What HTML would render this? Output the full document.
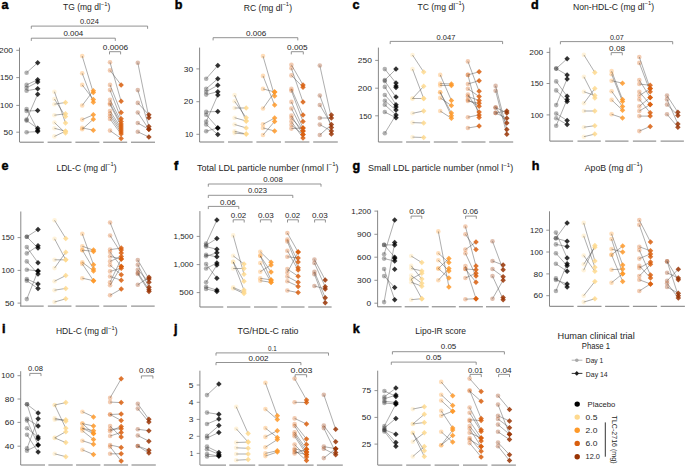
<!DOCTYPE html>
<html><head><meta charset="utf-8"><style>
html,body{margin:0;padding:0;background:#fff;width:685px;height:466px;overflow:hidden}
svg{display:block;font-family:"Liberation Sans", sans-serif}
</style></head><body>
<svg width="685" height="466" viewBox="0 0 685 466">
<rect width="685" height="466" fill="#fff"/>
<text x="1.5" y="9" font-size="12.6" font-weight="bold" fill="#000" stroke="#000" stroke-width="0.45">a</text>
<text x="86.65" y="10.3" font-size="8.6" text-anchor="middle" fill="#1e1e1e" textLength="47.3" lengthAdjust="spacingAndGlyphs">TG (mg dl<tspan font-size="5.85" dy="-4.5">−1</tspan><tspan dy="4.5">)</tspan></text>
<line x1="19.5" y1="47.6" x2="19.5" y2="142.2" stroke="#7a7a7a" stroke-width="0.9"/>
<line x1="16.3" y1="50.3" x2="19.5" y2="50.3" stroke="#7a7a7a" stroke-width="0.8"/>
<text x="13" y="53.07" font-size="7.8" text-anchor="end" fill="#1e1e1e" textLength="14.05" lengthAdjust="spacingAndGlyphs">200</text>
<line x1="16.3" y1="77.6" x2="19.5" y2="77.6" stroke="#7a7a7a" stroke-width="0.8"/>
<text x="13" y="80.37" font-size="7.8" text-anchor="end" fill="#1e1e1e" textLength="12.91" lengthAdjust="spacingAndGlyphs">150</text>
<line x1="16.3" y1="105.4" x2="19.5" y2="105.4" stroke="#7a7a7a" stroke-width="0.8"/>
<text x="13" y="108.17" font-size="7.8" text-anchor="end" fill="#1e1e1e" textLength="12.91" lengthAdjust="spacingAndGlyphs">100</text>
<line x1="16.3" y1="132.2" x2="19.5" y2="132.2" stroke="#7a7a7a" stroke-width="0.8"/>
<text x="13" y="134.97" font-size="7.8" text-anchor="end" fill="#1e1e1e" textLength="9.37" lengthAdjust="spacingAndGlyphs">50</text>
<line x1="19.8" y1="142.2" x2="43.8" y2="142.2" stroke="#7a7a7a" stroke-width="1"/>
<line x1="47.6" y1="142.2" x2="71.6" y2="142.2" stroke="#7a7a7a" stroke-width="1"/>
<line x1="75.4" y1="142.2" x2="99.4" y2="142.2" stroke="#7a7a7a" stroke-width="1"/>
<line x1="103.2" y1="142.2" x2="127.2" y2="142.2" stroke="#7a7a7a" stroke-width="1"/>
<line x1="131" y1="142.2" x2="155" y2="142.2" stroke="#7a7a7a" stroke-width="1"/>
<circle cx="26.6" cy="72.7" r="2.3" fill="#000000" fill-opacity="0.3"/>
<circle cx="26.6" cy="84.9" r="2.3" fill="#000000" fill-opacity="0.3"/>
<circle cx="26.6" cy="87.8" r="2.3" fill="#000000" fill-opacity="0.3"/>
<circle cx="26.6" cy="90.7" r="2.3" fill="#000000" fill-opacity="0.3"/>
<circle cx="26.6" cy="109" r="2.3" fill="#000000" fill-opacity="0.3"/>
<circle cx="26.6" cy="111" r="2.3" fill="#000000" fill-opacity="0.3"/>
<circle cx="26.6" cy="119.6" r="2.3" fill="#000000" fill-opacity="0.3"/>
<circle cx="26.6" cy="120.6" r="2.3" fill="#000000" fill-opacity="0.3"/>
<circle cx="26.6" cy="132.2" r="2.3" fill="#000000" fill-opacity="0.3"/>
<line x1="26.6" y1="72.7" x2="37.7" y2="62.7" stroke="#4a4a4a" stroke-width="0.45"/>
<line x1="26.6" y1="84.9" x2="37.7" y2="79.7" stroke="#4a4a4a" stroke-width="0.45"/>
<line x1="26.6" y1="87.8" x2="37.7" y2="82" stroke="#4a4a4a" stroke-width="0.45"/>
<line x1="26.6" y1="90.7" x2="37.7" y2="88.8" stroke="#4a4a4a" stroke-width="0.45"/>
<line x1="26.6" y1="109" x2="37.7" y2="130.2" stroke="#4a4a4a" stroke-width="0.45"/>
<line x1="26.6" y1="111" x2="37.7" y2="110.6" stroke="#4a4a4a" stroke-width="0.45"/>
<line x1="26.6" y1="119.6" x2="37.7" y2="94.2" stroke="#4a4a4a" stroke-width="0.45"/>
<line x1="26.6" y1="120.6" x2="37.7" y2="128.3" stroke="#4a4a4a" stroke-width="0.45"/>
<line x1="26.6" y1="132.2" x2="37.7" y2="131.6" stroke="#4a4a4a" stroke-width="0.45"/>
<path d="M37.7 59.95L40.45 62.7L37.7 65.45L34.95 62.7Z" fill="#000000" fill-opacity="0.8"/>
<path d="M37.7 76.95L40.45 79.7L37.7 82.45L34.95 79.7Z" fill="#000000" fill-opacity="0.8"/>
<path d="M37.7 79.25L40.45 82L37.7 84.75L34.95 82Z" fill="#000000" fill-opacity="0.8"/>
<path d="M37.7 86.05L40.45 88.8L37.7 91.55L34.95 88.8Z" fill="#000000" fill-opacity="0.8"/>
<path d="M37.7 127.45L40.45 130.2L37.7 132.95L34.95 130.2Z" fill="#000000" fill-opacity="0.8"/>
<path d="M37.7 107.85L40.45 110.6L37.7 113.35L34.95 110.6Z" fill="#000000" fill-opacity="0.8"/>
<path d="M37.7 91.45L40.45 94.2L37.7 96.95L34.95 94.2Z" fill="#000000" fill-opacity="0.8"/>
<path d="M37.7 125.55L40.45 128.3L37.7 131.05L34.95 128.3Z" fill="#000000" fill-opacity="0.8"/>
<path d="M37.7 128.85L40.45 131.6L37.7 134.35L34.95 131.6Z" fill="#000000" fill-opacity="0.8"/>
<circle cx="54.4" cy="91.7" r="2.3" fill="#fed98e" fill-opacity="0.32"/>
<circle cx="54.4" cy="99" r="2.3" fill="#fed98e" fill-opacity="0.32"/>
<circle cx="54.4" cy="104.2" r="2.3" fill="#fed98e" fill-opacity="0.32"/>
<circle cx="54.4" cy="115.2" r="2.3" fill="#fed98e" fill-opacity="0.32"/>
<circle cx="54.4" cy="122.5" r="2.3" fill="#fed98e" fill-opacity="0.32"/>
<circle cx="54.4" cy="128.3" r="2.3" fill="#fed98e" fill-opacity="0.32"/>
<circle cx="54.4" cy="136.4" r="2.3" fill="#fed98e" fill-opacity="0.32"/>
<line x1="54.4" y1="91.7" x2="65.5" y2="122.9" stroke="#4a4a4a" stroke-width="0.45"/>
<line x1="54.4" y1="99" x2="65.5" y2="116.4" stroke="#4a4a4a" stroke-width="0.45"/>
<line x1="54.4" y1="104.2" x2="65.5" y2="102.5" stroke="#4a4a4a" stroke-width="0.45"/>
<line x1="54.4" y1="115.2" x2="65.5" y2="113.8" stroke="#4a4a4a" stroke-width="0.45"/>
<line x1="54.4" y1="122.5" x2="65.5" y2="133.1" stroke="#4a4a4a" stroke-width="0.45"/>
<line x1="54.4" y1="128.3" x2="65.5" y2="131.2" stroke="#4a4a4a" stroke-width="0.45"/>
<line x1="54.4" y1="136.4" x2="65.5" y2="131.2" stroke="#4a4a4a" stroke-width="0.45"/>
<path d="M65.5 120.15L68.25 122.9L65.5 125.65L62.75 122.9Z" fill="#fed98e" fill-opacity="0.85"/>
<path d="M65.5 113.65L68.25 116.4L65.5 119.15L62.75 116.4Z" fill="#fed98e" fill-opacity="0.85"/>
<path d="M65.5 99.75L68.25 102.5L65.5 105.25L62.75 102.5Z" fill="#fed98e" fill-opacity="0.85"/>
<path d="M65.5 111.05L68.25 113.8L65.5 116.55L62.75 113.8Z" fill="#fed98e" fill-opacity="0.85"/>
<path d="M65.5 130.35L68.25 133.1L65.5 135.85L62.75 133.1Z" fill="#fed98e" fill-opacity="0.85"/>
<path d="M65.5 128.45L68.25 131.2L65.5 133.95L62.75 131.2Z" fill="#fed98e" fill-opacity="0.85"/>
<path d="M65.5 128.45L68.25 131.2L65.5 133.95L62.75 131.2Z" fill="#fed98e" fill-opacity="0.85"/>
<circle cx="82.2" cy="56" r="2.3" fill="#fe9929" fill-opacity="0.32"/>
<circle cx="82.2" cy="73.3" r="2.3" fill="#fe9929" fill-opacity="0.32"/>
<circle cx="82.2" cy="84.9" r="2.3" fill="#fe9929" fill-opacity="0.32"/>
<circle cx="82.2" cy="105.5" r="2.3" fill="#fe9929" fill-opacity="0.32"/>
<circle cx="82.2" cy="119.6" r="2.3" fill="#fe9929" fill-opacity="0.32"/>
<circle cx="82.2" cy="127.9" r="2.3" fill="#fe9929" fill-opacity="0.32"/>
<circle cx="82.2" cy="129.3" r="2.3" fill="#fe9929" fill-opacity="0.32"/>
<line x1="82.2" y1="56" x2="93.3" y2="92.6" stroke="#4a4a4a" stroke-width="0.45"/>
<line x1="82.2" y1="73.3" x2="93.3" y2="102.3" stroke="#4a4a4a" stroke-width="0.45"/>
<line x1="82.2" y1="84.9" x2="93.3" y2="99.4" stroke="#4a4a4a" stroke-width="0.45"/>
<line x1="82.2" y1="105.5" x2="93.3" y2="90.7" stroke="#4a4a4a" stroke-width="0.45"/>
<line x1="82.2" y1="119.6" x2="93.3" y2="114.8" stroke="#4a4a4a" stroke-width="0.45"/>
<line x1="82.2" y1="127.9" x2="93.3" y2="130.2" stroke="#4a4a4a" stroke-width="0.45"/>
<line x1="82.2" y1="129.3" x2="93.3" y2="119.2" stroke="#4a4a4a" stroke-width="0.45"/>
<path d="M93.3 89.85L96.05 92.6L93.3 95.35L90.55 92.6Z" fill="#fe9929" fill-opacity="0.85"/>
<path d="M93.3 99.55L96.05 102.3L93.3 105.05L90.55 102.3Z" fill="#fe9929" fill-opacity="0.85"/>
<path d="M93.3 96.65L96.05 99.4L93.3 102.15L90.55 99.4Z" fill="#fe9929" fill-opacity="0.85"/>
<path d="M93.3 87.95L96.05 90.7L93.3 93.45L90.55 90.7Z" fill="#fe9929" fill-opacity="0.85"/>
<path d="M93.3 112.05L96.05 114.8L93.3 117.55L90.55 114.8Z" fill="#fe9929" fill-opacity="0.85"/>
<path d="M93.3 127.45L96.05 130.2L93.3 132.95L90.55 130.2Z" fill="#fe9929" fill-opacity="0.85"/>
<path d="M93.3 116.45L96.05 119.2L93.3 121.95L90.55 119.2Z" fill="#fe9929" fill-opacity="0.85"/>
<circle cx="110" cy="62.3" r="2.3" fill="#d95f0e" fill-opacity="0.32"/>
<circle cx="110" cy="70.4" r="2.3" fill="#d95f0e" fill-opacity="0.32"/>
<circle cx="110" cy="84.9" r="2.3" fill="#d95f0e" fill-opacity="0.32"/>
<circle cx="110" cy="90.1" r="2.3" fill="#d95f0e" fill-opacity="0.32"/>
<circle cx="110" cy="99.8" r="2.3" fill="#d95f0e" fill-opacity="0.32"/>
<circle cx="110" cy="103.2" r="2.3" fill="#d95f0e" fill-opacity="0.32"/>
<circle cx="110" cy="104.5" r="2.3" fill="#d95f0e" fill-opacity="0.32"/>
<circle cx="110" cy="111" r="2.3" fill="#d95f0e" fill-opacity="0.32"/>
<circle cx="110" cy="113.8" r="2.3" fill="#d95f0e" fill-opacity="0.32"/>
<circle cx="110" cy="116.3" r="2.3" fill="#d95f0e" fill-opacity="0.32"/>
<circle cx="110" cy="119" r="2.3" fill="#d95f0e" fill-opacity="0.32"/>
<circle cx="110" cy="130.6" r="2.3" fill="#d95f0e" fill-opacity="0.32"/>
<line x1="110" y1="62.3" x2="121.1" y2="101.3" stroke="#4a4a4a" stroke-width="0.45"/>
<line x1="110" y1="70.4" x2="121.1" y2="84.9" stroke="#4a4a4a" stroke-width="0.45"/>
<line x1="110" y1="84.9" x2="121.1" y2="112.5" stroke="#4a4a4a" stroke-width="0.45"/>
<line x1="110" y1="90.1" x2="121.1" y2="118.7" stroke="#4a4a4a" stroke-width="0.45"/>
<line x1="110" y1="99.8" x2="121.1" y2="121.5" stroke="#4a4a4a" stroke-width="0.45"/>
<line x1="110" y1="103.2" x2="121.1" y2="124" stroke="#4a4a4a" stroke-width="0.45"/>
<line x1="110" y1="104.5" x2="121.1" y2="126" stroke="#4a4a4a" stroke-width="0.45"/>
<line x1="110" y1="111" x2="121.1" y2="128" stroke="#4a4a4a" stroke-width="0.45"/>
<line x1="110" y1="113.8" x2="121.1" y2="130" stroke="#4a4a4a" stroke-width="0.45"/>
<line x1="110" y1="116.3" x2="121.1" y2="132" stroke="#4a4a4a" stroke-width="0.45"/>
<line x1="110" y1="119" x2="121.1" y2="134.1" stroke="#4a4a4a" stroke-width="0.45"/>
<line x1="110" y1="130.6" x2="121.1" y2="138.4" stroke="#4a4a4a" stroke-width="0.45"/>
<path d="M121.1 98.55L123.85 101.3L121.1 104.05L118.35 101.3Z" fill="#d95f0e" fill-opacity="0.85"/>
<path d="M121.1 82.15L123.85 84.9L121.1 87.65L118.35 84.9Z" fill="#d95f0e" fill-opacity="0.85"/>
<path d="M121.1 109.75L123.85 112.5L121.1 115.25L118.35 112.5Z" fill="#d95f0e" fill-opacity="0.85"/>
<path d="M121.1 115.95L123.85 118.7L121.1 121.45L118.35 118.7Z" fill="#d95f0e" fill-opacity="0.85"/>
<path d="M121.1 118.75L123.85 121.5L121.1 124.25L118.35 121.5Z" fill="#d95f0e" fill-opacity="0.85"/>
<path d="M121.1 121.25L123.85 124L121.1 126.75L118.35 124Z" fill="#d95f0e" fill-opacity="0.85"/>
<path d="M121.1 123.25L123.85 126L121.1 128.75L118.35 126Z" fill="#d95f0e" fill-opacity="0.85"/>
<path d="M121.1 125.25L123.85 128L121.1 130.75L118.35 128Z" fill="#d95f0e" fill-opacity="0.85"/>
<path d="M121.1 127.25L123.85 130L121.1 132.75L118.35 130Z" fill="#d95f0e" fill-opacity="0.85"/>
<path d="M121.1 129.25L123.85 132L121.1 134.75L118.35 132Z" fill="#d95f0e" fill-opacity="0.85"/>
<path d="M121.1 131.35L123.85 134.1L121.1 136.85L118.35 134.1Z" fill="#d95f0e" fill-opacity="0.85"/>
<path d="M121.1 135.65L123.85 138.4L121.1 141.15L118.35 138.4Z" fill="#d95f0e" fill-opacity="0.85"/>
<circle cx="137.8" cy="62.7" r="2.3" fill="#993404" fill-opacity="0.32"/>
<circle cx="137.8" cy="90.1" r="2.3" fill="#993404" fill-opacity="0.32"/>
<circle cx="137.8" cy="102.9" r="2.3" fill="#993404" fill-opacity="0.32"/>
<circle cx="137.8" cy="112.5" r="2.3" fill="#993404" fill-opacity="0.32"/>
<circle cx="137.8" cy="123" r="2.3" fill="#993404" fill-opacity="0.32"/>
<circle cx="137.8" cy="131.8" r="2.3" fill="#993404" fill-opacity="0.32"/>
<line x1="137.8" y1="62.7" x2="148.9" y2="117.7" stroke="#4a4a4a" stroke-width="0.45"/>
<line x1="137.8" y1="90.1" x2="148.9" y2="126.4" stroke="#4a4a4a" stroke-width="0.45"/>
<line x1="137.8" y1="102.9" x2="148.9" y2="114.8" stroke="#4a4a4a" stroke-width="0.45"/>
<line x1="137.8" y1="112.5" x2="148.9" y2="129.3" stroke="#4a4a4a" stroke-width="0.45"/>
<line x1="137.8" y1="123" x2="148.9" y2="129.3" stroke="#4a4a4a" stroke-width="0.45"/>
<line x1="137.8" y1="131.8" x2="148.9" y2="137" stroke="#4a4a4a" stroke-width="0.45"/>
<path d="M148.9 114.95L151.65 117.7L148.9 120.45L146.15 117.7Z" fill="#993404" fill-opacity="0.85"/>
<path d="M148.9 123.65L151.65 126.4L148.9 129.15L146.15 126.4Z" fill="#993404" fill-opacity="0.85"/>
<path d="M148.9 112.05L151.65 114.8L148.9 117.55L146.15 114.8Z" fill="#993404" fill-opacity="0.85"/>
<path d="M148.9 126.55L151.65 129.3L148.9 132.05L146.15 129.3Z" fill="#993404" fill-opacity="0.85"/>
<path d="M148.9 126.55L151.65 129.3L148.9 132.05L146.15 129.3Z" fill="#993404" fill-opacity="0.85"/>
<path d="M148.9 134.25L151.65 137L148.9 139.75L146.15 137Z" fill="#993404" fill-opacity="0.85"/>
<path d="M31.3 28.8V26.1H147.6V28.8" fill="none" stroke="#808080" stroke-width="0.85"/>
<text x="89.45" y="24.2" font-size="7.7" text-anchor="middle" fill="#1e1e1e" textLength="18.7" lengthAdjust="spacingAndGlyphs">0.024</text>
<path d="M31.3 40.9V38.2H115.3V40.9" fill="none" stroke="#808080" stroke-width="0.85"/>
<text x="73.35" y="36.3" font-size="7.7" text-anchor="middle" fill="#1e1e1e" textLength="19.9" lengthAdjust="spacingAndGlyphs">0.004</text>
<path d="M109.5 54.4V51.7H120.6V54.4" fill="none" stroke="#808080" stroke-width="0.85"/>
<text x="115.45" y="49.8" font-size="7.7" text-anchor="middle" fill="#1e1e1e" textLength="25.3" lengthAdjust="spacingAndGlyphs">0.0006</text>
<text x="174.7" y="9" font-size="12.6" font-weight="bold" fill="#000" stroke="#000" stroke-width="0.45">b</text>
<text x="267.9" y="10.5" font-size="8.6" text-anchor="middle" fill="#1e1e1e" textLength="48.2" lengthAdjust="spacingAndGlyphs">RC (mg dl<tspan font-size="5.85" dy="-4.5">−1</tspan><tspan dy="4.5">)</tspan></text>
<line x1="199.6" y1="47.6" x2="199.6" y2="142" stroke="#7a7a7a" stroke-width="0.9"/>
<line x1="196.4" y1="68.9" x2="199.6" y2="68.9" stroke="#7a7a7a" stroke-width="0.8"/>
<text x="193.1" y="71.67" font-size="7.8" text-anchor="end" fill="#1e1e1e" textLength="9.37" lengthAdjust="spacingAndGlyphs">30</text>
<line x1="196.4" y1="101.7" x2="199.6" y2="101.7" stroke="#7a7a7a" stroke-width="0.8"/>
<text x="193.1" y="104.47" font-size="7.8" text-anchor="end" fill="#1e1e1e" textLength="9.37" lengthAdjust="spacingAndGlyphs">20</text>
<line x1="196.4" y1="134.3" x2="199.6" y2="134.3" stroke="#7a7a7a" stroke-width="0.8"/>
<text x="193.1" y="137.07" font-size="7.8" text-anchor="end" fill="#1e1e1e" textLength="8.22" lengthAdjust="spacingAndGlyphs">10</text>
<line x1="199.6" y1="142" x2="224.2" y2="142" stroke="#7a7a7a" stroke-width="1"/>
<line x1="228" y1="142" x2="252.6" y2="142" stroke="#7a7a7a" stroke-width="1"/>
<line x1="256.4" y1="142" x2="281" y2="142" stroke="#7a7a7a" stroke-width="1"/>
<line x1="284.8" y1="142" x2="309.4" y2="142" stroke="#7a7a7a" stroke-width="1"/>
<line x1="313.2" y1="142" x2="337.8" y2="142" stroke="#7a7a7a" stroke-width="1"/>
<circle cx="206.2" cy="78.7" r="2.3" fill="#000000" fill-opacity="0.3"/>
<circle cx="206.2" cy="88.8" r="2.3" fill="#000000" fill-opacity="0.3"/>
<circle cx="206.2" cy="91.7" r="2.3" fill="#000000" fill-opacity="0.3"/>
<circle cx="206.2" cy="94.6" r="2.3" fill="#000000" fill-opacity="0.3"/>
<circle cx="206.2" cy="111.9" r="2.3" fill="#000000" fill-opacity="0.3"/>
<circle cx="206.2" cy="114.8" r="2.3" fill="#000000" fill-opacity="0.3"/>
<circle cx="206.2" cy="121.6" r="2.3" fill="#000000" fill-opacity="0.3"/>
<circle cx="206.2" cy="124.5" r="2.3" fill="#000000" fill-opacity="0.3"/>
<circle cx="206.2" cy="131.2" r="2.3" fill="#000000" fill-opacity="0.3"/>
<line x1="206.2" y1="78.7" x2="217.8" y2="65.6" stroke="#4a4a4a" stroke-width="0.45"/>
<line x1="206.2" y1="88.8" x2="217.8" y2="78.7" stroke="#4a4a4a" stroke-width="0.45"/>
<line x1="206.2" y1="91.7" x2="217.8" y2="85.3" stroke="#4a4a4a" stroke-width="0.45"/>
<line x1="206.2" y1="94.6" x2="217.8" y2="91.7" stroke="#4a4a4a" stroke-width="0.45"/>
<line x1="206.2" y1="111.9" x2="217.8" y2="111.5" stroke="#4a4a4a" stroke-width="0.45"/>
<line x1="206.2" y1="114.8" x2="217.8" y2="127.9" stroke="#4a4a4a" stroke-width="0.45"/>
<line x1="206.2" y1="121.6" x2="217.8" y2="95.1" stroke="#4a4a4a" stroke-width="0.45"/>
<line x1="206.2" y1="124.5" x2="217.8" y2="134.5" stroke="#4a4a4a" stroke-width="0.45"/>
<line x1="206.2" y1="131.2" x2="217.8" y2="127.9" stroke="#4a4a4a" stroke-width="0.45"/>
<path d="M217.8 62.85L220.55 65.6L217.8 68.35L215.05 65.6Z" fill="#000000" fill-opacity="0.8"/>
<path d="M217.8 75.95L220.55 78.7L217.8 81.45L215.05 78.7Z" fill="#000000" fill-opacity="0.8"/>
<path d="M217.8 82.55L220.55 85.3L217.8 88.05L215.05 85.3Z" fill="#000000" fill-opacity="0.8"/>
<path d="M217.8 88.95L220.55 91.7L217.8 94.45L215.05 91.7Z" fill="#000000" fill-opacity="0.8"/>
<path d="M217.8 108.75L220.55 111.5L217.8 114.25L215.05 111.5Z" fill="#000000" fill-opacity="0.8"/>
<path d="M217.8 125.15L220.55 127.9L217.8 130.65L215.05 127.9Z" fill="#000000" fill-opacity="0.8"/>
<path d="M217.8 92.35L220.55 95.1L217.8 97.85L215.05 95.1Z" fill="#000000" fill-opacity="0.8"/>
<path d="M217.8 131.75L220.55 134.5L217.8 137.25L215.05 134.5Z" fill="#000000" fill-opacity="0.8"/>
<path d="M217.8 125.15L220.55 127.9L217.8 130.65L215.05 127.9Z" fill="#000000" fill-opacity="0.8"/>
<circle cx="234.6" cy="95.1" r="2.3" fill="#fed98e" fill-opacity="0.32"/>
<circle cx="234.6" cy="101.3" r="2.3" fill="#fed98e" fill-opacity="0.32"/>
<circle cx="234.6" cy="108" r="2.3" fill="#fed98e" fill-opacity="0.32"/>
<circle cx="234.6" cy="117.7" r="2.3" fill="#fed98e" fill-opacity="0.32"/>
<circle cx="234.6" cy="124.5" r="2.3" fill="#fed98e" fill-opacity="0.32"/>
<circle cx="234.6" cy="131.2" r="2.3" fill="#fed98e" fill-opacity="0.32"/>
<circle cx="234.6" cy="133.1" r="2.3" fill="#fed98e" fill-opacity="0.32"/>
<line x1="234.6" y1="95.1" x2="246.2" y2="121" stroke="#4a4a4a" stroke-width="0.45"/>
<line x1="234.6" y1="101.3" x2="246.2" y2="117.7" stroke="#4a4a4a" stroke-width="0.45"/>
<line x1="234.6" y1="108" x2="246.2" y2="108" stroke="#4a4a4a" stroke-width="0.45"/>
<line x1="234.6" y1="117.7" x2="246.2" y2="121" stroke="#4a4a4a" stroke-width="0.45"/>
<line x1="234.6" y1="124.5" x2="246.2" y2="127.9" stroke="#4a4a4a" stroke-width="0.45"/>
<line x1="234.6" y1="131.2" x2="246.2" y2="134.1" stroke="#4a4a4a" stroke-width="0.45"/>
<line x1="234.6" y1="133.1" x2="246.2" y2="134.1" stroke="#4a4a4a" stroke-width="0.45"/>
<path d="M246.2 118.25L248.95 121L246.2 123.75L243.45 121Z" fill="#fed98e" fill-opacity="0.85"/>
<path d="M246.2 114.95L248.95 117.7L246.2 120.45L243.45 117.7Z" fill="#fed98e" fill-opacity="0.85"/>
<path d="M246.2 105.25L248.95 108L246.2 110.75L243.45 108Z" fill="#fed98e" fill-opacity="0.85"/>
<path d="M246.2 118.25L248.95 121L246.2 123.75L243.45 121Z" fill="#fed98e" fill-opacity="0.85"/>
<path d="M246.2 125.15L248.95 127.9L246.2 130.65L243.45 127.9Z" fill="#fed98e" fill-opacity="0.85"/>
<path d="M246.2 131.35L248.95 134.1L246.2 136.85L243.45 134.1Z" fill="#fed98e" fill-opacity="0.85"/>
<path d="M246.2 131.35L248.95 134.1L246.2 136.85L243.45 134.1Z" fill="#fed98e" fill-opacity="0.85"/>
<circle cx="263" cy="56.1" r="2.3" fill="#fe9929" fill-opacity="0.32"/>
<circle cx="263" cy="75.9" r="2.3" fill="#fe9929" fill-opacity="0.32"/>
<circle cx="263" cy="88.9" r="2.3" fill="#fe9929" fill-opacity="0.32"/>
<circle cx="263" cy="108.5" r="2.3" fill="#fe9929" fill-opacity="0.32"/>
<circle cx="263" cy="124.3" r="2.3" fill="#fe9929" fill-opacity="0.32"/>
<circle cx="263" cy="127.9" r="2.3" fill="#fe9929" fill-opacity="0.32"/>
<circle cx="263" cy="135" r="2.3" fill="#fe9929" fill-opacity="0.32"/>
<line x1="263" y1="56.1" x2="274.6" y2="96" stroke="#4a4a4a" stroke-width="0.45"/>
<line x1="263" y1="75.9" x2="274.6" y2="105" stroke="#4a4a4a" stroke-width="0.45"/>
<line x1="263" y1="88.9" x2="274.6" y2="92" stroke="#4a4a4a" stroke-width="0.45"/>
<line x1="263" y1="108.5" x2="274.6" y2="92" stroke="#4a4a4a" stroke-width="0.45"/>
<line x1="263" y1="124.3" x2="274.6" y2="118" stroke="#4a4a4a" stroke-width="0.45"/>
<line x1="263" y1="127.9" x2="274.6" y2="131" stroke="#4a4a4a" stroke-width="0.45"/>
<line x1="263" y1="135" x2="274.6" y2="121.5" stroke="#4a4a4a" stroke-width="0.45"/>
<path d="M274.6 93.25L277.35 96L274.6 98.75L271.85 96Z" fill="#fe9929" fill-opacity="0.85"/>
<path d="M274.6 102.25L277.35 105L274.6 107.75L271.85 105Z" fill="#fe9929" fill-opacity="0.85"/>
<path d="M274.6 89.25L277.35 92L274.6 94.75L271.85 92Z" fill="#fe9929" fill-opacity="0.85"/>
<path d="M274.6 89.25L277.35 92L274.6 94.75L271.85 92Z" fill="#fe9929" fill-opacity="0.85"/>
<path d="M274.6 115.25L277.35 118L274.6 120.75L271.85 118Z" fill="#fe9929" fill-opacity="0.85"/>
<path d="M274.6 128.25L277.35 131L274.6 133.75L271.85 131Z" fill="#fe9929" fill-opacity="0.85"/>
<path d="M274.6 118.75L277.35 121.5L274.6 124.25L271.85 121.5Z" fill="#fe9929" fill-opacity="0.85"/>
<circle cx="291.4" cy="64.8" r="2.3" fill="#d95f0e" fill-opacity="0.32"/>
<circle cx="291.4" cy="68.3" r="2.3" fill="#d95f0e" fill-opacity="0.32"/>
<circle cx="291.4" cy="75.4" r="2.3" fill="#d95f0e" fill-opacity="0.32"/>
<circle cx="291.4" cy="88.9" r="2.3" fill="#d95f0e" fill-opacity="0.32"/>
<circle cx="291.4" cy="90.8" r="2.3" fill="#d95f0e" fill-opacity="0.32"/>
<circle cx="291.4" cy="101.9" r="2.3" fill="#d95f0e" fill-opacity="0.32"/>
<circle cx="291.4" cy="108.5" r="2.3" fill="#d95f0e" fill-opacity="0.32"/>
<circle cx="291.4" cy="115.6" r="2.3" fill="#d95f0e" fill-opacity="0.32"/>
<circle cx="291.4" cy="118" r="2.3" fill="#d95f0e" fill-opacity="0.32"/>
<circle cx="291.4" cy="121.5" r="2.3" fill="#d95f0e" fill-opacity="0.32"/>
<circle cx="291.4" cy="125" r="2.3" fill="#d95f0e" fill-opacity="0.32"/>
<circle cx="291.4" cy="128.6" r="2.3" fill="#d95f0e" fill-opacity="0.32"/>
<line x1="291.4" y1="64.8" x2="303" y2="84.9" stroke="#4a4a4a" stroke-width="0.45"/>
<line x1="291.4" y1="68.3" x2="303" y2="101.9" stroke="#4a4a4a" stroke-width="0.45"/>
<line x1="291.4" y1="75.4" x2="303" y2="87.2" stroke="#4a4a4a" stroke-width="0.45"/>
<line x1="291.4" y1="88.9" x2="303" y2="115.1" stroke="#4a4a4a" stroke-width="0.45"/>
<line x1="291.4" y1="90.8" x2="303" y2="121.5" stroke="#4a4a4a" stroke-width="0.45"/>
<line x1="291.4" y1="101.9" x2="303" y2="127.9" stroke="#4a4a4a" stroke-width="0.45"/>
<line x1="291.4" y1="108.5" x2="303" y2="131" stroke="#4a4a4a" stroke-width="0.45"/>
<line x1="291.4" y1="115.6" x2="303" y2="134.5" stroke="#4a4a4a" stroke-width="0.45"/>
<line x1="291.4" y1="118" x2="303" y2="131" stroke="#4a4a4a" stroke-width="0.45"/>
<line x1="291.4" y1="121.5" x2="303" y2="138" stroke="#4a4a4a" stroke-width="0.45"/>
<line x1="291.4" y1="125" x2="303" y2="134.5" stroke="#4a4a4a" stroke-width="0.45"/>
<line x1="291.4" y1="128.6" x2="303" y2="127.9" stroke="#4a4a4a" stroke-width="0.45"/>
<path d="M303 82.15L305.75 84.9L303 87.65L300.25 84.9Z" fill="#d95f0e" fill-opacity="0.85"/>
<path d="M303 99.15L305.75 101.9L303 104.65L300.25 101.9Z" fill="#d95f0e" fill-opacity="0.85"/>
<path d="M303 84.45L305.75 87.2L303 89.95L300.25 87.2Z" fill="#d95f0e" fill-opacity="0.85"/>
<path d="M303 112.35L305.75 115.1L303 117.85L300.25 115.1Z" fill="#d95f0e" fill-opacity="0.85"/>
<path d="M303 118.75L305.75 121.5L303 124.25L300.25 121.5Z" fill="#d95f0e" fill-opacity="0.85"/>
<path d="M303 125.15L305.75 127.9L303 130.65L300.25 127.9Z" fill="#d95f0e" fill-opacity="0.85"/>
<path d="M303 128.25L305.75 131L303 133.75L300.25 131Z" fill="#d95f0e" fill-opacity="0.85"/>
<path d="M303 131.75L305.75 134.5L303 137.25L300.25 134.5Z" fill="#d95f0e" fill-opacity="0.85"/>
<path d="M303 128.25L305.75 131L303 133.75L300.25 131Z" fill="#d95f0e" fill-opacity="0.85"/>
<path d="M303 135.25L305.75 138L303 140.75L300.25 138Z" fill="#d95f0e" fill-opacity="0.85"/>
<path d="M303 131.75L305.75 134.5L303 137.25L300.25 134.5Z" fill="#d95f0e" fill-opacity="0.85"/>
<path d="M303 125.15L305.75 127.9L303 130.65L300.25 127.9Z" fill="#d95f0e" fill-opacity="0.85"/>
<circle cx="319.8" cy="65.5" r="2.3" fill="#993404" fill-opacity="0.32"/>
<circle cx="319.8" cy="95.5" r="2.3" fill="#993404" fill-opacity="0.32"/>
<circle cx="319.8" cy="105" r="2.3" fill="#993404" fill-opacity="0.32"/>
<circle cx="319.8" cy="118" r="2.3" fill="#993404" fill-opacity="0.32"/>
<circle cx="319.8" cy="124.6" r="2.3" fill="#993404" fill-opacity="0.32"/>
<circle cx="319.8" cy="135" r="2.3" fill="#993404" fill-opacity="0.32"/>
<line x1="319.8" y1="65.5" x2="331.4" y2="118" stroke="#4a4a4a" stroke-width="0.45"/>
<line x1="319.8" y1="95.5" x2="331.4" y2="127.4" stroke="#4a4a4a" stroke-width="0.45"/>
<line x1="319.8" y1="105" x2="331.4" y2="124.6" stroke="#4a4a4a" stroke-width="0.45"/>
<line x1="319.8" y1="118" x2="331.4" y2="118" stroke="#4a4a4a" stroke-width="0.45"/>
<line x1="319.8" y1="124.6" x2="331.4" y2="131" stroke="#4a4a4a" stroke-width="0.45"/>
<line x1="319.8" y1="135" x2="331.4" y2="124.6" stroke="#4a4a4a" stroke-width="0.45"/>
<path d="M331.4 112.35L334.15 115.1L331.4 117.85L328.65 115.1Z" fill="#993404" fill-opacity="0.85"/>
<path d="M331.4 115.25L334.15 118L331.4 120.75L328.65 118Z" fill="#993404" fill-opacity="0.85"/>
<path d="M331.4 121.85L334.15 124.6L331.4 127.35L328.65 124.6Z" fill="#993404" fill-opacity="0.85"/>
<path d="M331.4 124.65L334.15 127.4L331.4 130.15L328.65 127.4Z" fill="#993404" fill-opacity="0.85"/>
<path d="M331.4 128.25L334.15 131L331.4 133.75L328.65 131Z" fill="#993404" fill-opacity="0.85"/>
<path d="M331.4 131.25L334.15 134L331.4 136.75L328.65 134Z" fill="#993404" fill-opacity="0.85"/>
<path d="M213.1 40.4V37.7H297.8V40.4" fill="none" stroke="#808080" stroke-width="0.85"/>
<text x="256.05" y="35.8" font-size="7.7" text-anchor="middle" fill="#1e1e1e" textLength="20.3" lengthAdjust="spacingAndGlyphs">0.006</text>
<path d="M291.3 54.4V51.7H303.3V54.4" fill="none" stroke="#808080" stroke-width="0.85"/>
<text x="297.4" y="49.8" font-size="7.7" text-anchor="middle" fill="#1e1e1e" textLength="20.6" lengthAdjust="spacingAndGlyphs">0.005</text>
<text x="352.5" y="9.2" font-size="12.6" font-weight="bold" fill="#000" stroke="#000" stroke-width="0.45">c</text>
<text x="441.05" y="9.9" font-size="8.6" text-anchor="middle" fill="#1e1e1e" textLength="47.3" lengthAdjust="spacingAndGlyphs">TC (mg dl<tspan font-size="5.85" dy="-4.5">−1</tspan><tspan dy="4.5">)</tspan></text>
<line x1="378.4" y1="47.6" x2="378.4" y2="142" stroke="#7a7a7a" stroke-width="0.9"/>
<line x1="375.2" y1="60.4" x2="378.4" y2="60.4" stroke="#7a7a7a" stroke-width="0.8"/>
<text x="371.9" y="63.17" font-size="7.8" text-anchor="end" fill="#1e1e1e" textLength="14.05" lengthAdjust="spacingAndGlyphs">250</text>
<line x1="375.2" y1="88.2" x2="378.4" y2="88.2" stroke="#7a7a7a" stroke-width="0.8"/>
<text x="371.9" y="90.97" font-size="7.8" text-anchor="end" fill="#1e1e1e" textLength="14.05" lengthAdjust="spacingAndGlyphs">200</text>
<line x1="375.2" y1="115.8" x2="378.4" y2="115.8" stroke="#7a7a7a" stroke-width="0.8"/>
<text x="371.9" y="118.57" font-size="7.8" text-anchor="end" fill="#1e1e1e" textLength="12.91" lengthAdjust="spacingAndGlyphs">150</text>
<line x1="378.4" y1="142" x2="402.4" y2="142" stroke="#7a7a7a" stroke-width="1"/>
<line x1="406.1" y1="142" x2="430.1" y2="142" stroke="#7a7a7a" stroke-width="1"/>
<line x1="433.8" y1="142" x2="457.8" y2="142" stroke="#7a7a7a" stroke-width="1"/>
<line x1="461.5" y1="142" x2="485.5" y2="142" stroke="#7a7a7a" stroke-width="1"/>
<line x1="489.2" y1="142" x2="513.2" y2="142" stroke="#7a7a7a" stroke-width="1"/>
<circle cx="384.8" cy="80.1" r="2.3" fill="#000000" fill-opacity="0.3"/>
<circle cx="384.8" cy="69.1" r="2.3" fill="#000000" fill-opacity="0.3"/>
<circle cx="384.8" cy="81.1" r="2.3" fill="#000000" fill-opacity="0.3"/>
<circle cx="384.8" cy="86.9" r="2.3" fill="#000000" fill-opacity="0.3"/>
<circle cx="384.8" cy="95" r="2.3" fill="#000000" fill-opacity="0.3"/>
<circle cx="384.8" cy="100.8" r="2.3" fill="#000000" fill-opacity="0.3"/>
<circle cx="384.8" cy="104.8" r="2.3" fill="#000000" fill-opacity="0.3"/>
<circle cx="384.8" cy="112" r="2.3" fill="#000000" fill-opacity="0.3"/>
<circle cx="384.8" cy="133.2" r="2.3" fill="#000000" fill-opacity="0.3"/>
<line x1="384.8" y1="80.1" x2="396" y2="69.1" stroke="#4a4a4a" stroke-width="0.45"/>
<line x1="384.8" y1="69.1" x2="396" y2="83" stroke="#4a4a4a" stroke-width="0.45"/>
<line x1="384.8" y1="81.1" x2="396" y2="97.1" stroke="#4a4a4a" stroke-width="0.45"/>
<line x1="384.8" y1="86.9" x2="396" y2="104.8" stroke="#4a4a4a" stroke-width="0.45"/>
<line x1="384.8" y1="95" x2="396" y2="107.1" stroke="#4a4a4a" stroke-width="0.45"/>
<line x1="384.8" y1="100.8" x2="396" y2="110" stroke="#4a4a4a" stroke-width="0.45"/>
<line x1="384.8" y1="104.8" x2="396" y2="114.9" stroke="#4a4a4a" stroke-width="0.45"/>
<line x1="384.8" y1="112" x2="396" y2="117.8" stroke="#4a4a4a" stroke-width="0.45"/>
<line x1="384.8" y1="133.2" x2="396" y2="114.9" stroke="#4a4a4a" stroke-width="0.45"/>
<path d="M396 66.35L398.75 69.1L396 71.85L393.25 69.1Z" fill="#000000" fill-opacity="0.8"/>
<path d="M396 80.25L398.75 83L396 85.75L393.25 83Z" fill="#000000" fill-opacity="0.8"/>
<path d="M396 83.15L398.75 85.9L396 88.65L393.25 85.9Z" fill="#000000" fill-opacity="0.8"/>
<path d="M396 84.65L398.75 87.4L396 90.15L393.25 87.4Z" fill="#000000" fill-opacity="0.8"/>
<path d="M396 94.35L398.75 97.1L396 99.85L393.25 97.1Z" fill="#000000" fill-opacity="0.8"/>
<path d="M396 102.05L398.75 104.8L396 107.55L393.25 104.8Z" fill="#000000" fill-opacity="0.8"/>
<path d="M396 104.35L398.75 107.1L396 109.85L393.25 107.1Z" fill="#000000" fill-opacity="0.8"/>
<path d="M396 107.25L398.75 110L396 112.75L393.25 110Z" fill="#000000" fill-opacity="0.8"/>
<path d="M396 112.15L398.75 114.9L396 117.65L393.25 114.9Z" fill="#000000" fill-opacity="0.8"/>
<path d="M396 115.05L398.75 117.8L396 120.55L393.25 117.8Z" fill="#000000" fill-opacity="0.8"/>
<circle cx="412.5" cy="55" r="2.3" fill="#fed98e" fill-opacity="0.32"/>
<circle cx="412.5" cy="69.1" r="2.3" fill="#fed98e" fill-opacity="0.32"/>
<circle cx="412.5" cy="98.5" r="2.3" fill="#fed98e" fill-opacity="0.32"/>
<circle cx="412.5" cy="98.5" r="2.3" fill="#fed98e" fill-opacity="0.32"/>
<circle cx="412.5" cy="113.3" r="2.3" fill="#fed98e" fill-opacity="0.32"/>
<circle cx="412.5" cy="122.6" r="2.3" fill="#fed98e" fill-opacity="0.32"/>
<circle cx="412.5" cy="137.1" r="2.3" fill="#fed98e" fill-opacity="0.32"/>
<line x1="412.5" y1="55" x2="423.7" y2="72" stroke="#4a4a4a" stroke-width="0.45"/>
<line x1="412.5" y1="69.1" x2="423.7" y2="98.5" stroke="#4a4a4a" stroke-width="0.45"/>
<line x1="412.5" y1="98.5" x2="423.7" y2="86.3" stroke="#4a4a4a" stroke-width="0.45"/>
<line x1="412.5" y1="98.5" x2="423.7" y2="98.5" stroke="#4a4a4a" stroke-width="0.45"/>
<line x1="412.5" y1="113.3" x2="423.7" y2="111" stroke="#4a4a4a" stroke-width="0.45"/>
<line x1="412.5" y1="122.6" x2="423.7" y2="123" stroke="#4a4a4a" stroke-width="0.45"/>
<line x1="412.5" y1="137.1" x2="423.7" y2="137.5" stroke="#4a4a4a" stroke-width="0.45"/>
<path d="M423.7 69.25L426.45 72L423.7 74.75L420.95 72Z" fill="#fed98e" fill-opacity="0.85"/>
<path d="M423.7 95.75L426.45 98.5L423.7 101.25L420.95 98.5Z" fill="#fed98e" fill-opacity="0.85"/>
<path d="M423.7 83.55L426.45 86.3L423.7 89.05L420.95 86.3Z" fill="#fed98e" fill-opacity="0.85"/>
<path d="M423.7 95.75L426.45 98.5L423.7 101.25L420.95 98.5Z" fill="#fed98e" fill-opacity="0.85"/>
<path d="M423.7 108.25L426.45 111L423.7 113.75L420.95 111Z" fill="#fed98e" fill-opacity="0.85"/>
<path d="M423.7 120.25L426.45 123L423.7 125.75L420.95 123Z" fill="#fed98e" fill-opacity="0.85"/>
<path d="M423.7 134.75L426.45 137.5L423.7 140.25L420.95 137.5Z" fill="#fed98e" fill-opacity="0.85"/>
<circle cx="440.2" cy="74.9" r="2.3" fill="#fe9929" fill-opacity="0.32"/>
<circle cx="440.2" cy="83.6" r="2.3" fill="#fe9929" fill-opacity="0.32"/>
<circle cx="440.2" cy="85.5" r="2.3" fill="#fe9929" fill-opacity="0.32"/>
<circle cx="440.2" cy="92.3" r="2.3" fill="#fe9929" fill-opacity="0.32"/>
<circle cx="440.2" cy="97.9" r="2.3" fill="#fe9929" fill-opacity="0.32"/>
<circle cx="440.2" cy="111" r="2.3" fill="#fe9929" fill-opacity="0.32"/>
<circle cx="440.2" cy="92.3" r="2.3" fill="#fe9929" fill-opacity="0.32"/>
<line x1="440.2" y1="74.9" x2="451.4" y2="100.4" stroke="#4a4a4a" stroke-width="0.45"/>
<line x1="440.2" y1="83.6" x2="451.4" y2="84" stroke="#4a4a4a" stroke-width="0.45"/>
<line x1="440.2" y1="85.5" x2="451.4" y2="85.5" stroke="#4a4a4a" stroke-width="0.45"/>
<line x1="440.2" y1="92.3" x2="451.4" y2="112.9" stroke="#4a4a4a" stroke-width="0.45"/>
<line x1="440.2" y1="97.9" x2="451.4" y2="105.6" stroke="#4a4a4a" stroke-width="0.45"/>
<line x1="440.2" y1="111" x2="451.4" y2="118.2" stroke="#4a4a4a" stroke-width="0.45"/>
<line x1="440.2" y1="92.3" x2="451.4" y2="115.8" stroke="#4a4a4a" stroke-width="0.45"/>
<path d="M451.4 97.65L454.15 100.4L451.4 103.15L448.65 100.4Z" fill="#fe9929" fill-opacity="0.85"/>
<path d="M451.4 81.25L454.15 84L451.4 86.75L448.65 84Z" fill="#fe9929" fill-opacity="0.85"/>
<path d="M451.4 82.75L454.15 85.5L451.4 88.25L448.65 85.5Z" fill="#fe9929" fill-opacity="0.85"/>
<path d="M451.4 110.15L454.15 112.9L451.4 115.65L448.65 112.9Z" fill="#fe9929" fill-opacity="0.85"/>
<path d="M451.4 102.85L454.15 105.6L451.4 108.35L448.65 105.6Z" fill="#fe9929" fill-opacity="0.85"/>
<path d="M451.4 115.45L454.15 118.2L451.4 120.95L448.65 118.2Z" fill="#fe9929" fill-opacity="0.85"/>
<path d="M451.4 113.05L454.15 115.8L451.4 118.55L448.65 115.8Z" fill="#fe9929" fill-opacity="0.85"/>
<circle cx="467.9" cy="61.4" r="2.3" fill="#d95f0e" fill-opacity="0.32"/>
<circle cx="467.9" cy="74.9" r="2.3" fill="#d95f0e" fill-opacity="0.32"/>
<circle cx="467.9" cy="84" r="2.3" fill="#d95f0e" fill-opacity="0.32"/>
<circle cx="467.9" cy="88.8" r="2.3" fill="#d95f0e" fill-opacity="0.32"/>
<circle cx="467.9" cy="94.6" r="2.3" fill="#d95f0e" fill-opacity="0.32"/>
<circle cx="467.9" cy="96.5" r="2.3" fill="#d95f0e" fill-opacity="0.32"/>
<circle cx="467.9" cy="99.8" r="2.3" fill="#d95f0e" fill-opacity="0.32"/>
<circle cx="467.9" cy="101" r="2.3" fill="#d95f0e" fill-opacity="0.32"/>
<circle cx="467.9" cy="117.2" r="2.3" fill="#d95f0e" fill-opacity="0.32"/>
<circle cx="467.9" cy="128" r="2.3" fill="#d95f0e" fill-opacity="0.32"/>
<circle cx="467.9" cy="74.9" r="2.3" fill="#d95f0e" fill-opacity="0.32"/>
<line x1="467.9" y1="61.4" x2="479.1" y2="91.3" stroke="#4a4a4a" stroke-width="0.45"/>
<line x1="467.9" y1="74.9" x2="479.1" y2="71.8" stroke="#4a4a4a" stroke-width="0.45"/>
<line x1="467.9" y1="84" x2="479.1" y2="80.7" stroke="#4a4a4a" stroke-width="0.45"/>
<line x1="467.9" y1="88.8" x2="479.1" y2="96.5" stroke="#4a4a4a" stroke-width="0.45"/>
<line x1="467.9" y1="94.6" x2="479.1" y2="112" stroke="#4a4a4a" stroke-width="0.45"/>
<line x1="467.9" y1="96.5" x2="479.1" y2="100.4" stroke="#4a4a4a" stroke-width="0.45"/>
<line x1="467.9" y1="99.8" x2="479.1" y2="106.2" stroke="#4a4a4a" stroke-width="0.45"/>
<line x1="467.9" y1="101" x2="479.1" y2="103.3" stroke="#4a4a4a" stroke-width="0.45"/>
<line x1="467.9" y1="117.2" x2="479.1" y2="114.9" stroke="#4a4a4a" stroke-width="0.45"/>
<line x1="467.9" y1="128" x2="479.1" y2="126.1" stroke="#4a4a4a" stroke-width="0.45"/>
<line x1="467.9" y1="74.9" x2="479.1" y2="117.4" stroke="#4a4a4a" stroke-width="0.45"/>
<path d="M479.1 88.55L481.85 91.3L479.1 94.05L476.35 91.3Z" fill="#d95f0e" fill-opacity="0.85"/>
<path d="M479.1 69.05L481.85 71.8L479.1 74.55L476.35 71.8Z" fill="#d95f0e" fill-opacity="0.85"/>
<path d="M479.1 77.95L481.85 80.7L479.1 83.45L476.35 80.7Z" fill="#d95f0e" fill-opacity="0.85"/>
<path d="M479.1 93.75L481.85 96.5L479.1 99.25L476.35 96.5Z" fill="#d95f0e" fill-opacity="0.85"/>
<path d="M479.1 109.25L481.85 112L479.1 114.75L476.35 112Z" fill="#d95f0e" fill-opacity="0.85"/>
<path d="M479.1 97.65L481.85 100.4L479.1 103.15L476.35 100.4Z" fill="#d95f0e" fill-opacity="0.85"/>
<path d="M479.1 103.45L481.85 106.2L479.1 108.95L476.35 106.2Z" fill="#d95f0e" fill-opacity="0.85"/>
<path d="M479.1 100.55L481.85 103.3L479.1 106.05L476.35 103.3Z" fill="#d95f0e" fill-opacity="0.85"/>
<path d="M479.1 112.15L481.85 114.9L479.1 117.65L476.35 114.9Z" fill="#d95f0e" fill-opacity="0.85"/>
<path d="M479.1 123.35L481.85 126.1L479.1 128.85L476.35 126.1Z" fill="#d95f0e" fill-opacity="0.85"/>
<path d="M479.1 114.65L481.85 117.4L479.1 120.15L476.35 117.4Z" fill="#d95f0e" fill-opacity="0.85"/>
<circle cx="495.6" cy="85.9" r="2.3" fill="#993404" fill-opacity="0.32"/>
<circle cx="495.6" cy="90.7" r="2.3" fill="#993404" fill-opacity="0.32"/>
<circle cx="495.6" cy="107.5" r="2.3" fill="#993404" fill-opacity="0.32"/>
<circle cx="495.6" cy="112.9" r="2.3" fill="#993404" fill-opacity="0.32"/>
<circle cx="495.6" cy="107.5" r="2.3" fill="#993404" fill-opacity="0.32"/>
<circle cx="495.6" cy="112.9" r="2.3" fill="#993404" fill-opacity="0.32"/>
<line x1="495.6" y1="85.9" x2="506.8" y2="129.4" stroke="#4a4a4a" stroke-width="0.45"/>
<line x1="495.6" y1="90.7" x2="506.8" y2="134.2" stroke="#4a4a4a" stroke-width="0.45"/>
<line x1="495.6" y1="107.5" x2="506.8" y2="112.9" stroke="#4a4a4a" stroke-width="0.45"/>
<line x1="495.6" y1="112.9" x2="506.8" y2="118.3" stroke="#4a4a4a" stroke-width="0.45"/>
<line x1="495.6" y1="107.5" x2="506.8" y2="123" stroke="#4a4a4a" stroke-width="0.45"/>
<line x1="495.6" y1="112.9" x2="506.8" y2="111" stroke="#4a4a4a" stroke-width="0.45"/>
<path d="M506.8 126.65L509.55 129.4L506.8 132.15L504.05 129.4Z" fill="#993404" fill-opacity="0.85"/>
<path d="M506.8 131.45L509.55 134.2L506.8 136.95L504.05 134.2Z" fill="#993404" fill-opacity="0.85"/>
<path d="M506.8 110.15L509.55 112.9L506.8 115.65L504.05 112.9Z" fill="#993404" fill-opacity="0.85"/>
<path d="M506.8 115.55L509.55 118.3L506.8 121.05L504.05 118.3Z" fill="#993404" fill-opacity="0.85"/>
<path d="M506.8 120.25L509.55 123L506.8 125.75L504.05 123Z" fill="#993404" fill-opacity="0.85"/>
<path d="M506.8 108.25L509.55 111L506.8 113.75L504.05 111Z" fill="#993404" fill-opacity="0.85"/>
<path d="M390.2 44.1V41.4H502.6V44.1" fill="none" stroke="#808080" stroke-width="0.85"/>
<text x="445.95" y="39.5" font-size="7.7" text-anchor="middle" fill="#1e1e1e" textLength="18.7" lengthAdjust="spacingAndGlyphs">0.047</text>
<text x="531" y="9" font-size="12.6" font-weight="bold" fill="#000" stroke="#000" stroke-width="0.45">d</text>
<text x="613.55" y="9.8" font-size="8.6" text-anchor="middle" fill="#1e1e1e" textLength="81.1" lengthAdjust="spacingAndGlyphs">Non-HDL-C (mg dl<tspan font-size="5.85" dy="-4.5">−1</tspan><tspan dy="4.5">)</tspan></text>
<line x1="549.8" y1="47.5" x2="549.8" y2="141.1" stroke="#7a7a7a" stroke-width="0.9"/>
<line x1="546.6" y1="52.4" x2="549.8" y2="52.4" stroke="#7a7a7a" stroke-width="0.8"/>
<text x="543.3" y="55.17" font-size="7.8" text-anchor="end" fill="#1e1e1e" textLength="14.05" lengthAdjust="spacingAndGlyphs">200</text>
<line x1="546.6" y1="83.5" x2="549.8" y2="83.5" stroke="#7a7a7a" stroke-width="0.8"/>
<text x="543.3" y="86.27" font-size="7.8" text-anchor="end" fill="#1e1e1e" textLength="12.91" lengthAdjust="spacingAndGlyphs">150</text>
<line x1="546.6" y1="114.9" x2="549.8" y2="114.9" stroke="#7a7a7a" stroke-width="0.8"/>
<text x="543.3" y="117.67" font-size="7.8" text-anchor="end" fill="#1e1e1e" textLength="12.91" lengthAdjust="spacingAndGlyphs">100</text>
<line x1="549.8" y1="141.1" x2="573.1" y2="141.1" stroke="#7a7a7a" stroke-width="1"/>
<line x1="577.5" y1="141.1" x2="600.8" y2="141.1" stroke="#7a7a7a" stroke-width="1"/>
<line x1="605.2" y1="141.1" x2="628.5" y2="141.1" stroke="#7a7a7a" stroke-width="1"/>
<line x1="632.9" y1="141.1" x2="656.2" y2="141.1" stroke="#7a7a7a" stroke-width="1"/>
<line x1="660.6" y1="141.1" x2="683.9" y2="141.1" stroke="#7a7a7a" stroke-width="1"/>
<circle cx="556.2" cy="68.6" r="2.3" fill="#000000" fill-opacity="0.3"/>
<circle cx="556.2" cy="81.4" r="2.3" fill="#000000" fill-opacity="0.3"/>
<circle cx="556.2" cy="90.4" r="2.3" fill="#000000" fill-opacity="0.3"/>
<circle cx="556.2" cy="105.1" r="2.3" fill="#000000" fill-opacity="0.3"/>
<circle cx="556.2" cy="113.6" r="2.3" fill="#000000" fill-opacity="0.3"/>
<circle cx="556.2" cy="118.2" r="2.3" fill="#000000" fill-opacity="0.3"/>
<circle cx="556.2" cy="125.7" r="2.3" fill="#000000" fill-opacity="0.3"/>
<circle cx="556.2" cy="68.6" r="2.3" fill="#000000" fill-opacity="0.3"/>
<line x1="556.2" y1="68.6" x2="567.1" y2="58.8" stroke="#4a4a4a" stroke-width="0.45"/>
<line x1="556.2" y1="81.4" x2="567.1" y2="96.3" stroke="#4a4a4a" stroke-width="0.45"/>
<line x1="556.2" y1="90.4" x2="567.1" y2="101.5" stroke="#4a4a4a" stroke-width="0.45"/>
<line x1="556.2" y1="105.1" x2="567.1" y2="78.9" stroke="#4a4a4a" stroke-width="0.45"/>
<line x1="556.2" y1="113.6" x2="567.1" y2="120.5" stroke="#4a4a4a" stroke-width="0.45"/>
<line x1="556.2" y1="118.2" x2="567.1" y2="124.6" stroke="#4a4a4a" stroke-width="0.45"/>
<line x1="556.2" y1="125.7" x2="567.1" y2="99.4" stroke="#4a4a4a" stroke-width="0.45"/>
<line x1="556.2" y1="68.6" x2="567.1" y2="75" stroke="#4a4a4a" stroke-width="0.45"/>
<path d="M567.1 56.05L569.85 58.8L567.1 61.55L564.35 58.8Z" fill="#000000" fill-opacity="0.8"/>
<path d="M567.1 93.55L569.85 96.3L567.1 99.05L564.35 96.3Z" fill="#000000" fill-opacity="0.8"/>
<path d="M567.1 98.75L569.85 101.5L567.1 104.25L564.35 101.5Z" fill="#000000" fill-opacity="0.8"/>
<path d="M567.1 76.15L569.85 78.9L567.1 81.65L564.35 78.9Z" fill="#000000" fill-opacity="0.8"/>
<path d="M567.1 117.75L569.85 120.5L567.1 123.25L564.35 120.5Z" fill="#000000" fill-opacity="0.8"/>
<path d="M567.1 121.85L569.85 124.6L567.1 127.35L564.35 124.6Z" fill="#000000" fill-opacity="0.8"/>
<path d="M567.1 96.65L569.85 99.4L567.1 102.15L564.35 99.4Z" fill="#000000" fill-opacity="0.8"/>
<path d="M567.1 72.25L569.85 75L567.1 77.75L564.35 75Z" fill="#000000" fill-opacity="0.8"/>
<circle cx="583.9" cy="54.9" r="2.3" fill="#fed98e" fill-opacity="0.32"/>
<circle cx="583.9" cy="76.8" r="2.3" fill="#fed98e" fill-opacity="0.32"/>
<circle cx="583.9" cy="91.7" r="2.3" fill="#fed98e" fill-opacity="0.32"/>
<circle cx="583.9" cy="103.3" r="2.3" fill="#fed98e" fill-opacity="0.32"/>
<circle cx="583.9" cy="111" r="2.3" fill="#fed98e" fill-opacity="0.32"/>
<circle cx="583.9" cy="127.2" r="2.3" fill="#fed98e" fill-opacity="0.32"/>
<circle cx="583.9" cy="136.7" r="2.3" fill="#fed98e" fill-opacity="0.32"/>
<line x1="583.9" y1="54.9" x2="594.8" y2="72.4" stroke="#4a4a4a" stroke-width="0.45"/>
<line x1="583.9" y1="76.8" x2="594.8" y2="98.1" stroke="#4a4a4a" stroke-width="0.45"/>
<line x1="583.9" y1="91.7" x2="594.8" y2="95.6" stroke="#4a4a4a" stroke-width="0.45"/>
<line x1="583.9" y1="103.3" x2="594.8" y2="88.6" stroke="#4a4a4a" stroke-width="0.45"/>
<line x1="583.9" y1="111" x2="594.8" y2="111" stroke="#4a4a4a" stroke-width="0.45"/>
<line x1="583.9" y1="127.2" x2="594.8" y2="125.7" stroke="#4a4a4a" stroke-width="0.45"/>
<line x1="583.9" y1="136.7" x2="594.8" y2="134.1" stroke="#4a4a4a" stroke-width="0.45"/>
<path d="M594.8 69.65L597.55 72.4L594.8 75.15L592.05 72.4Z" fill="#fed98e" fill-opacity="0.85"/>
<path d="M594.8 95.35L597.55 98.1L594.8 100.85L592.05 98.1Z" fill="#fed98e" fill-opacity="0.85"/>
<path d="M594.8 92.85L597.55 95.6L594.8 98.35L592.05 95.6Z" fill="#fed98e" fill-opacity="0.85"/>
<path d="M594.8 85.85L597.55 88.6L594.8 91.35L592.05 88.6Z" fill="#fed98e" fill-opacity="0.85"/>
<path d="M594.8 108.25L597.55 111L594.8 113.75L592.05 111Z" fill="#fed98e" fill-opacity="0.85"/>
<path d="M594.8 122.95L597.55 125.7L594.8 128.45L592.05 125.7Z" fill="#fed98e" fill-opacity="0.85"/>
<path d="M594.8 131.35L597.55 134.1L594.8 136.85L592.05 134.1Z" fill="#fed98e" fill-opacity="0.85"/>
<circle cx="611.6" cy="71.1" r="2.3" fill="#fe9929" fill-opacity="0.32"/>
<circle cx="611.6" cy="74.2" r="2.3" fill="#fe9929" fill-opacity="0.32"/>
<circle cx="611.6" cy="80.7" r="2.3" fill="#fe9929" fill-opacity="0.32"/>
<circle cx="611.6" cy="91.2" r="2.3" fill="#fe9929" fill-opacity="0.32"/>
<circle cx="611.6" cy="99.9" r="2.3" fill="#fe9929" fill-opacity="0.32"/>
<circle cx="611.6" cy="114.3" r="2.3" fill="#fe9929" fill-opacity="0.32"/>
<line x1="611.6" y1="71.1" x2="622.5" y2="99.4" stroke="#4a4a4a" stroke-width="0.45"/>
<line x1="611.6" y1="74.2" x2="622.5" y2="101.5" stroke="#4a4a4a" stroke-width="0.45"/>
<line x1="611.6" y1="80.7" x2="622.5" y2="83.2" stroke="#4a4a4a" stroke-width="0.45"/>
<line x1="611.6" y1="91.2" x2="622.5" y2="106.6" stroke="#4a4a4a" stroke-width="0.45"/>
<line x1="611.6" y1="99.9" x2="622.5" y2="110.2" stroke="#4a4a4a" stroke-width="0.45"/>
<line x1="611.6" y1="114.3" x2="622.5" y2="117.9" stroke="#4a4a4a" stroke-width="0.45"/>
<path d="M622.5 96.65L625.25 99.4L622.5 102.15L619.75 99.4Z" fill="#fe9929" fill-opacity="0.85"/>
<path d="M622.5 98.75L625.25 101.5L622.5 104.25L619.75 101.5Z" fill="#fe9929" fill-opacity="0.85"/>
<path d="M622.5 80.45L625.25 83.2L622.5 85.95L619.75 83.2Z" fill="#fe9929" fill-opacity="0.85"/>
<path d="M622.5 103.85L625.25 106.6L622.5 109.35L619.75 106.6Z" fill="#fe9929" fill-opacity="0.85"/>
<path d="M622.5 107.45L625.25 110.2L622.5 112.95L619.75 110.2Z" fill="#fe9929" fill-opacity="0.85"/>
<path d="M622.5 115.15L625.25 117.9L622.5 120.65L619.75 117.9Z" fill="#fe9929" fill-opacity="0.85"/>
<circle cx="639.3" cy="57" r="2.3" fill="#d95f0e" fill-opacity="0.32"/>
<circle cx="639.3" cy="62.9" r="2.3" fill="#d95f0e" fill-opacity="0.32"/>
<circle cx="639.3" cy="80.1" r="2.3" fill="#d95f0e" fill-opacity="0.32"/>
<circle cx="639.3" cy="84" r="2.3" fill="#d95f0e" fill-opacity="0.32"/>
<circle cx="639.3" cy="91.7" r="2.3" fill="#d95f0e" fill-opacity="0.32"/>
<circle cx="639.3" cy="95.6" r="2.3" fill="#d95f0e" fill-opacity="0.32"/>
<circle cx="639.3" cy="99.4" r="2.3" fill="#d95f0e" fill-opacity="0.32"/>
<circle cx="639.3" cy="106.4" r="2.3" fill="#d95f0e" fill-opacity="0.32"/>
<circle cx="639.3" cy="111" r="2.3" fill="#d95f0e" fill-opacity="0.32"/>
<circle cx="639.3" cy="116.1" r="2.3" fill="#d95f0e" fill-opacity="0.32"/>
<circle cx="639.3" cy="131.1" r="2.3" fill="#d95f0e" fill-opacity="0.32"/>
<line x1="639.3" y1="57" x2="650.2" y2="88.6" stroke="#4a4a4a" stroke-width="0.45"/>
<line x1="639.3" y1="62.9" x2="650.2" y2="91.7" stroke="#4a4a4a" stroke-width="0.45"/>
<line x1="639.3" y1="80.1" x2="650.2" y2="97.4" stroke="#4a4a4a" stroke-width="0.45"/>
<line x1="639.3" y1="84" x2="650.2" y2="85.3" stroke="#4a4a4a" stroke-width="0.45"/>
<line x1="639.3" y1="91.7" x2="650.2" y2="104.6" stroke="#4a4a4a" stroke-width="0.45"/>
<line x1="639.3" y1="95.6" x2="650.2" y2="88.6" stroke="#4a4a4a" stroke-width="0.45"/>
<line x1="639.3" y1="99.4" x2="650.2" y2="112.8" stroke="#4a4a4a" stroke-width="0.45"/>
<line x1="639.3" y1="106.4" x2="650.2" y2="97.4" stroke="#4a4a4a" stroke-width="0.45"/>
<line x1="639.3" y1="111" x2="650.2" y2="104.6" stroke="#4a4a4a" stroke-width="0.45"/>
<line x1="639.3" y1="116.1" x2="650.2" y2="116.1" stroke="#4a4a4a" stroke-width="0.45"/>
<line x1="639.3" y1="131.1" x2="650.2" y2="126.4" stroke="#4a4a4a" stroke-width="0.45"/>
<path d="M650.2 85.85L652.95 88.6L650.2 91.35L647.45 88.6Z" fill="#d95f0e" fill-opacity="0.85"/>
<path d="M650.2 88.95L652.95 91.7L650.2 94.45L647.45 91.7Z" fill="#d95f0e" fill-opacity="0.85"/>
<path d="M650.2 94.65L652.95 97.4L650.2 100.15L647.45 97.4Z" fill="#d95f0e" fill-opacity="0.85"/>
<path d="M650.2 82.55L652.95 85.3L650.2 88.05L647.45 85.3Z" fill="#d95f0e" fill-opacity="0.85"/>
<path d="M650.2 101.85L652.95 104.6L650.2 107.35L647.45 104.6Z" fill="#d95f0e" fill-opacity="0.85"/>
<path d="M650.2 85.85L652.95 88.6L650.2 91.35L647.45 88.6Z" fill="#d95f0e" fill-opacity="0.85"/>
<path d="M650.2 110.05L652.95 112.8L650.2 115.55L647.45 112.8Z" fill="#d95f0e" fill-opacity="0.85"/>
<path d="M650.2 94.65L652.95 97.4L650.2 100.15L647.45 97.4Z" fill="#d95f0e" fill-opacity="0.85"/>
<path d="M650.2 101.85L652.95 104.6L650.2 107.35L647.45 104.6Z" fill="#d95f0e" fill-opacity="0.85"/>
<path d="M650.2 113.35L652.95 116.1L650.2 118.85L647.45 116.1Z" fill="#d95f0e" fill-opacity="0.85"/>
<path d="M650.2 123.65L652.95 126.4L650.2 129.15L647.45 126.4Z" fill="#d95f0e" fill-opacity="0.85"/>
<circle cx="667" cy="95.6" r="2.3" fill="#993404" fill-opacity="0.32"/>
<circle cx="667" cy="99.4" r="2.3" fill="#993404" fill-opacity="0.32"/>
<circle cx="667" cy="104.6" r="2.3" fill="#993404" fill-opacity="0.32"/>
<circle cx="667" cy="114.3" r="2.3" fill="#993404" fill-opacity="0.32"/>
<line x1="667" y1="95.6" x2="677.9" y2="112.3" stroke="#4a4a4a" stroke-width="0.45"/>
<line x1="667" y1="99.4" x2="677.9" y2="123.9" stroke="#4a4a4a" stroke-width="0.45"/>
<line x1="667" y1="104.6" x2="677.9" y2="115.4" stroke="#4a4a4a" stroke-width="0.45"/>
<line x1="667" y1="114.3" x2="677.9" y2="127.2" stroke="#4a4a4a" stroke-width="0.45"/>
<path d="M677.9 109.55L680.65 112.3L677.9 115.05L675.15 112.3Z" fill="#993404" fill-opacity="0.85"/>
<path d="M677.9 121.15L680.65 123.9L677.9 126.65L675.15 123.9Z" fill="#993404" fill-opacity="0.85"/>
<path d="M677.9 112.65L680.65 115.4L677.9 118.15L675.15 115.4Z" fill="#993404" fill-opacity="0.85"/>
<path d="M677.9 124.45L680.65 127.2L677.9 129.95L675.15 127.2Z" fill="#993404" fill-opacity="0.85"/>
<path d="M560.4 44.3V41.6H672.7V44.3" fill="none" stroke="#808080" stroke-width="0.85"/>
<text x="616.85" y="39.7" font-size="7.7" text-anchor="middle" fill="#1e1e1e" textLength="13.9" lengthAdjust="spacingAndGlyphs">0.07</text>
<path d="M611.2 55.3V52.6H622.3V55.3" fill="none" stroke="#808080" stroke-width="0.85"/>
<text x="617.1" y="50.7" font-size="7.7" text-anchor="middle" fill="#1e1e1e" textLength="16" lengthAdjust="spacingAndGlyphs">0.08</text>
<text x="1.5" y="170" font-size="12.6" font-weight="bold" fill="#000" stroke="#000" stroke-width="0.45">e</text>
<text x="86.5" y="170.5" font-size="8.6" text-anchor="middle" fill="#1e1e1e" textLength="60.2" lengthAdjust="spacingAndGlyphs">LDL-C (mg dl<tspan font-size="5.85" dy="-4.5">−1</tspan><tspan dy="4.5">)</tspan></text>
<line x1="20.8" y1="211.5" x2="20.8" y2="306.1" stroke="#7a7a7a" stroke-width="0.9"/>
<line x1="17.6" y1="237.6" x2="20.8" y2="237.6" stroke="#7a7a7a" stroke-width="0.8"/>
<text x="14.3" y="240.37" font-size="7.8" text-anchor="end" fill="#1e1e1e" textLength="12.91" lengthAdjust="spacingAndGlyphs">150</text>
<line x1="17.6" y1="270.4" x2="20.8" y2="270.4" stroke="#7a7a7a" stroke-width="0.8"/>
<text x="14.3" y="273.17" font-size="7.8" text-anchor="end" fill="#1e1e1e" textLength="12.91" lengthAdjust="spacingAndGlyphs">100</text>
<line x1="17.6" y1="303.1" x2="20.8" y2="303.1" stroke="#7a7a7a" stroke-width="0.8"/>
<text x="14.3" y="305.87" font-size="7.8" text-anchor="end" fill="#1e1e1e" textLength="9.37" lengthAdjust="spacingAndGlyphs">50</text>
<line x1="20.1" y1="306.1" x2="43.7" y2="306.1" stroke="#7a7a7a" stroke-width="1"/>
<line x1="47.85" y1="306.1" x2="71.45" y2="306.1" stroke="#7a7a7a" stroke-width="1"/>
<line x1="75.6" y1="306.1" x2="99.2" y2="306.1" stroke="#7a7a7a" stroke-width="1"/>
<line x1="103.35" y1="306.1" x2="126.95" y2="306.1" stroke="#7a7a7a" stroke-width="1"/>
<line x1="131.1" y1="306.1" x2="154.7" y2="306.1" stroke="#7a7a7a" stroke-width="1"/>
<circle cx="26.8" cy="236.8" r="2.3" fill="#000000" fill-opacity="0.3"/>
<circle cx="26.8" cy="236.8" r="2.3" fill="#000000" fill-opacity="0.3"/>
<circle cx="26.8" cy="247.1" r="2.3" fill="#000000" fill-opacity="0.3"/>
<circle cx="26.8" cy="253.4" r="2.3" fill="#000000" fill-opacity="0.3"/>
<circle cx="26.8" cy="261.4" r="2.3" fill="#000000" fill-opacity="0.3"/>
<circle cx="26.8" cy="269.7" r="2.3" fill="#000000" fill-opacity="0.3"/>
<circle cx="26.8" cy="279" r="2.3" fill="#000000" fill-opacity="0.3"/>
<circle cx="26.8" cy="280.7" r="2.3" fill="#000000" fill-opacity="0.3"/>
<circle cx="26.8" cy="299.1" r="2.3" fill="#000000" fill-opacity="0.3"/>
<line x1="26.8" y1="236.8" x2="38" y2="229.5" stroke="#4a4a4a" stroke-width="0.45"/>
<line x1="26.8" y1="236.8" x2="38" y2="248.1" stroke="#4a4a4a" stroke-width="0.45"/>
<line x1="26.8" y1="247.1" x2="38" y2="262.7" stroke="#4a4a4a" stroke-width="0.45"/>
<line x1="26.8" y1="253.4" x2="38" y2="245.8" stroke="#4a4a4a" stroke-width="0.45"/>
<line x1="26.8" y1="261.4" x2="38" y2="274" stroke="#4a4a4a" stroke-width="0.45"/>
<line x1="26.8" y1="269.7" x2="38" y2="270.9" stroke="#4a4a4a" stroke-width="0.45"/>
<line x1="26.8" y1="279" x2="38" y2="284" stroke="#4a4a4a" stroke-width="0.45"/>
<line x1="26.8" y1="280.7" x2="38" y2="288.5" stroke="#4a4a4a" stroke-width="0.45"/>
<line x1="26.8" y1="299.1" x2="38" y2="270.9" stroke="#4a4a4a" stroke-width="0.45"/>
<path d="M38 226.75L40.75 229.5L38 232.25L35.25 229.5Z" fill="#000000" fill-opacity="0.8"/>
<path d="M38 245.35L40.75 248.1L38 250.85L35.25 248.1Z" fill="#000000" fill-opacity="0.8"/>
<path d="M38 259.95L40.75 262.7L38 265.45L35.25 262.7Z" fill="#000000" fill-opacity="0.8"/>
<path d="M38 243.05L40.75 245.8L38 248.55L35.25 245.8Z" fill="#000000" fill-opacity="0.8"/>
<path d="M38 271.25L40.75 274L38 276.75L35.25 274Z" fill="#000000" fill-opacity="0.8"/>
<path d="M38 268.15L40.75 270.9L38 273.65L35.25 270.9Z" fill="#000000" fill-opacity="0.8"/>
<path d="M38 281.25L40.75 284L38 286.75L35.25 284Z" fill="#000000" fill-opacity="0.8"/>
<path d="M38 285.75L40.75 288.5L38 291.25L35.25 288.5Z" fill="#000000" fill-opacity="0.8"/>
<path d="M38 268.15L40.75 270.9L38 273.65L35.25 270.9Z" fill="#000000" fill-opacity="0.8"/>
<circle cx="54.55" cy="220.3" r="2.3" fill="#fed98e" fill-opacity="0.32"/>
<circle cx="54.55" cy="238.8" r="2.3" fill="#fed98e" fill-opacity="0.32"/>
<circle cx="54.55" cy="259.8" r="2.3" fill="#fed98e" fill-opacity="0.32"/>
<circle cx="54.55" cy="268.1" r="2.3" fill="#fed98e" fill-opacity="0.32"/>
<circle cx="54.55" cy="281.2" r="2.3" fill="#fed98e" fill-opacity="0.32"/>
<circle cx="54.55" cy="290.2" r="2.3" fill="#fed98e" fill-opacity="0.32"/>
<circle cx="54.55" cy="302" r="2.3" fill="#fed98e" fill-opacity="0.32"/>
<line x1="54.55" y1="220.3" x2="65.75" y2="238.4" stroke="#4a4a4a" stroke-width="0.45"/>
<line x1="54.55" y1="238.8" x2="65.75" y2="259.8" stroke="#4a4a4a" stroke-width="0.45"/>
<line x1="54.55" y1="259.8" x2="65.75" y2="259.8" stroke="#4a4a4a" stroke-width="0.45"/>
<line x1="54.55" y1="268.1" x2="65.75" y2="252.3" stroke="#4a4a4a" stroke-width="0.45"/>
<line x1="54.55" y1="281.2" x2="65.75" y2="275.6" stroke="#4a4a4a" stroke-width="0.45"/>
<line x1="54.55" y1="290.2" x2="65.75" y2="288.4" stroke="#4a4a4a" stroke-width="0.45"/>
<line x1="54.55" y1="302" x2="65.75" y2="298.8" stroke="#4a4a4a" stroke-width="0.45"/>
<path d="M65.75 235.65L68.5 238.4L65.75 241.15L63 238.4Z" fill="#fed98e" fill-opacity="0.85"/>
<path d="M65.75 257.05L68.5 259.8L65.75 262.55L63 259.8Z" fill="#fed98e" fill-opacity="0.85"/>
<path d="M65.75 257.05L68.5 259.8L65.75 262.55L63 259.8Z" fill="#fed98e" fill-opacity="0.85"/>
<path d="M65.75 249.55L68.5 252.3L65.75 255.05L63 252.3Z" fill="#fed98e" fill-opacity="0.85"/>
<path d="M65.75 272.85L68.5 275.6L65.75 278.35L63 275.6Z" fill="#fed98e" fill-opacity="0.85"/>
<path d="M65.75 285.65L68.5 288.4L65.75 291.15L63 288.4Z" fill="#fed98e" fill-opacity="0.85"/>
<path d="M65.75 296.05L68.5 298.8L65.75 301.55L63 298.8Z" fill="#fed98e" fill-opacity="0.85"/>
<circle cx="82.3" cy="233.8" r="2.3" fill="#fe9929" fill-opacity="0.32"/>
<circle cx="82.3" cy="246.3" r="2.3" fill="#fe9929" fill-opacity="0.32"/>
<circle cx="82.3" cy="250.1" r="2.3" fill="#fe9929" fill-opacity="0.32"/>
<circle cx="82.3" cy="262.2" r="2.3" fill="#fe9929" fill-opacity="0.32"/>
<circle cx="82.3" cy="263.9" r="2.3" fill="#fe9929" fill-opacity="0.32"/>
<circle cx="82.3" cy="278.2" r="2.3" fill="#fe9929" fill-opacity="0.32"/>
<circle cx="82.3" cy="250.1" r="2.3" fill="#fe9929" fill-opacity="0.32"/>
<line x1="82.3" y1="233.8" x2="93.5" y2="264.7" stroke="#4a4a4a" stroke-width="0.45"/>
<line x1="82.3" y1="246.3" x2="93.5" y2="250.1" stroke="#4a4a4a" stroke-width="0.45"/>
<line x1="82.3" y1="250.1" x2="93.5" y2="251.4" stroke="#4a4a4a" stroke-width="0.45"/>
<line x1="82.3" y1="262.2" x2="93.5" y2="270.9" stroke="#4a4a4a" stroke-width="0.45"/>
<line x1="82.3" y1="263.9" x2="93.5" y2="280.7" stroke="#4a4a4a" stroke-width="0.45"/>
<line x1="82.3" y1="278.2" x2="93.5" y2="280.7" stroke="#4a4a4a" stroke-width="0.45"/>
<line x1="82.3" y1="250.1" x2="93.5" y2="268.9" stroke="#4a4a4a" stroke-width="0.45"/>
<path d="M93.5 261.95L96.25 264.7L93.5 267.45L90.75 264.7Z" fill="#fe9929" fill-opacity="0.85"/>
<path d="M93.5 247.35L96.25 250.1L93.5 252.85L90.75 250.1Z" fill="#fe9929" fill-opacity="0.85"/>
<path d="M93.5 248.65L96.25 251.4L93.5 254.15L90.75 251.4Z" fill="#fe9929" fill-opacity="0.85"/>
<path d="M93.5 268.15L96.25 270.9L93.5 273.65L90.75 270.9Z" fill="#fe9929" fill-opacity="0.85"/>
<path d="M93.5 277.95L96.25 280.7L93.5 283.45L90.75 280.7Z" fill="#fe9929" fill-opacity="0.85"/>
<path d="M93.5 277.95L96.25 280.7L93.5 283.45L90.75 280.7Z" fill="#fe9929" fill-opacity="0.85"/>
<path d="M93.5 266.15L96.25 268.9L93.5 271.65L90.75 268.9Z" fill="#fe9929" fill-opacity="0.85"/>
<circle cx="110.05" cy="222.5" r="2.3" fill="#d95f0e" fill-opacity="0.32"/>
<circle cx="110.05" cy="235.5" r="2.3" fill="#d95f0e" fill-opacity="0.32"/>
<circle cx="110.05" cy="249.6" r="2.3" fill="#d95f0e" fill-opacity="0.32"/>
<circle cx="110.05" cy="252.1" r="2.3" fill="#d95f0e" fill-opacity="0.32"/>
<circle cx="110.05" cy="256.4" r="2.3" fill="#d95f0e" fill-opacity="0.32"/>
<circle cx="110.05" cy="261.4" r="2.3" fill="#d95f0e" fill-opacity="0.32"/>
<circle cx="110.05" cy="265.2" r="2.3" fill="#d95f0e" fill-opacity="0.32"/>
<circle cx="110.05" cy="271.4" r="2.3" fill="#d95f0e" fill-opacity="0.32"/>
<circle cx="110.05" cy="276.5" r="2.3" fill="#d95f0e" fill-opacity="0.32"/>
<circle cx="110.05" cy="282.2" r="2.3" fill="#d95f0e" fill-opacity="0.32"/>
<circle cx="110.05" cy="285.3" r="2.3" fill="#d95f0e" fill-opacity="0.32"/>
<circle cx="110.05" cy="295.3" r="2.3" fill="#d95f0e" fill-opacity="0.32"/>
<line x1="110.05" y1="222.5" x2="121.25" y2="250.1" stroke="#4a4a4a" stroke-width="0.45"/>
<line x1="110.05" y1="235.5" x2="121.25" y2="253.1" stroke="#4a4a4a" stroke-width="0.45"/>
<line x1="110.05" y1="249.6" x2="121.25" y2="248.1" stroke="#4a4a4a" stroke-width="0.45"/>
<line x1="110.05" y1="252.1" x2="121.25" y2="266.4" stroke="#4a4a4a" stroke-width="0.45"/>
<line x1="110.05" y1="256.4" x2="121.25" y2="258.9" stroke="#4a4a4a" stroke-width="0.45"/>
<line x1="110.05" y1="261.4" x2="121.25" y2="256.4" stroke="#4a4a4a" stroke-width="0.45"/>
<line x1="110.05" y1="265.2" x2="121.25" y2="274.7" stroke="#4a4a4a" stroke-width="0.45"/>
<line x1="110.05" y1="271.4" x2="121.25" y2="268.2" stroke="#4a4a4a" stroke-width="0.45"/>
<line x1="110.05" y1="276.5" x2="121.25" y2="280.2" stroke="#4a4a4a" stroke-width="0.45"/>
<line x1="110.05" y1="282.2" x2="121.25" y2="258.9" stroke="#4a4a4a" stroke-width="0.45"/>
<line x1="110.05" y1="285.3" x2="121.25" y2="266.4" stroke="#4a4a4a" stroke-width="0.45"/>
<line x1="110.05" y1="295.3" x2="121.25" y2="289" stroke="#4a4a4a" stroke-width="0.45"/>
<path d="M121.25 247.35L124 250.1L121.25 252.85L118.5 250.1Z" fill="#d95f0e" fill-opacity="0.85"/>
<path d="M121.25 250.35L124 253.1L121.25 255.85L118.5 253.1Z" fill="#d95f0e" fill-opacity="0.85"/>
<path d="M121.25 245.35L124 248.1L121.25 250.85L118.5 248.1Z" fill="#d95f0e" fill-opacity="0.85"/>
<path d="M121.25 263.65L124 266.4L121.25 269.15L118.5 266.4Z" fill="#d95f0e" fill-opacity="0.85"/>
<path d="M121.25 256.15L124 258.9L121.25 261.65L118.5 258.9Z" fill="#d95f0e" fill-opacity="0.85"/>
<path d="M121.25 253.65L124 256.4L121.25 259.15L118.5 256.4Z" fill="#d95f0e" fill-opacity="0.85"/>
<path d="M121.25 271.95L124 274.7L121.25 277.45L118.5 274.7Z" fill="#d95f0e" fill-opacity="0.85"/>
<path d="M121.25 265.45L124 268.2L121.25 270.95L118.5 268.2Z" fill="#d95f0e" fill-opacity="0.85"/>
<path d="M121.25 277.45L124 280.2L121.25 282.95L118.5 280.2Z" fill="#d95f0e" fill-opacity="0.85"/>
<path d="M121.25 256.15L124 258.9L121.25 261.65L118.5 258.9Z" fill="#d95f0e" fill-opacity="0.85"/>
<path d="M121.25 263.65L124 266.4L121.25 269.15L118.5 266.4Z" fill="#d95f0e" fill-opacity="0.85"/>
<path d="M121.25 286.25L124 289L121.25 291.75L118.5 289Z" fill="#d95f0e" fill-opacity="0.85"/>
<circle cx="137.8" cy="260.1" r="2.3" fill="#993404" fill-opacity="0.32"/>
<circle cx="137.8" cy="264.7" r="2.3" fill="#993404" fill-opacity="0.32"/>
<circle cx="137.8" cy="269.7" r="2.3" fill="#993404" fill-opacity="0.32"/>
<circle cx="137.8" cy="272.7" r="2.3" fill="#993404" fill-opacity="0.32"/>
<circle cx="137.8" cy="274" r="2.3" fill="#993404" fill-opacity="0.32"/>
<circle cx="137.8" cy="284.8" r="2.3" fill="#993404" fill-opacity="0.32"/>
<line x1="137.8" y1="260.1" x2="149" y2="279" stroke="#4a4a4a" stroke-width="0.45"/>
<line x1="137.8" y1="264.7" x2="149" y2="287.3" stroke="#4a4a4a" stroke-width="0.45"/>
<line x1="137.8" y1="269.7" x2="149" y2="282.2" stroke="#4a4a4a" stroke-width="0.45"/>
<line x1="137.8" y1="272.7" x2="149" y2="289.8" stroke="#4a4a4a" stroke-width="0.45"/>
<line x1="137.8" y1="274" x2="149" y2="291.5" stroke="#4a4a4a" stroke-width="0.45"/>
<line x1="137.8" y1="284.8" x2="149" y2="277.2" stroke="#4a4a4a" stroke-width="0.45"/>
<path d="M149 276.25L151.75 279L149 281.75L146.25 279Z" fill="#993404" fill-opacity="0.85"/>
<path d="M149 284.55L151.75 287.3L149 290.05L146.25 287.3Z" fill="#993404" fill-opacity="0.85"/>
<path d="M149 279.45L151.75 282.2L149 284.95L146.25 282.2Z" fill="#993404" fill-opacity="0.85"/>
<path d="M149 287.05L151.75 289.8L149 292.55L146.25 289.8Z" fill="#993404" fill-opacity="0.85"/>
<path d="M149 288.75L151.75 291.5L149 294.25L146.25 291.5Z" fill="#993404" fill-opacity="0.85"/>
<path d="M149 274.45L151.75 277.2L149 279.95L146.25 277.2Z" fill="#993404" fill-opacity="0.85"/>
<text x="174" y="170" font-size="12.6" font-weight="bold" fill="#000" stroke="#000" stroke-width="0.45">f</text>
<text x="267.8" y="170.7" font-size="8.6" text-anchor="middle" fill="#1e1e1e" textLength="141.6" lengthAdjust="spacingAndGlyphs">Total LDL particle number (nmol l<tspan font-size="5.85" dy="-4.5">−1</tspan><tspan dy="4.5">)</tspan></text>
<line x1="199.9" y1="211.1" x2="199.9" y2="307" stroke="#7a7a7a" stroke-width="0.9"/>
<line x1="196.7" y1="236.4" x2="199.9" y2="236.4" stroke="#7a7a7a" stroke-width="0.8"/>
<text x="193.4" y="239.17" font-size="7.8" text-anchor="end" fill="#1e1e1e" textLength="19.78" lengthAdjust="spacingAndGlyphs">1,500</text>
<line x1="196.7" y1="264.6" x2="199.9" y2="264.6" stroke="#7a7a7a" stroke-width="0.8"/>
<text x="193.4" y="267.37" font-size="7.8" text-anchor="end" fill="#1e1e1e" textLength="19.78" lengthAdjust="spacingAndGlyphs">1,000</text>
<line x1="196.7" y1="292.6" x2="199.9" y2="292.6" stroke="#7a7a7a" stroke-width="0.8"/>
<text x="193.4" y="295.37" font-size="7.8" text-anchor="end" fill="#1e1e1e" textLength="14.05" lengthAdjust="spacingAndGlyphs">500</text>
<line x1="199.9" y1="307" x2="223.3" y2="307" stroke="#7a7a7a" stroke-width="1"/>
<line x1="226.98" y1="307" x2="250.38" y2="307" stroke="#7a7a7a" stroke-width="1"/>
<line x1="254.06" y1="307" x2="277.46" y2="307" stroke="#7a7a7a" stroke-width="1"/>
<line x1="281.14" y1="307" x2="304.54" y2="307" stroke="#7a7a7a" stroke-width="1"/>
<line x1="308.22" y1="307" x2="331.62" y2="307" stroke="#7a7a7a" stroke-width="1"/>
<circle cx="206.1" cy="243.6" r="2.3" fill="#000000" fill-opacity="0.3"/>
<circle cx="206.1" cy="245.2" r="2.3" fill="#000000" fill-opacity="0.3"/>
<circle cx="206.1" cy="246.6" r="2.3" fill="#000000" fill-opacity="0.3"/>
<circle cx="206.1" cy="254.8" r="2.3" fill="#000000" fill-opacity="0.3"/>
<circle cx="206.1" cy="256.2" r="2.3" fill="#000000" fill-opacity="0.3"/>
<circle cx="206.1" cy="264" r="2.3" fill="#000000" fill-opacity="0.3"/>
<circle cx="206.1" cy="268.5" r="2.3" fill="#000000" fill-opacity="0.3"/>
<circle cx="206.1" cy="282.3" r="2.3" fill="#000000" fill-opacity="0.3"/>
<circle cx="206.1" cy="286.8" r="2.3" fill="#000000" fill-opacity="0.3"/>
<circle cx="206.1" cy="288.9" r="2.3" fill="#000000" fill-opacity="0.3"/>
<line x1="206.1" y1="243.6" x2="216.9" y2="220.1" stroke="#4a4a4a" stroke-width="0.45"/>
<line x1="206.1" y1="245.2" x2="216.9" y2="238.5" stroke="#4a4a4a" stroke-width="0.45"/>
<line x1="206.1" y1="246.6" x2="216.9" y2="249.3" stroke="#4a4a4a" stroke-width="0.45"/>
<line x1="206.1" y1="254.8" x2="216.9" y2="256.8" stroke="#4a4a4a" stroke-width="0.45"/>
<line x1="206.1" y1="256.2" x2="216.9" y2="252.8" stroke="#4a4a4a" stroke-width="0.45"/>
<line x1="206.1" y1="264" x2="216.9" y2="278.3" stroke="#4a4a4a" stroke-width="0.45"/>
<line x1="206.1" y1="268.5" x2="216.9" y2="263" stroke="#4a4a4a" stroke-width="0.45"/>
<line x1="206.1" y1="282.3" x2="216.9" y2="265" stroke="#4a4a4a" stroke-width="0.45"/>
<line x1="206.1" y1="286.8" x2="216.9" y2="290.1" stroke="#4a4a4a" stroke-width="0.45"/>
<line x1="206.1" y1="288.9" x2="216.9" y2="291.5" stroke="#4a4a4a" stroke-width="0.45"/>
<path d="M216.9 217.35L219.65 220.1L216.9 222.85L214.15 220.1Z" fill="#000000" fill-opacity="0.8"/>
<path d="M216.9 235.75L219.65 238.5L216.9 241.25L214.15 238.5Z" fill="#000000" fill-opacity="0.8"/>
<path d="M216.9 246.55L219.65 249.3L216.9 252.05L214.15 249.3Z" fill="#000000" fill-opacity="0.8"/>
<path d="M216.9 254.05L219.65 256.8L216.9 259.55L214.15 256.8Z" fill="#000000" fill-opacity="0.8"/>
<path d="M216.9 250.05L219.65 252.8L216.9 255.55L214.15 252.8Z" fill="#000000" fill-opacity="0.8"/>
<path d="M216.9 275.55L219.65 278.3L216.9 281.05L214.15 278.3Z" fill="#000000" fill-opacity="0.8"/>
<path d="M216.9 260.25L219.65 263L216.9 265.75L214.15 263Z" fill="#000000" fill-opacity="0.8"/>
<path d="M216.9 262.25L219.65 265L216.9 267.75L214.15 265Z" fill="#000000" fill-opacity="0.8"/>
<path d="M216.9 287.35L219.65 290.1L216.9 292.85L214.15 290.1Z" fill="#000000" fill-opacity="0.8"/>
<path d="M216.9 288.75L219.65 291.5L216.9 294.25L214.15 291.5Z" fill="#000000" fill-opacity="0.8"/>
<circle cx="233.18" cy="235.4" r="2.3" fill="#fed98e" fill-opacity="0.32"/>
<circle cx="233.18" cy="255.8" r="2.3" fill="#fed98e" fill-opacity="0.32"/>
<circle cx="233.18" cy="261.9" r="2.3" fill="#fed98e" fill-opacity="0.32"/>
<circle cx="233.18" cy="268.5" r="2.3" fill="#fed98e" fill-opacity="0.32"/>
<circle cx="233.18" cy="287.4" r="2.3" fill="#fed98e" fill-opacity="0.32"/>
<circle cx="233.18" cy="288.5" r="2.3" fill="#fed98e" fill-opacity="0.32"/>
<circle cx="233.18" cy="261.9" r="2.3" fill="#fed98e" fill-opacity="0.32"/>
<line x1="233.18" y1="235.4" x2="243.98" y2="274.2" stroke="#4a4a4a" stroke-width="0.45"/>
<line x1="233.18" y1="255.8" x2="243.98" y2="264" stroke="#4a4a4a" stroke-width="0.45"/>
<line x1="233.18" y1="261.9" x2="243.98" y2="290.1" stroke="#4a4a4a" stroke-width="0.45"/>
<line x1="233.18" y1="268.5" x2="243.98" y2="268.5" stroke="#4a4a4a" stroke-width="0.45"/>
<line x1="233.18" y1="287.4" x2="243.98" y2="292.1" stroke="#4a4a4a" stroke-width="0.45"/>
<line x1="233.18" y1="288.5" x2="243.98" y2="293.6" stroke="#4a4a4a" stroke-width="0.45"/>
<line x1="233.18" y1="261.9" x2="243.98" y2="281.3" stroke="#4a4a4a" stroke-width="0.45"/>
<path d="M243.98 271.45L246.73 274.2L243.98 276.95L241.23 274.2Z" fill="#fed98e" fill-opacity="0.85"/>
<path d="M243.98 261.25L246.73 264L243.98 266.75L241.23 264Z" fill="#fed98e" fill-opacity="0.85"/>
<path d="M243.98 287.35L246.73 290.1L243.98 292.85L241.23 290.1Z" fill="#fed98e" fill-opacity="0.85"/>
<path d="M243.98 265.75L246.73 268.5L243.98 271.25L241.23 268.5Z" fill="#fed98e" fill-opacity="0.85"/>
<path d="M243.98 289.35L246.73 292.1L243.98 294.85L241.23 292.1Z" fill="#fed98e" fill-opacity="0.85"/>
<path d="M243.98 290.85L246.73 293.6L243.98 296.35L241.23 293.6Z" fill="#fed98e" fill-opacity="0.85"/>
<path d="M243.98 278.55L246.73 281.3L243.98 284.05L241.23 281.3Z" fill="#fed98e" fill-opacity="0.85"/>
<circle cx="260.26" cy="251.7" r="2.3" fill="#fe9929" fill-opacity="0.32"/>
<circle cx="260.26" cy="255.8" r="2.3" fill="#fe9929" fill-opacity="0.32"/>
<circle cx="260.26" cy="263" r="2.3" fill="#fe9929" fill-opacity="0.32"/>
<circle cx="260.26" cy="271.7" r="2.3" fill="#fe9929" fill-opacity="0.32"/>
<circle cx="260.26" cy="278.3" r="2.3" fill="#fe9929" fill-opacity="0.32"/>
<circle cx="260.26" cy="280.7" r="2.3" fill="#fe9929" fill-opacity="0.32"/>
<circle cx="260.26" cy="255.8" r="2.3" fill="#fe9929" fill-opacity="0.32"/>
<line x1="260.26" y1="251.7" x2="271.06" y2="262.3" stroke="#4a4a4a" stroke-width="0.45"/>
<line x1="260.26" y1="255.8" x2="271.06" y2="279.9" stroke="#4a4a4a" stroke-width="0.45"/>
<line x1="260.26" y1="263" x2="271.06" y2="282.3" stroke="#4a4a4a" stroke-width="0.45"/>
<line x1="260.26" y1="271.7" x2="271.06" y2="265" stroke="#4a4a4a" stroke-width="0.45"/>
<line x1="260.26" y1="278.3" x2="271.06" y2="279.9" stroke="#4a4a4a" stroke-width="0.45"/>
<line x1="260.26" y1="280.7" x2="271.06" y2="282.3" stroke="#4a4a4a" stroke-width="0.45"/>
<line x1="260.26" y1="255.8" x2="271.06" y2="272.1" stroke="#4a4a4a" stroke-width="0.45"/>
<path d="M271.06 259.55L273.81 262.3L271.06 265.05L268.31 262.3Z" fill="#fe9929" fill-opacity="0.85"/>
<path d="M271.06 277.15L273.81 279.9L271.06 282.65L268.31 279.9Z" fill="#fe9929" fill-opacity="0.85"/>
<path d="M271.06 279.55L273.81 282.3L271.06 285.05L268.31 282.3Z" fill="#fe9929" fill-opacity="0.85"/>
<path d="M271.06 262.25L273.81 265L271.06 267.75L268.31 265Z" fill="#fe9929" fill-opacity="0.85"/>
<path d="M271.06 277.15L273.81 279.9L271.06 282.65L268.31 279.9Z" fill="#fe9929" fill-opacity="0.85"/>
<path d="M271.06 279.55L273.81 282.3L271.06 285.05L268.31 282.3Z" fill="#fe9929" fill-opacity="0.85"/>
<path d="M271.06 269.35L273.81 272.1L271.06 274.85L268.31 272.1Z" fill="#fe9929" fill-opacity="0.85"/>
<circle cx="287.34" cy="233" r="2.3" fill="#d95f0e" fill-opacity="0.32"/>
<circle cx="287.34" cy="239.5" r="2.3" fill="#d95f0e" fill-opacity="0.32"/>
<circle cx="287.34" cy="241.5" r="2.3" fill="#d95f0e" fill-opacity="0.32"/>
<circle cx="287.34" cy="250.7" r="2.3" fill="#d95f0e" fill-opacity="0.32"/>
<circle cx="287.34" cy="256.8" r="2.3" fill="#d95f0e" fill-opacity="0.32"/>
<circle cx="287.34" cy="269.1" r="2.3" fill="#d95f0e" fill-opacity="0.32"/>
<circle cx="287.34" cy="272.6" r="2.3" fill="#d95f0e" fill-opacity="0.32"/>
<circle cx="287.34" cy="276.6" r="2.3" fill="#d95f0e" fill-opacity="0.32"/>
<circle cx="287.34" cy="281.3" r="2.3" fill="#d95f0e" fill-opacity="0.32"/>
<circle cx="287.34" cy="290.5" r="2.3" fill="#d95f0e" fill-opacity="0.32"/>
<line x1="287.34" y1="233" x2="298.14" y2="252.1" stroke="#4a4a4a" stroke-width="0.45"/>
<line x1="287.34" y1="239.5" x2="298.14" y2="261.9" stroke="#4a4a4a" stroke-width="0.45"/>
<line x1="287.34" y1="241.5" x2="298.14" y2="267.7" stroke="#4a4a4a" stroke-width="0.45"/>
<line x1="287.34" y1="250.7" x2="298.14" y2="270.1" stroke="#4a4a4a" stroke-width="0.45"/>
<line x1="287.34" y1="256.8" x2="298.14" y2="257.9" stroke="#4a4a4a" stroke-width="0.45"/>
<line x1="287.34" y1="269.1" x2="298.14" y2="276.2" stroke="#4a4a4a" stroke-width="0.45"/>
<line x1="287.34" y1="272.6" x2="298.14" y2="252.1" stroke="#4a4a4a" stroke-width="0.45"/>
<line x1="287.34" y1="276.6" x2="298.14" y2="282.3" stroke="#4a4a4a" stroke-width="0.45"/>
<line x1="287.34" y1="281.3" x2="298.14" y2="286.4" stroke="#4a4a4a" stroke-width="0.45"/>
<line x1="287.34" y1="290.5" x2="298.14" y2="292.6" stroke="#4a4a4a" stroke-width="0.45"/>
<path d="M298.14 249.35L300.89 252.1L298.14 254.85L295.39 252.1Z" fill="#d95f0e" fill-opacity="0.85"/>
<path d="M298.14 259.15L300.89 261.9L298.14 264.65L295.39 261.9Z" fill="#d95f0e" fill-opacity="0.85"/>
<path d="M298.14 264.95L300.89 267.7L298.14 270.45L295.39 267.7Z" fill="#d95f0e" fill-opacity="0.85"/>
<path d="M298.14 267.35L300.89 270.1L298.14 272.85L295.39 270.1Z" fill="#d95f0e" fill-opacity="0.85"/>
<path d="M298.14 255.15L300.89 257.9L298.14 260.65L295.39 257.9Z" fill="#d95f0e" fill-opacity="0.85"/>
<path d="M298.14 273.45L300.89 276.2L298.14 278.95L295.39 276.2Z" fill="#d95f0e" fill-opacity="0.85"/>
<path d="M298.14 249.35L300.89 252.1L298.14 254.85L295.39 252.1Z" fill="#d95f0e" fill-opacity="0.85"/>
<path d="M298.14 279.55L300.89 282.3L298.14 285.05L295.39 282.3Z" fill="#d95f0e" fill-opacity="0.85"/>
<path d="M298.14 283.65L300.89 286.4L298.14 289.15L295.39 286.4Z" fill="#d95f0e" fill-opacity="0.85"/>
<path d="M298.14 289.85L300.89 292.6L298.14 295.35L295.39 292.6Z" fill="#d95f0e" fill-opacity="0.85"/>
<circle cx="314.42" cy="259.5" r="2.3" fill="#993404" fill-opacity="0.32"/>
<circle cx="314.42" cy="263" r="2.3" fill="#993404" fill-opacity="0.32"/>
<circle cx="314.42" cy="271.7" r="2.3" fill="#993404" fill-opacity="0.32"/>
<circle cx="314.42" cy="274.2" r="2.3" fill="#993404" fill-opacity="0.32"/>
<circle cx="314.42" cy="286" r="2.3" fill="#993404" fill-opacity="0.32"/>
<line x1="314.42" y1="259.5" x2="325.22" y2="279.9" stroke="#4a4a4a" stroke-width="0.45"/>
<line x1="314.42" y1="263" x2="325.22" y2="286.8" stroke="#4a4a4a" stroke-width="0.45"/>
<line x1="314.42" y1="271.7" x2="325.22" y2="297.7" stroke="#4a4a4a" stroke-width="0.45"/>
<line x1="314.42" y1="274.2" x2="325.22" y2="302.8" stroke="#4a4a4a" stroke-width="0.45"/>
<line x1="314.42" y1="286" x2="325.22" y2="288.9" stroke="#4a4a4a" stroke-width="0.45"/>
<path d="M325.22 277.15L327.97 279.9L325.22 282.65L322.47 279.9Z" fill="#993404" fill-opacity="0.85"/>
<path d="M325.22 284.05L327.97 286.8L325.22 289.55L322.47 286.8Z" fill="#993404" fill-opacity="0.85"/>
<path d="M325.22 294.95L327.97 297.7L325.22 300.45L322.47 297.7Z" fill="#993404" fill-opacity="0.85"/>
<path d="M325.22 300.05L327.97 302.8L325.22 305.55L322.47 302.8Z" fill="#993404" fill-opacity="0.85"/>
<path d="M325.22 286.15L327.97 288.9L325.22 291.65L322.47 288.9Z" fill="#993404" fill-opacity="0.85"/>
<path d="M208.3 186.7V184H321V186.7" fill="none" stroke="#808080" stroke-width="0.85"/>
<text x="273" y="182.1" font-size="7.7" text-anchor="middle" fill="#1e1e1e" textLength="19.6" lengthAdjust="spacingAndGlyphs">0.008</text>
<path d="M208.3 198V195.3H292.8V198" fill="none" stroke="#808080" stroke-width="0.85"/>
<text x="257.45" y="193.4" font-size="7.7" text-anchor="middle" fill="#1e1e1e" textLength="19.1" lengthAdjust="spacingAndGlyphs">0.023</text>
<path d="M208.3 209.1V206.4H238.8V209.1" fill="none" stroke="#808080" stroke-width="0.85"/>
<text x="227.8" y="204.5" font-size="7.7" text-anchor="middle" fill="#1e1e1e" textLength="15.6" lengthAdjust="spacingAndGlyphs">0.06</text>
<path d="M233.2 222.5V219.8H244.2V222.5" fill="none" stroke="#808080" stroke-width="0.85"/>
<text x="238.55" y="217.9" font-size="7.7" text-anchor="middle" fill="#1e1e1e" textLength="15.5" lengthAdjust="spacingAndGlyphs">0.02</text>
<path d="M260.4 222.5V219.8H271.2V222.5" fill="none" stroke="#808080" stroke-width="0.85"/>
<text x="265.8" y="217.9" font-size="7.7" text-anchor="middle" fill="#1e1e1e" textLength="15.8" lengthAdjust="spacingAndGlyphs">0.03</text>
<path d="M287.5 222.5V219.8H298.3V222.5" fill="none" stroke="#808080" stroke-width="0.85"/>
<text x="292.6" y="217.9" font-size="7.7" text-anchor="middle" fill="#1e1e1e" textLength="15.2" lengthAdjust="spacingAndGlyphs">0.02</text>
<path d="M314.6 222.5V219.8H325.4V222.5" fill="none" stroke="#808080" stroke-width="0.85"/>
<text x="320" y="217.9" font-size="7.7" text-anchor="middle" fill="#1e1e1e" textLength="15.8" lengthAdjust="spacingAndGlyphs">0.03</text>
<text x="352.5" y="170" font-size="12.6" font-weight="bold" fill="#000" stroke="#000" stroke-width="0.45">g</text>
<text x="440.7" y="171" font-size="8.6" text-anchor="middle" fill="#1e1e1e" textLength="145.2" lengthAdjust="spacingAndGlyphs">Small LDL particle number (nmol l<tspan font-size="5.85" dy="-4.5">−1</tspan><tspan dy="4.5">)</tspan></text>
<line x1="377.6" y1="210.6" x2="377.6" y2="306.8" stroke="#7a7a7a" stroke-width="0.9"/>
<line x1="374.4" y1="211.1" x2="377.6" y2="211.1" stroke="#7a7a7a" stroke-width="0.8"/>
<text x="371.1" y="213.87" font-size="7.8" text-anchor="end" fill="#1e1e1e" textLength="19.78" lengthAdjust="spacingAndGlyphs">1,200</text>
<line x1="374.4" y1="234.3" x2="377.6" y2="234.3" stroke="#7a7a7a" stroke-width="0.8"/>
<text x="371.1" y="237.07" font-size="7.8" text-anchor="end" fill="#1e1e1e" textLength="14.05" lengthAdjust="spacingAndGlyphs">900</text>
<line x1="374.4" y1="257.2" x2="377.6" y2="257.2" stroke="#7a7a7a" stroke-width="0.8"/>
<text x="371.1" y="259.97" font-size="7.8" text-anchor="end" fill="#1e1e1e" textLength="14.05" lengthAdjust="spacingAndGlyphs">600</text>
<line x1="374.4" y1="280.3" x2="377.6" y2="280.3" stroke="#7a7a7a" stroke-width="0.8"/>
<text x="371.1" y="283.07" font-size="7.8" text-anchor="end" fill="#1e1e1e" textLength="14.05" lengthAdjust="spacingAndGlyphs">300</text>
<line x1="374.4" y1="303.2" x2="377.6" y2="303.2" stroke="#7a7a7a" stroke-width="0.8"/>
<text x="371.1" y="305.97" font-size="7.8" text-anchor="end" fill="#1e1e1e" textLength="4.68" lengthAdjust="spacingAndGlyphs">0</text>
<line x1="377.6" y1="306.8" x2="401.6" y2="306.8" stroke="#7a7a7a" stroke-width="1"/>
<line x1="404.7" y1="306.8" x2="428.7" y2="306.8" stroke="#7a7a7a" stroke-width="1"/>
<line x1="431.8" y1="306.8" x2="455.8" y2="306.8" stroke="#7a7a7a" stroke-width="1"/>
<line x1="458.9" y1="306.8" x2="482.9" y2="306.8" stroke="#7a7a7a" stroke-width="1"/>
<line x1="486" y1="306.8" x2="510" y2="306.8" stroke="#7a7a7a" stroke-width="1"/>
<circle cx="384.1" cy="244.9" r="2.3" fill="#000000" fill-opacity="0.3"/>
<circle cx="384.1" cy="254.3" r="2.3" fill="#000000" fill-opacity="0.3"/>
<circle cx="384.1" cy="258.6" r="2.3" fill="#000000" fill-opacity="0.3"/>
<circle cx="384.1" cy="269" r="2.3" fill="#000000" fill-opacity="0.3"/>
<circle cx="384.1" cy="276.1" r="2.3" fill="#000000" fill-opacity="0.3"/>
<circle cx="384.1" cy="302.1" r="2.3" fill="#000000" fill-opacity="0.3"/>
<circle cx="384.1" cy="244.9" r="2.3" fill="#000000" fill-opacity="0.3"/>
<line x1="384.1" y1="244.9" x2="394.7" y2="244.9" stroke="#4a4a4a" stroke-width="0.45"/>
<line x1="384.1" y1="254.3" x2="394.7" y2="220.1" stroke="#4a4a4a" stroke-width="0.45"/>
<line x1="384.1" y1="258.6" x2="394.7" y2="261" stroke="#4a4a4a" stroke-width="0.45"/>
<line x1="384.1" y1="269" x2="394.7" y2="299.7" stroke="#4a4a4a" stroke-width="0.45"/>
<line x1="384.1" y1="276.1" x2="394.7" y2="287.4" stroke="#4a4a4a" stroke-width="0.45"/>
<line x1="384.1" y1="302.1" x2="394.7" y2="242.5" stroke="#4a4a4a" stroke-width="0.45"/>
<line x1="384.1" y1="244.9" x2="394.7" y2="257.2" stroke="#4a4a4a" stroke-width="0.45"/>
<path d="M394.7 217.35L397.45 220.1L394.7 222.85L391.95 220.1Z" fill="#000000" fill-opacity="0.8"/>
<path d="M394.7 239.75L397.45 242.5L394.7 245.25L391.95 242.5Z" fill="#000000" fill-opacity="0.8"/>
<path d="M394.7 242.15L397.45 244.9L394.7 247.65L391.95 244.9Z" fill="#000000" fill-opacity="0.8"/>
<path d="M394.7 254.45L397.45 257.2L394.7 259.95L391.95 257.2Z" fill="#000000" fill-opacity="0.8"/>
<path d="M394.7 255.85L397.45 258.6L394.7 261.35L391.95 258.6Z" fill="#000000" fill-opacity="0.8"/>
<path d="M394.7 258.25L397.45 261L394.7 263.75L391.95 261Z" fill="#000000" fill-opacity="0.8"/>
<path d="M394.7 266.45L397.45 269.2L394.7 271.95L391.95 269.2Z" fill="#000000" fill-opacity="0.8"/>
<path d="M394.7 284.65L397.45 287.4L394.7 290.15L391.95 287.4Z" fill="#000000" fill-opacity="0.8"/>
<path d="M394.7 296.95L397.45 299.7L394.7 302.45L391.95 299.7Z" fill="#000000" fill-opacity="0.8"/>
<circle cx="411.2" cy="256" r="2.3" fill="#fed98e" fill-opacity="0.32"/>
<circle cx="411.2" cy="265.7" r="2.3" fill="#fed98e" fill-opacity="0.32"/>
<circle cx="411.2" cy="268.5" r="2.3" fill="#fed98e" fill-opacity="0.32"/>
<circle cx="411.2" cy="275.6" r="2.3" fill="#fed98e" fill-opacity="0.32"/>
<circle cx="411.2" cy="279.1" r="2.3" fill="#fed98e" fill-opacity="0.32"/>
<circle cx="411.2" cy="282.2" r="2.3" fill="#fed98e" fill-opacity="0.32"/>
<circle cx="411.2" cy="299.7" r="2.3" fill="#fed98e" fill-opacity="0.32"/>
<circle cx="411.2" cy="279.1" r="2.3" fill="#fed98e" fill-opacity="0.32"/>
<line x1="411.2" y1="256" x2="421.8" y2="262.6" stroke="#4a4a4a" stroke-width="0.45"/>
<line x1="411.2" y1="265.7" x2="421.8" y2="279.1" stroke="#4a4a4a" stroke-width="0.45"/>
<line x1="411.2" y1="268.5" x2="421.8" y2="270.9" stroke="#4a4a4a" stroke-width="0.45"/>
<line x1="411.2" y1="275.6" x2="421.8" y2="283.2" stroke="#4a4a4a" stroke-width="0.45"/>
<line x1="411.2" y1="279.1" x2="421.8" y2="298.7" stroke="#4a4a4a" stroke-width="0.45"/>
<line x1="411.2" y1="282.2" x2="421.8" y2="286.2" stroke="#4a4a4a" stroke-width="0.45"/>
<line x1="411.2" y1="299.7" x2="421.8" y2="298.7" stroke="#4a4a4a" stroke-width="0.45"/>
<line x1="411.2" y1="279.1" x2="421.8" y2="273.2" stroke="#4a4a4a" stroke-width="0.45"/>
<path d="M421.8 259.85L424.55 262.6L421.8 265.35L419.05 262.6Z" fill="#fed98e" fill-opacity="0.85"/>
<path d="M421.8 276.35L424.55 279.1L421.8 281.85L419.05 279.1Z" fill="#fed98e" fill-opacity="0.85"/>
<path d="M421.8 268.15L424.55 270.9L421.8 273.65L419.05 270.9Z" fill="#fed98e" fill-opacity="0.85"/>
<path d="M421.8 280.45L424.55 283.2L421.8 285.95L419.05 283.2Z" fill="#fed98e" fill-opacity="0.85"/>
<path d="M421.8 295.95L424.55 298.7L421.8 301.45L419.05 298.7Z" fill="#fed98e" fill-opacity="0.85"/>
<path d="M421.8 283.45L424.55 286.2L421.8 288.95L419.05 286.2Z" fill="#fed98e" fill-opacity="0.85"/>
<path d="M421.8 295.95L424.55 298.7L421.8 301.45L419.05 298.7Z" fill="#fed98e" fill-opacity="0.85"/>
<path d="M421.8 270.45L424.55 273.2L421.8 275.95L419.05 273.2Z" fill="#fed98e" fill-opacity="0.85"/>
<circle cx="438.3" cy="231.4" r="2.3" fill="#fe9929" fill-opacity="0.32"/>
<circle cx="438.3" cy="253.2" r="2.3" fill="#fe9929" fill-opacity="0.32"/>
<circle cx="438.3" cy="260.2" r="2.3" fill="#fe9929" fill-opacity="0.32"/>
<circle cx="438.3" cy="268.5" r="2.3" fill="#fe9929" fill-opacity="0.32"/>
<circle cx="438.3" cy="268.5" r="2.3" fill="#fe9929" fill-opacity="0.32"/>
<circle cx="438.3" cy="280.3" r="2.3" fill="#fe9929" fill-opacity="0.32"/>
<line x1="438.3" y1="231.4" x2="448.9" y2="286.9" stroke="#4a4a4a" stroke-width="0.45"/>
<line x1="438.3" y1="253.2" x2="448.9" y2="262.6" stroke="#4a4a4a" stroke-width="0.45"/>
<line x1="438.3" y1="260.2" x2="448.9" y2="270.9" stroke="#4a4a4a" stroke-width="0.45"/>
<line x1="438.3" y1="268.5" x2="448.9" y2="258.6" stroke="#4a4a4a" stroke-width="0.45"/>
<line x1="438.3" y1="268.5" x2="448.9" y2="278" stroke="#4a4a4a" stroke-width="0.45"/>
<line x1="438.3" y1="280.3" x2="448.9" y2="268.5" stroke="#4a4a4a" stroke-width="0.45"/>
<path d="M448.9 284.15L451.65 286.9L448.9 289.65L446.15 286.9Z" fill="#fe9929" fill-opacity="0.85"/>
<path d="M448.9 259.85L451.65 262.6L448.9 265.35L446.15 262.6Z" fill="#fe9929" fill-opacity="0.85"/>
<path d="M448.9 268.15L451.65 270.9L448.9 273.65L446.15 270.9Z" fill="#fe9929" fill-opacity="0.85"/>
<path d="M448.9 255.85L451.65 258.6L448.9 261.35L446.15 258.6Z" fill="#fe9929" fill-opacity="0.85"/>
<path d="M448.9 275.25L451.65 278L448.9 280.75L446.15 278Z" fill="#fe9929" fill-opacity="0.85"/>
<path d="M448.9 265.75L451.65 268.5L448.9 271.25L446.15 268.5Z" fill="#fe9929" fill-opacity="0.85"/>
<circle cx="465.4" cy="226.5" r="2.3" fill="#d95f0e" fill-opacity="0.32"/>
<circle cx="465.4" cy="234.3" r="2.3" fill="#d95f0e" fill-opacity="0.32"/>
<circle cx="465.4" cy="249.6" r="2.3" fill="#d95f0e" fill-opacity="0.32"/>
<circle cx="465.4" cy="253.2" r="2.3" fill="#d95f0e" fill-opacity="0.32"/>
<circle cx="465.4" cy="266.1" r="2.3" fill="#d95f0e" fill-opacity="0.32"/>
<circle cx="465.4" cy="269" r="2.3" fill="#d95f0e" fill-opacity="0.32"/>
<circle cx="465.4" cy="278" r="2.3" fill="#d95f0e" fill-opacity="0.32"/>
<circle cx="465.4" cy="299.2" r="2.3" fill="#d95f0e" fill-opacity="0.32"/>
<circle cx="465.4" cy="269" r="2.3" fill="#d95f0e" fill-opacity="0.32"/>
<line x1="465.4" y1="226.5" x2="476" y2="266.1" stroke="#4a4a4a" stroke-width="0.45"/>
<line x1="465.4" y1="234.3" x2="476" y2="249.6" stroke="#4a4a4a" stroke-width="0.45"/>
<line x1="465.4" y1="249.6" x2="476" y2="242" stroke="#4a4a4a" stroke-width="0.45"/>
<line x1="465.4" y1="253.2" x2="476" y2="276.1" stroke="#4a4a4a" stroke-width="0.45"/>
<line x1="465.4" y1="266.1" x2="476" y2="298.7" stroke="#4a4a4a" stroke-width="0.45"/>
<line x1="465.4" y1="269" x2="476" y2="269.7" stroke="#4a4a4a" stroke-width="0.45"/>
<line x1="465.4" y1="278" x2="476" y2="273.2" stroke="#4a4a4a" stroke-width="0.45"/>
<line x1="465.4" y1="299.2" x2="476" y2="298.7" stroke="#4a4a4a" stroke-width="0.45"/>
<line x1="465.4" y1="269" x2="476" y2="282.2" stroke="#4a4a4a" stroke-width="0.45"/>
<path d="M476 263.35L478.75 266.1L476 268.85L473.25 266.1Z" fill="#d95f0e" fill-opacity="0.85"/>
<path d="M476 246.85L478.75 249.6L476 252.35L473.25 249.6Z" fill="#d95f0e" fill-opacity="0.85"/>
<path d="M476 239.25L478.75 242L476 244.75L473.25 242Z" fill="#d95f0e" fill-opacity="0.85"/>
<path d="M476 273.35L478.75 276.1L476 278.85L473.25 276.1Z" fill="#d95f0e" fill-opacity="0.85"/>
<path d="M476 295.95L478.75 298.7L476 301.45L473.25 298.7Z" fill="#d95f0e" fill-opacity="0.85"/>
<path d="M476 266.95L478.75 269.7L476 272.45L473.25 269.7Z" fill="#d95f0e" fill-opacity="0.85"/>
<path d="M476 270.45L478.75 273.2L476 275.95L473.25 273.2Z" fill="#d95f0e" fill-opacity="0.85"/>
<path d="M476 295.95L478.75 298.7L476 301.45L473.25 298.7Z" fill="#d95f0e" fill-opacity="0.85"/>
<path d="M476 279.45L478.75 282.2L476 284.95L473.25 282.2Z" fill="#d95f0e" fill-opacity="0.85"/>
<circle cx="492.5" cy="241.3" r="2.3" fill="#993404" fill-opacity="0.32"/>
<circle cx="492.5" cy="261" r="2.3" fill="#993404" fill-opacity="0.32"/>
<circle cx="492.5" cy="269" r="2.3" fill="#993404" fill-opacity="0.32"/>
<circle cx="492.5" cy="276.1" r="2.3" fill="#993404" fill-opacity="0.32"/>
<circle cx="492.5" cy="298.7" r="2.3" fill="#993404" fill-opacity="0.32"/>
<line x1="492.5" y1="241.3" x2="503.1" y2="269.7" stroke="#4a4a4a" stroke-width="0.45"/>
<line x1="492.5" y1="261" x2="503.1" y2="265" stroke="#4a4a4a" stroke-width="0.45"/>
<line x1="492.5" y1="269" x2="503.1" y2="276.8" stroke="#4a4a4a" stroke-width="0.45"/>
<line x1="492.5" y1="276.1" x2="503.1" y2="299.2" stroke="#4a4a4a" stroke-width="0.45"/>
<line x1="492.5" y1="298.7" x2="503.1" y2="280.3" stroke="#4a4a4a" stroke-width="0.45"/>
<path d="M503.1 262.25L505.85 265L503.1 267.75L500.35 265Z" fill="#993404" fill-opacity="0.85"/>
<path d="M503.1 266.95L505.85 269.7L503.1 272.45L500.35 269.7Z" fill="#993404" fill-opacity="0.85"/>
<path d="M503.1 274.05L505.85 276.8L503.1 279.55L500.35 276.8Z" fill="#993404" fill-opacity="0.85"/>
<path d="M503.1 277.55L505.85 280.3L503.1 283.05L500.35 280.3Z" fill="#993404" fill-opacity="0.85"/>
<path d="M503.1 294.75L505.85 297.5L503.1 300.25L500.35 297.5Z" fill="#993404" fill-opacity="0.85"/>
<path d="M503.1 297.05L505.85 299.8L503.1 302.55L500.35 299.8Z" fill="#993404" fill-opacity="0.85"/>
<path d="M411.1 218.8V216.1H421.8V218.8" fill="none" stroke="#808080" stroke-width="0.85"/>
<text x="417.05" y="214.2" font-size="7.7" text-anchor="middle" fill="#1e1e1e" textLength="15.5" lengthAdjust="spacingAndGlyphs">0.06</text>
<path d="M465.6 218.8V216.1H476.3V218.8" fill="none" stroke="#808080" stroke-width="0.85"/>
<text x="470.5" y="214.2" font-size="7.7" text-anchor="middle" fill="#1e1e1e" textLength="15.4" lengthAdjust="spacingAndGlyphs">0.06</text>
<text x="531.7" y="169.8" font-size="12.6" font-weight="bold" fill="#000" stroke="#000" stroke-width="0.45">h</text>
<text x="613.7" y="170.6" font-size="8.6" text-anchor="middle" fill="#1e1e1e" textLength="58" lengthAdjust="spacingAndGlyphs">ApoB (mg dl<tspan font-size="5.85" dy="-4.5">−1</tspan><tspan dy="4.5">)</tspan></text>
<line x1="549.5" y1="211.3" x2="549.5" y2="306.3" stroke="#7a7a7a" stroke-width="0.9"/>
<line x1="546.3" y1="230.2" x2="549.5" y2="230.2" stroke="#7a7a7a" stroke-width="0.8"/>
<text x="543" y="232.97" font-size="7.8" text-anchor="end" fill="#1e1e1e" textLength="12.91" lengthAdjust="spacingAndGlyphs">120</text>
<line x1="546.3" y1="252" x2="549.5" y2="252" stroke="#7a7a7a" stroke-width="0.8"/>
<text x="543" y="254.77" font-size="7.8" text-anchor="end" fill="#1e1e1e" textLength="12.91" lengthAdjust="spacingAndGlyphs">100</text>
<line x1="546.3" y1="273.9" x2="549.5" y2="273.9" stroke="#7a7a7a" stroke-width="0.8"/>
<text x="543" y="276.67" font-size="7.8" text-anchor="end" fill="#1e1e1e" textLength="9.37" lengthAdjust="spacingAndGlyphs">80</text>
<line x1="546.3" y1="295.7" x2="549.5" y2="295.7" stroke="#7a7a7a" stroke-width="0.8"/>
<text x="543" y="298.47" font-size="7.8" text-anchor="end" fill="#1e1e1e" textLength="9.37" lengthAdjust="spacingAndGlyphs">60</text>
<line x1="549.5" y1="306.3" x2="573.7" y2="306.3" stroke="#7a7a7a" stroke-width="1"/>
<line x1="577.3" y1="306.3" x2="601.5" y2="306.3" stroke="#7a7a7a" stroke-width="1"/>
<line x1="605.1" y1="306.3" x2="629.3" y2="306.3" stroke="#7a7a7a" stroke-width="1"/>
<line x1="632.9" y1="306.3" x2="657.1" y2="306.3" stroke="#7a7a7a" stroke-width="1"/>
<line x1="660.7" y1="306.3" x2="684.9" y2="306.3" stroke="#7a7a7a" stroke-width="1"/>
<circle cx="555.9" cy="238.3" r="2.3" fill="#000000" fill-opacity="0.3"/>
<circle cx="555.9" cy="238.3" r="2.3" fill="#000000" fill-opacity="0.3"/>
<circle cx="555.9" cy="232.6" r="2.3" fill="#000000" fill-opacity="0.3"/>
<circle cx="555.9" cy="244.4" r="2.3" fill="#000000" fill-opacity="0.3"/>
<circle cx="555.9" cy="253.2" r="2.3" fill="#000000" fill-opacity="0.3"/>
<circle cx="555.9" cy="263.8" r="2.3" fill="#000000" fill-opacity="0.3"/>
<circle cx="555.9" cy="278.4" r="2.3" fill="#000000" fill-opacity="0.3"/>
<circle cx="555.9" cy="280" r="2.3" fill="#000000" fill-opacity="0.3"/>
<circle cx="555.9" cy="291" r="2.3" fill="#000000" fill-opacity="0.3"/>
<line x1="555.9" y1="238.3" x2="567.1" y2="222.9" stroke="#4a4a4a" stroke-width="0.45"/>
<line x1="555.9" y1="238.3" x2="567.1" y2="241.3" stroke="#4a4a4a" stroke-width="0.45"/>
<line x1="555.9" y1="232.6" x2="567.1" y2="257.9" stroke="#4a4a4a" stroke-width="0.45"/>
<line x1="555.9" y1="244.4" x2="567.1" y2="246.5" stroke="#4a4a4a" stroke-width="0.45"/>
<line x1="555.9" y1="253.2" x2="567.1" y2="265.7" stroke="#4a4a4a" stroke-width="0.45"/>
<line x1="555.9" y1="263.8" x2="567.1" y2="271.3" stroke="#4a4a4a" stroke-width="0.45"/>
<line x1="555.9" y1="278.4" x2="567.1" y2="286.9" stroke="#4a4a4a" stroke-width="0.45"/>
<line x1="555.9" y1="280" x2="567.1" y2="283.9" stroke="#4a4a4a" stroke-width="0.45"/>
<line x1="555.9" y1="291" x2="567.1" y2="263.8" stroke="#4a4a4a" stroke-width="0.45"/>
<path d="M567.1 220.15L569.85 222.9L567.1 225.65L564.35 222.9Z" fill="#000000" fill-opacity="0.8"/>
<path d="M567.1 238.55L569.85 241.3L567.1 244.05L564.35 241.3Z" fill="#000000" fill-opacity="0.8"/>
<path d="M567.1 255.15L569.85 257.9L567.1 260.65L564.35 257.9Z" fill="#000000" fill-opacity="0.8"/>
<path d="M567.1 243.75L569.85 246.5L567.1 249.25L564.35 246.5Z" fill="#000000" fill-opacity="0.8"/>
<path d="M567.1 262.95L569.85 265.7L567.1 268.45L564.35 265.7Z" fill="#000000" fill-opacity="0.8"/>
<path d="M567.1 268.55L569.85 271.3L567.1 274.05L564.35 271.3Z" fill="#000000" fill-opacity="0.8"/>
<path d="M567.1 284.15L569.85 286.9L567.1 289.65L564.35 286.9Z" fill="#000000" fill-opacity="0.8"/>
<path d="M567.1 281.15L569.85 283.9L567.1 286.65L564.35 283.9Z" fill="#000000" fill-opacity="0.8"/>
<path d="M567.1 261.05L569.85 263.8L567.1 266.55L564.35 263.8Z" fill="#000000" fill-opacity="0.8"/>
<circle cx="583.7" cy="222.9" r="2.3" fill="#fed98e" fill-opacity="0.32"/>
<circle cx="583.7" cy="235.9" r="2.3" fill="#fed98e" fill-opacity="0.32"/>
<circle cx="583.7" cy="255.5" r="2.3" fill="#fed98e" fill-opacity="0.32"/>
<circle cx="583.7" cy="264.3" r="2.3" fill="#fed98e" fill-opacity="0.32"/>
<circle cx="583.7" cy="270.2" r="2.3" fill="#fed98e" fill-opacity="0.32"/>
<circle cx="583.7" cy="295.7" r="2.3" fill="#fed98e" fill-opacity="0.32"/>
<circle cx="583.7" cy="302.1" r="2.3" fill="#fed98e" fill-opacity="0.32"/>
<line x1="583.7" y1="222.9" x2="594.9" y2="261" stroke="#4a4a4a" stroke-width="0.45"/>
<line x1="583.7" y1="235.9" x2="594.9" y2="267.3" stroke="#4a4a4a" stroke-width="0.45"/>
<line x1="583.7" y1="255.5" x2="594.9" y2="271.3" stroke="#4a4a4a" stroke-width="0.45"/>
<line x1="583.7" y1="264.3" x2="594.9" y2="247.2" stroke="#4a4a4a" stroke-width="0.45"/>
<line x1="583.7" y1="270.2" x2="594.9" y2="245.4" stroke="#4a4a4a" stroke-width="0.45"/>
<line x1="583.7" y1="295.7" x2="594.9" y2="281.5" stroke="#4a4a4a" stroke-width="0.45"/>
<line x1="583.7" y1="302.1" x2="594.9" y2="298.7" stroke="#4a4a4a" stroke-width="0.45"/>
<path d="M594.9 258.25L597.65 261L594.9 263.75L592.15 261Z" fill="#fed98e" fill-opacity="0.85"/>
<path d="M594.9 264.55L597.65 267.3L594.9 270.05L592.15 267.3Z" fill="#fed98e" fill-opacity="0.85"/>
<path d="M594.9 268.55L597.65 271.3L594.9 274.05L592.15 271.3Z" fill="#fed98e" fill-opacity="0.85"/>
<path d="M594.9 244.45L597.65 247.2L594.9 249.95L592.15 247.2Z" fill="#fed98e" fill-opacity="0.85"/>
<path d="M594.9 242.65L597.65 245.4L594.9 248.15L592.15 245.4Z" fill="#fed98e" fill-opacity="0.85"/>
<path d="M594.9 278.75L597.65 281.5L594.9 284.25L592.15 281.5Z" fill="#fed98e" fill-opacity="0.85"/>
<path d="M594.9 295.95L597.65 298.7L594.9 301.45L592.15 298.7Z" fill="#fed98e" fill-opacity="0.85"/>
<circle cx="611.5" cy="233.8" r="2.3" fill="#fe9929" fill-opacity="0.32"/>
<circle cx="611.5" cy="239" r="2.3" fill="#fe9929" fill-opacity="0.32"/>
<circle cx="611.5" cy="249.1" r="2.3" fill="#fe9929" fill-opacity="0.32"/>
<circle cx="611.5" cy="254.8" r="2.3" fill="#fe9929" fill-opacity="0.32"/>
<circle cx="611.5" cy="269.7" r="2.3" fill="#fe9929" fill-opacity="0.32"/>
<circle cx="611.5" cy="282.7" r="2.3" fill="#fe9929" fill-opacity="0.32"/>
<circle cx="611.5" cy="254.8" r="2.3" fill="#fe9929" fill-opacity="0.32"/>
<line x1="611.5" y1="233.8" x2="622.7" y2="265" stroke="#4a4a4a" stroke-width="0.45"/>
<line x1="611.5" y1="239" x2="622.7" y2="273.7" stroke="#4a4a4a" stroke-width="0.45"/>
<line x1="611.5" y1="249.1" x2="622.7" y2="252" stroke="#4a4a4a" stroke-width="0.45"/>
<line x1="611.5" y1="254.8" x2="622.7" y2="246.1" stroke="#4a4a4a" stroke-width="0.45"/>
<line x1="611.5" y1="269.7" x2="622.7" y2="269" stroke="#4a4a4a" stroke-width="0.45"/>
<line x1="611.5" y1="282.7" x2="622.7" y2="273.7" stroke="#4a4a4a" stroke-width="0.45"/>
<line x1="611.5" y1="254.8" x2="622.7" y2="281.5" stroke="#4a4a4a" stroke-width="0.45"/>
<path d="M622.7 262.25L625.45 265L622.7 267.75L619.95 265Z" fill="#fe9929" fill-opacity="0.85"/>
<path d="M622.7 270.95L625.45 273.7L622.7 276.45L619.95 273.7Z" fill="#fe9929" fill-opacity="0.85"/>
<path d="M622.7 249.25L625.45 252L622.7 254.75L619.95 252Z" fill="#fe9929" fill-opacity="0.85"/>
<path d="M622.7 243.35L625.45 246.1L622.7 248.85L619.95 246.1Z" fill="#fe9929" fill-opacity="0.85"/>
<path d="M622.7 266.25L625.45 269L622.7 271.75L619.95 269Z" fill="#fe9929" fill-opacity="0.85"/>
<path d="M622.7 270.95L625.45 273.7L622.7 276.45L619.95 273.7Z" fill="#fe9929" fill-opacity="0.85"/>
<path d="M622.7 278.75L625.45 281.5L622.7 284.25L619.95 281.5Z" fill="#fe9929" fill-opacity="0.85"/>
<circle cx="639.3" cy="220.1" r="2.3" fill="#d95f0e" fill-opacity="0.32"/>
<circle cx="639.3" cy="224.8" r="2.3" fill="#d95f0e" fill-opacity="0.32"/>
<circle cx="639.3" cy="246.8" r="2.3" fill="#d95f0e" fill-opacity="0.32"/>
<circle cx="639.3" cy="250.1" r="2.3" fill="#d95f0e" fill-opacity="0.32"/>
<circle cx="639.3" cy="258.6" r="2.3" fill="#d95f0e" fill-opacity="0.32"/>
<circle cx="639.3" cy="265.7" r="2.3" fill="#d95f0e" fill-opacity="0.32"/>
<circle cx="639.3" cy="268" r="2.3" fill="#d95f0e" fill-opacity="0.32"/>
<circle cx="639.3" cy="276.1" r="2.3" fill="#d95f0e" fill-opacity="0.32"/>
<circle cx="639.3" cy="279.8" r="2.3" fill="#d95f0e" fill-opacity="0.32"/>
<circle cx="639.3" cy="291" r="2.3" fill="#d95f0e" fill-opacity="0.32"/>
<line x1="639.3" y1="220.1" x2="650.5" y2="242" stroke="#4a4a4a" stroke-width="0.45"/>
<line x1="639.3" y1="224.8" x2="650.5" y2="256.7" stroke="#4a4a4a" stroke-width="0.45"/>
<line x1="639.3" y1="246.8" x2="650.5" y2="250.8" stroke="#4a4a4a" stroke-width="0.45"/>
<line x1="639.3" y1="250.1" x2="650.5" y2="275.1" stroke="#4a4a4a" stroke-width="0.45"/>
<line x1="639.3" y1="258.6" x2="650.5" y2="253.9" stroke="#4a4a4a" stroke-width="0.45"/>
<line x1="639.3" y1="265.7" x2="650.5" y2="278" stroke="#4a4a4a" stroke-width="0.45"/>
<line x1="639.3" y1="268" x2="650.5" y2="261.9" stroke="#4a4a4a" stroke-width="0.45"/>
<line x1="639.3" y1="276.1" x2="650.5" y2="264.3" stroke="#4a4a4a" stroke-width="0.45"/>
<line x1="639.3" y1="279.8" x2="650.5" y2="283.9" stroke="#4a4a4a" stroke-width="0.45"/>
<line x1="639.3" y1="291" x2="650.5" y2="283.9" stroke="#4a4a4a" stroke-width="0.45"/>
<path d="M650.5 239.25L653.25 242L650.5 244.75L647.75 242Z" fill="#d95f0e" fill-opacity="0.85"/>
<path d="M650.5 253.95L653.25 256.7L650.5 259.45L647.75 256.7Z" fill="#d95f0e" fill-opacity="0.85"/>
<path d="M650.5 248.05L653.25 250.8L650.5 253.55L647.75 250.8Z" fill="#d95f0e" fill-opacity="0.85"/>
<path d="M650.5 272.35L653.25 275.1L650.5 277.85L647.75 275.1Z" fill="#d95f0e" fill-opacity="0.85"/>
<path d="M650.5 251.15L653.25 253.9L650.5 256.65L647.75 253.9Z" fill="#d95f0e" fill-opacity="0.85"/>
<path d="M650.5 275.25L653.25 278L650.5 280.75L647.75 278Z" fill="#d95f0e" fill-opacity="0.85"/>
<path d="M650.5 259.15L653.25 261.9L650.5 264.65L647.75 261.9Z" fill="#d95f0e" fill-opacity="0.85"/>
<path d="M650.5 261.55L653.25 264.3L650.5 267.05L647.75 264.3Z" fill="#d95f0e" fill-opacity="0.85"/>
<path d="M650.5 281.15L653.25 283.9L650.5 286.65L647.75 283.9Z" fill="#d95f0e" fill-opacity="0.85"/>
<path d="M650.5 281.15L653.25 283.9L650.5 286.65L647.75 283.9Z" fill="#d95f0e" fill-opacity="0.85"/>
<circle cx="667.1" cy="261.4" r="2.3" fill="#993404" fill-opacity="0.32"/>
<circle cx="667.1" cy="272.8" r="2.3" fill="#993404" fill-opacity="0.32"/>
<circle cx="667.1" cy="280.8" r="2.3" fill="#993404" fill-opacity="0.32"/>
<circle cx="667.1" cy="283.2" r="2.3" fill="#993404" fill-opacity="0.32"/>
<circle cx="667.1" cy="286.9" r="2.3" fill="#993404" fill-opacity="0.32"/>
<circle cx="667.1" cy="261.4" r="2.3" fill="#993404" fill-opacity="0.32"/>
<line x1="667.1" y1="261.4" x2="678.3" y2="295.7" stroke="#4a4a4a" stroke-width="0.45"/>
<line x1="667.1" y1="272.8" x2="678.3" y2="278" stroke="#4a4a4a" stroke-width="0.45"/>
<line x1="667.1" y1="280.8" x2="678.3" y2="269.2" stroke="#4a4a4a" stroke-width="0.45"/>
<line x1="667.1" y1="283.2" x2="678.3" y2="298" stroke="#4a4a4a" stroke-width="0.45"/>
<line x1="667.1" y1="286.9" x2="678.3" y2="293.3" stroke="#4a4a4a" stroke-width="0.45"/>
<line x1="667.1" y1="261.4" x2="678.3" y2="279.8" stroke="#4a4a4a" stroke-width="0.45"/>
<path d="M678.3 292.95L681.05 295.7L678.3 298.45L675.55 295.7Z" fill="#993404" fill-opacity="0.85"/>
<path d="M678.3 275.25L681.05 278L678.3 280.75L675.55 278Z" fill="#993404" fill-opacity="0.85"/>
<path d="M678.3 266.45L681.05 269.2L678.3 271.95L675.55 269.2Z" fill="#993404" fill-opacity="0.85"/>
<path d="M678.3 295.25L681.05 298L678.3 300.75L675.55 298Z" fill="#993404" fill-opacity="0.85"/>
<path d="M678.3 290.55L681.05 293.3L678.3 296.05L675.55 293.3Z" fill="#993404" fill-opacity="0.85"/>
<path d="M678.3 277.05L681.05 279.8L678.3 282.55L675.55 279.8Z" fill="#993404" fill-opacity="0.85"/>
<text x="1.9" y="332.8" font-size="12.6" font-weight="bold" fill="#000" stroke="#000" stroke-width="0.45">i</text>
<text x="86.7" y="334.3" font-size="8.6" text-anchor="middle" fill="#1e1e1e" textLength="61.6" lengthAdjust="spacingAndGlyphs">HDL-C (mg dl<tspan font-size="5.85" dy="-4.5">−1</tspan><tspan dy="4.5">)</tspan></text>
<line x1="20.7" y1="371.2" x2="20.7" y2="465" stroke="#7a7a7a" stroke-width="0.9"/>
<line x1="17.5" y1="375.7" x2="20.7" y2="375.7" stroke="#7a7a7a" stroke-width="0.8"/>
<text x="14.2" y="378.47" font-size="7.8" text-anchor="end" fill="#1e1e1e" textLength="12.91" lengthAdjust="spacingAndGlyphs">100</text>
<line x1="17.5" y1="399" x2="20.7" y2="399" stroke="#7a7a7a" stroke-width="0.8"/>
<text x="14.2" y="401.77" font-size="7.8" text-anchor="end" fill="#1e1e1e" textLength="9.37" lengthAdjust="spacingAndGlyphs">80</text>
<line x1="17.5" y1="422.4" x2="20.7" y2="422.4" stroke="#7a7a7a" stroke-width="0.8"/>
<text x="14.2" y="425.17" font-size="7.8" text-anchor="end" fill="#1e1e1e" textLength="9.37" lengthAdjust="spacingAndGlyphs">60</text>
<line x1="17.5" y1="446.2" x2="20.7" y2="446.2" stroke="#7a7a7a" stroke-width="0.8"/>
<text x="14.2" y="448.97" font-size="7.8" text-anchor="end" fill="#1e1e1e" textLength="9.37" lengthAdjust="spacingAndGlyphs">40</text>
<line x1="20.7" y1="465" x2="45" y2="465" stroke="#7a7a7a" stroke-width="1"/>
<line x1="48.4" y1="465" x2="72.7" y2="465" stroke="#7a7a7a" stroke-width="1"/>
<line x1="76.1" y1="465" x2="100.4" y2="465" stroke="#7a7a7a" stroke-width="1"/>
<line x1="103.8" y1="465" x2="128.1" y2="465" stroke="#7a7a7a" stroke-width="1"/>
<line x1="131.5" y1="465" x2="155.8" y2="465" stroke="#7a7a7a" stroke-width="1"/>
<circle cx="27" cy="404.3" r="2.3" fill="#000000" fill-opacity="0.3"/>
<circle cx="27" cy="404.3" r="2.3" fill="#000000" fill-opacity="0.3"/>
<circle cx="27" cy="418.8" r="2.3" fill="#000000" fill-opacity="0.3"/>
<circle cx="27" cy="420.5" r="2.3" fill="#000000" fill-opacity="0.3"/>
<circle cx="27" cy="428.3" r="2.3" fill="#000000" fill-opacity="0.3"/>
<circle cx="27" cy="434.8" r="2.3" fill="#000000" fill-opacity="0.3"/>
<circle cx="27" cy="448.3" r="2.3" fill="#000000" fill-opacity="0.3"/>
<circle cx="27" cy="450.7" r="2.3" fill="#000000" fill-opacity="0.3"/>
<line x1="27" y1="404.3" x2="38.1" y2="412.9" stroke="#4a4a4a" stroke-width="0.45"/>
<line x1="27" y1="404.3" x2="38.1" y2="438.8" stroke="#4a4a4a" stroke-width="0.45"/>
<line x1="27" y1="418.8" x2="38.1" y2="426" stroke="#4a4a4a" stroke-width="0.45"/>
<line x1="27" y1="420.5" x2="38.1" y2="445" stroke="#4a4a4a" stroke-width="0.45"/>
<line x1="27" y1="428.3" x2="38.1" y2="437.1" stroke="#4a4a4a" stroke-width="0.45"/>
<line x1="27" y1="434.8" x2="38.1" y2="452.1" stroke="#4a4a4a" stroke-width="0.45"/>
<line x1="27" y1="448.3" x2="38.1" y2="418.8" stroke="#4a4a4a" stroke-width="0.45"/>
<line x1="27" y1="450.7" x2="38.1" y2="445" stroke="#4a4a4a" stroke-width="0.45"/>
<path d="M38.1 410.15L40.85 412.9L38.1 415.65L35.35 412.9Z" fill="#000000" fill-opacity="0.8"/>
<path d="M38.1 436.05L40.85 438.8L38.1 441.55L35.35 438.8Z" fill="#000000" fill-opacity="0.8"/>
<path d="M38.1 423.25L40.85 426L38.1 428.75L35.35 426Z" fill="#000000" fill-opacity="0.8"/>
<path d="M38.1 442.25L40.85 445L38.1 447.75L35.35 445Z" fill="#000000" fill-opacity="0.8"/>
<path d="M38.1 434.35L40.85 437.1L38.1 439.85L35.35 437.1Z" fill="#000000" fill-opacity="0.8"/>
<path d="M38.1 449.35L40.85 452.1L38.1 454.85L35.35 452.1Z" fill="#000000" fill-opacity="0.8"/>
<path d="M38.1 416.05L40.85 418.8L38.1 421.55L35.35 418.8Z" fill="#000000" fill-opacity="0.8"/>
<path d="M38.1 442.25L40.85 445L38.1 447.75L35.35 445Z" fill="#000000" fill-opacity="0.8"/>
<circle cx="54.7" cy="405" r="2.3" fill="#fed98e" fill-opacity="0.32"/>
<circle cx="54.7" cy="405" r="2.3" fill="#fed98e" fill-opacity="0.32"/>
<circle cx="54.7" cy="418.1" r="2.3" fill="#fed98e" fill-opacity="0.32"/>
<circle cx="54.7" cy="419.8" r="2.3" fill="#fed98e" fill-opacity="0.32"/>
<circle cx="54.7" cy="437.9" r="2.3" fill="#fed98e" fill-opacity="0.32"/>
<circle cx="54.7" cy="437.9" r="2.3" fill="#fed98e" fill-opacity="0.32"/>
<circle cx="54.7" cy="453.8" r="2.3" fill="#fed98e" fill-opacity="0.32"/>
<line x1="54.7" y1="405" x2="65.8" y2="402.6" stroke="#4a4a4a" stroke-width="0.45"/>
<line x1="54.7" y1="405" x2="65.8" y2="428.3" stroke="#4a4a4a" stroke-width="0.45"/>
<line x1="54.7" y1="418.1" x2="65.8" y2="421.2" stroke="#4a4a4a" stroke-width="0.45"/>
<line x1="54.7" y1="419.8" x2="65.8" y2="419.8" stroke="#4a4a4a" stroke-width="0.45"/>
<line x1="54.7" y1="437.9" x2="65.8" y2="442.6" stroke="#4a4a4a" stroke-width="0.45"/>
<line x1="54.7" y1="437.9" x2="65.8" y2="431.7" stroke="#4a4a4a" stroke-width="0.45"/>
<line x1="54.7" y1="453.8" x2="65.8" y2="456.7" stroke="#4a4a4a" stroke-width="0.45"/>
<path d="M65.8 399.85L68.55 402.6L65.8 405.35L63.05 402.6Z" fill="#fed98e" fill-opacity="0.85"/>
<path d="M65.8 425.55L68.55 428.3L65.8 431.05L63.05 428.3Z" fill="#fed98e" fill-opacity="0.85"/>
<path d="M65.8 418.45L68.55 421.2L65.8 423.95L63.05 421.2Z" fill="#fed98e" fill-opacity="0.85"/>
<path d="M65.8 417.05L68.55 419.8L65.8 422.55L63.05 419.8Z" fill="#fed98e" fill-opacity="0.85"/>
<path d="M65.8 439.85L68.55 442.6L65.8 445.35L63.05 442.6Z" fill="#fed98e" fill-opacity="0.85"/>
<path d="M65.8 428.95L68.55 431.7L65.8 434.45L63.05 431.7Z" fill="#fed98e" fill-opacity="0.85"/>
<path d="M65.8 453.95L68.55 456.7L65.8 459.45L63.05 456.7Z" fill="#fed98e" fill-opacity="0.85"/>
<circle cx="82.4" cy="411.7" r="2.3" fill="#fe9929" fill-opacity="0.32"/>
<circle cx="82.4" cy="423.6" r="2.3" fill="#fe9929" fill-opacity="0.32"/>
<circle cx="82.4" cy="428.3" r="2.3" fill="#fe9929" fill-opacity="0.32"/>
<circle cx="82.4" cy="430.7" r="2.3" fill="#fe9929" fill-opacity="0.32"/>
<circle cx="82.4" cy="423.6" r="2.3" fill="#fe9929" fill-opacity="0.32"/>
<circle cx="82.4" cy="440.7" r="2.3" fill="#fe9929" fill-opacity="0.32"/>
<circle cx="82.4" cy="449.8" r="2.3" fill="#fe9929" fill-opacity="0.32"/>
<circle cx="82.4" cy="428.3" r="2.3" fill="#fe9929" fill-opacity="0.32"/>
<line x1="82.4" y1="411.7" x2="93.5" y2="416.9" stroke="#4a4a4a" stroke-width="0.45"/>
<line x1="82.4" y1="423.6" x2="93.5" y2="426" stroke="#4a4a4a" stroke-width="0.45"/>
<line x1="82.4" y1="428.3" x2="93.5" y2="433.6" stroke="#4a4a4a" stroke-width="0.45"/>
<line x1="82.4" y1="430.7" x2="93.5" y2="439.5" stroke="#4a4a4a" stroke-width="0.45"/>
<line x1="82.4" y1="423.6" x2="93.5" y2="433.6" stroke="#4a4a4a" stroke-width="0.45"/>
<line x1="82.4" y1="440.7" x2="93.5" y2="444.3" stroke="#4a4a4a" stroke-width="0.45"/>
<line x1="82.4" y1="449.8" x2="93.5" y2="454.5" stroke="#4a4a4a" stroke-width="0.45"/>
<line x1="82.4" y1="428.3" x2="93.5" y2="430.7" stroke="#4a4a4a" stroke-width="0.45"/>
<path d="M93.5 414.15L96.25 416.9L93.5 419.65L90.75 416.9Z" fill="#fe9929" fill-opacity="0.85"/>
<path d="M93.5 423.25L96.25 426L93.5 428.75L90.75 426Z" fill="#fe9929" fill-opacity="0.85"/>
<path d="M93.5 430.85L96.25 433.6L93.5 436.35L90.75 433.6Z" fill="#fe9929" fill-opacity="0.85"/>
<path d="M93.5 436.75L96.25 439.5L93.5 442.25L90.75 439.5Z" fill="#fe9929" fill-opacity="0.85"/>
<path d="M93.5 430.85L96.25 433.6L93.5 436.35L90.75 433.6Z" fill="#fe9929" fill-opacity="0.85"/>
<path d="M93.5 441.55L96.25 444.3L93.5 447.05L90.75 444.3Z" fill="#fe9929" fill-opacity="0.85"/>
<path d="M93.5 451.75L96.25 454.5L93.5 457.25L90.75 454.5Z" fill="#fe9929" fill-opacity="0.85"/>
<path d="M93.5 427.95L96.25 430.7L93.5 433.45L90.75 430.7Z" fill="#fe9929" fill-opacity="0.85"/>
<circle cx="110.1" cy="397.9" r="2.3" fill="#d95f0e" fill-opacity="0.32"/>
<circle cx="110.1" cy="402.1" r="2.3" fill="#d95f0e" fill-opacity="0.32"/>
<circle cx="110.1" cy="414.5" r="2.3" fill="#d95f0e" fill-opacity="0.32"/>
<circle cx="110.1" cy="414.5" r="2.3" fill="#d95f0e" fill-opacity="0.32"/>
<circle cx="110.1" cy="426" r="2.3" fill="#d95f0e" fill-opacity="0.32"/>
<circle cx="110.1" cy="429.3" r="2.3" fill="#d95f0e" fill-opacity="0.32"/>
<circle cx="110.1" cy="431.2" r="2.3" fill="#d95f0e" fill-opacity="0.32"/>
<circle cx="110.1" cy="436" r="2.3" fill="#d95f0e" fill-opacity="0.32"/>
<circle cx="110.1" cy="445" r="2.3" fill="#d95f0e" fill-opacity="0.32"/>
<circle cx="110.1" cy="446.7" r="2.3" fill="#d95f0e" fill-opacity="0.32"/>
<circle cx="110.1" cy="453.8" r="2.3" fill="#d95f0e" fill-opacity="0.32"/>
<line x1="110.1" y1="397.9" x2="121.2" y2="378.8" stroke="#4a4a4a" stroke-width="0.45"/>
<line x1="110.1" y1="402.1" x2="121.2" y2="402.6" stroke="#4a4a4a" stroke-width="0.45"/>
<line x1="110.1" y1="414.5" x2="121.2" y2="414" stroke="#4a4a4a" stroke-width="0.45"/>
<line x1="110.1" y1="414.5" x2="121.2" y2="420.5" stroke="#4a4a4a" stroke-width="0.45"/>
<line x1="110.1" y1="426" x2="121.2" y2="437.1" stroke="#4a4a4a" stroke-width="0.45"/>
<line x1="110.1" y1="429.3" x2="121.2" y2="428.8" stroke="#4a4a4a" stroke-width="0.45"/>
<line x1="110.1" y1="431.2" x2="121.2" y2="426.4" stroke="#4a4a4a" stroke-width="0.45"/>
<line x1="110.1" y1="436" x2="121.2" y2="432.4" stroke="#4a4a4a" stroke-width="0.45"/>
<line x1="110.1" y1="445" x2="121.2" y2="447.4" stroke="#4a4a4a" stroke-width="0.45"/>
<line x1="110.1" y1="446.7" x2="121.2" y2="461" stroke="#4a4a4a" stroke-width="0.45"/>
<line x1="110.1" y1="453.8" x2="121.2" y2="453.8" stroke="#4a4a4a" stroke-width="0.45"/>
<path d="M121.2 376.05L123.95 378.8L121.2 381.55L118.45 378.8Z" fill="#d95f0e" fill-opacity="0.85"/>
<path d="M121.2 399.85L123.95 402.6L121.2 405.35L118.45 402.6Z" fill="#d95f0e" fill-opacity="0.85"/>
<path d="M121.2 411.25L123.95 414L121.2 416.75L118.45 414Z" fill="#d95f0e" fill-opacity="0.85"/>
<path d="M121.2 417.75L123.95 420.5L121.2 423.25L118.45 420.5Z" fill="#d95f0e" fill-opacity="0.85"/>
<path d="M121.2 434.35L123.95 437.1L121.2 439.85L118.45 437.1Z" fill="#d95f0e" fill-opacity="0.85"/>
<path d="M121.2 426.05L123.95 428.8L121.2 431.55L118.45 428.8Z" fill="#d95f0e" fill-opacity="0.85"/>
<path d="M121.2 423.65L123.95 426.4L121.2 429.15L118.45 426.4Z" fill="#d95f0e" fill-opacity="0.85"/>
<path d="M121.2 429.65L123.95 432.4L121.2 435.15L118.45 432.4Z" fill="#d95f0e" fill-opacity="0.85"/>
<path d="M121.2 444.65L123.95 447.4L121.2 450.15L118.45 447.4Z" fill="#d95f0e" fill-opacity="0.85"/>
<path d="M121.2 458.25L123.95 461L121.2 463.75L118.45 461Z" fill="#d95f0e" fill-opacity="0.85"/>
<path d="M121.2 451.05L123.95 453.8L121.2 456.55L118.45 453.8Z" fill="#d95f0e" fill-opacity="0.85"/>
<circle cx="137.8" cy="403.8" r="2.3" fill="#993404" fill-opacity="0.32"/>
<circle cx="137.8" cy="408.6" r="2.3" fill="#993404" fill-opacity="0.32"/>
<circle cx="137.8" cy="429.3" r="2.3" fill="#993404" fill-opacity="0.32"/>
<circle cx="137.8" cy="435.5" r="2.3" fill="#993404" fill-opacity="0.32"/>
<circle cx="137.8" cy="446" r="2.3" fill="#993404" fill-opacity="0.32"/>
<circle cx="137.8" cy="446" r="2.3" fill="#993404" fill-opacity="0.32"/>
<line x1="137.8" y1="403.8" x2="148.9" y2="419.3" stroke="#4a4a4a" stroke-width="0.45"/>
<line x1="137.8" y1="408.6" x2="148.9" y2="422.1" stroke="#4a4a4a" stroke-width="0.45"/>
<line x1="137.8" y1="429.3" x2="148.9" y2="430.7" stroke="#4a4a4a" stroke-width="0.45"/>
<line x1="137.8" y1="435.5" x2="148.9" y2="441.2" stroke="#4a4a4a" stroke-width="0.45"/>
<line x1="137.8" y1="446" x2="148.9" y2="450.2" stroke="#4a4a4a" stroke-width="0.45"/>
<line x1="137.8" y1="446" x2="148.9" y2="453.1" stroke="#4a4a4a" stroke-width="0.45"/>
<path d="M148.9 416.55L151.65 419.3L148.9 422.05L146.15 419.3Z" fill="#993404" fill-opacity="0.85"/>
<path d="M148.9 419.35L151.65 422.1L148.9 424.85L146.15 422.1Z" fill="#993404" fill-opacity="0.85"/>
<path d="M148.9 427.95L151.65 430.7L148.9 433.45L146.15 430.7Z" fill="#993404" fill-opacity="0.85"/>
<path d="M148.9 438.45L151.65 441.2L148.9 443.95L146.15 441.2Z" fill="#993404" fill-opacity="0.85"/>
<path d="M148.9 447.45L151.65 450.2L148.9 452.95L146.15 450.2Z" fill="#993404" fill-opacity="0.85"/>
<path d="M148.9 450.35L151.65 453.1L148.9 455.85L146.15 453.1Z" fill="#993404" fill-opacity="0.85"/>
<path d="M29.8 376.1V373.4H41V376.1" fill="none" stroke="#808080" stroke-width="0.85"/>
<text x="35.5" y="370.6" font-size="7.7" text-anchor="middle" fill="#1e1e1e" textLength="14.8" lengthAdjust="spacingAndGlyphs">0.08</text>
<path d="M141.4 378.6V375.9H152.9V378.6" fill="none" stroke="#808080" stroke-width="0.85"/>
<text x="146.75" y="373" font-size="7.7" text-anchor="middle" fill="#1e1e1e" textLength="15.5" lengthAdjust="spacingAndGlyphs">0.08</text>
<text x="174" y="332.8" font-size="12.6" font-weight="bold" fill="#000" stroke="#000" stroke-width="0.45">j</text>
<text x="267.95" y="334.1" font-size="8.6" text-anchor="middle" fill="#1e1e1e" textLength="61.1" lengthAdjust="spacingAndGlyphs">TG/HDL-C ratio</text>
<line x1="199.9" y1="370.7" x2="199.9" y2="465.1" stroke="#7a7a7a" stroke-width="0.9"/>
<line x1="196.7" y1="385" x2="199.9" y2="385" stroke="#7a7a7a" stroke-width="0.8"/>
<text x="193.4" y="387.77" font-size="7.8" text-anchor="end" fill="#1e1e1e" textLength="4.68" lengthAdjust="spacingAndGlyphs">5</text>
<line x1="196.7" y1="402.3" x2="199.9" y2="402.3" stroke="#7a7a7a" stroke-width="0.8"/>
<text x="193.4" y="405.07" font-size="7.8" text-anchor="end" fill="#1e1e1e" textLength="4.68" lengthAdjust="spacingAndGlyphs">4</text>
<line x1="196.7" y1="419.4" x2="199.9" y2="419.4" stroke="#7a7a7a" stroke-width="0.8"/>
<text x="193.4" y="422.17" font-size="7.8" text-anchor="end" fill="#1e1e1e" textLength="4.68" lengthAdjust="spacingAndGlyphs">3</text>
<line x1="196.7" y1="436.3" x2="199.9" y2="436.3" stroke="#7a7a7a" stroke-width="0.8"/>
<text x="193.4" y="439.07" font-size="7.8" text-anchor="end" fill="#1e1e1e" textLength="4.68" lengthAdjust="spacingAndGlyphs">2</text>
<line x1="196.7" y1="453.4" x2="199.9" y2="453.4" stroke="#7a7a7a" stroke-width="0.8"/>
<text x="193.4" y="456.17" font-size="7.8" text-anchor="end" fill="#1e1e1e" textLength="3.54" lengthAdjust="spacingAndGlyphs">1</text>
<line x1="200.1" y1="465.1" x2="226" y2="465.1" stroke="#7a7a7a" stroke-width="1"/>
<line x1="229.3" y1="465.1" x2="255.2" y2="465.1" stroke="#7a7a7a" stroke-width="1"/>
<line x1="258.5" y1="465.1" x2="284.4" y2="465.1" stroke="#7a7a7a" stroke-width="1"/>
<line x1="287.7" y1="465.1" x2="313.6" y2="465.1" stroke="#7a7a7a" stroke-width="1"/>
<line x1="316.9" y1="465.1" x2="342.8" y2="465.1" stroke="#7a7a7a" stroke-width="1"/>
<circle cx="207" cy="395.1" r="2.3" fill="#000000" fill-opacity="0.3"/>
<circle cx="207" cy="412.6" r="2.3" fill="#000000" fill-opacity="0.3"/>
<circle cx="207" cy="424" r="2.3" fill="#000000" fill-opacity="0.3"/>
<circle cx="207" cy="435.9" r="2.3" fill="#000000" fill-opacity="0.3"/>
<circle cx="207" cy="438" r="2.3" fill="#000000" fill-opacity="0.3"/>
<circle cx="207" cy="446.6" r="2.3" fill="#000000" fill-opacity="0.3"/>
<circle cx="207" cy="449.3" r="2.3" fill="#000000" fill-opacity="0.3"/>
<circle cx="207" cy="454" r="2.3" fill="#000000" fill-opacity="0.3"/>
<circle cx="207" cy="456.5" r="2.3" fill="#000000" fill-opacity="0.3"/>
<line x1="207" y1="395.1" x2="218.9" y2="384" stroke="#4a4a4a" stroke-width="0.45"/>
<line x1="207" y1="412.6" x2="218.9" y2="414.3" stroke="#4a4a4a" stroke-width="0.45"/>
<line x1="207" y1="424" x2="218.9" y2="419" stroke="#4a4a4a" stroke-width="0.45"/>
<line x1="207" y1="435.9" x2="218.9" y2="425.6" stroke="#4a4a4a" stroke-width="0.45"/>
<line x1="207" y1="438" x2="218.9" y2="432.4" stroke="#4a4a4a" stroke-width="0.45"/>
<line x1="207" y1="446.6" x2="218.9" y2="452.4" stroke="#4a4a4a" stroke-width="0.45"/>
<line x1="207" y1="449.3" x2="218.9" y2="454.4" stroke="#4a4a4a" stroke-width="0.45"/>
<line x1="207" y1="454" x2="218.9" y2="456.1" stroke="#4a4a4a" stroke-width="0.45"/>
<line x1="207" y1="456.5" x2="218.9" y2="456.1" stroke="#4a4a4a" stroke-width="0.45"/>
<path d="M218.9 381.25L221.65 384L218.9 386.75L216.15 384Z" fill="#000000" fill-opacity="0.8"/>
<path d="M218.9 411.55L221.65 414.3L218.9 417.05L216.15 414.3Z" fill="#000000" fill-opacity="0.8"/>
<path d="M218.9 416.25L221.65 419L218.9 421.75L216.15 419Z" fill="#000000" fill-opacity="0.8"/>
<path d="M218.9 422.85L221.65 425.6L218.9 428.35L216.15 425.6Z" fill="#000000" fill-opacity="0.8"/>
<path d="M218.9 429.65L221.65 432.4L218.9 435.15L216.15 432.4Z" fill="#000000" fill-opacity="0.8"/>
<path d="M218.9 449.65L221.65 452.4L218.9 455.15L216.15 452.4Z" fill="#000000" fill-opacity="0.8"/>
<path d="M218.9 451.65L221.65 454.4L218.9 457.15L216.15 454.4Z" fill="#000000" fill-opacity="0.8"/>
<path d="M218.9 453.35L221.65 456.1L218.9 458.85L216.15 456.1Z" fill="#000000" fill-opacity="0.8"/>
<path d="M218.9 453.35L221.65 456.1L218.9 458.85L216.15 456.1Z" fill="#000000" fill-opacity="0.8"/>
<circle cx="236.2" cy="406.7" r="2.3" fill="#fed98e" fill-opacity="0.32"/>
<circle cx="236.2" cy="428.7" r="2.3" fill="#fed98e" fill-opacity="0.32"/>
<circle cx="236.2" cy="442.5" r="2.3" fill="#fed98e" fill-opacity="0.32"/>
<circle cx="236.2" cy="447.8" r="2.3" fill="#fed98e" fill-opacity="0.32"/>
<circle cx="236.2" cy="454" r="2.3" fill="#fed98e" fill-opacity="0.32"/>
<circle cx="236.2" cy="460.2" r="2.3" fill="#fed98e" fill-opacity="0.32"/>
<line x1="236.2" y1="406.7" x2="248.1" y2="433.4" stroke="#4a4a4a" stroke-width="0.45"/>
<line x1="236.2" y1="428.7" x2="248.1" y2="442.1" stroke="#4a4a4a" stroke-width="0.45"/>
<line x1="236.2" y1="442.5" x2="248.1" y2="442.1" stroke="#4a4a4a" stroke-width="0.45"/>
<line x1="236.2" y1="447.8" x2="248.1" y2="448.3" stroke="#4a4a4a" stroke-width="0.45"/>
<line x1="236.2" y1="454" x2="248.1" y2="454" stroke="#4a4a4a" stroke-width="0.45"/>
<line x1="236.2" y1="460.2" x2="248.1" y2="459.6" stroke="#4a4a4a" stroke-width="0.45"/>
<path d="M248.1 430.65L250.85 433.4L248.1 436.15L245.35 433.4Z" fill="#fed98e" fill-opacity="0.85"/>
<path d="M248.1 439.35L250.85 442.1L248.1 444.85L245.35 442.1Z" fill="#fed98e" fill-opacity="0.85"/>
<path d="M248.1 439.35L250.85 442.1L248.1 444.85L245.35 442.1Z" fill="#fed98e" fill-opacity="0.85"/>
<path d="M248.1 445.55L250.85 448.3L248.1 451.05L245.35 448.3Z" fill="#fed98e" fill-opacity="0.85"/>
<path d="M248.1 451.25L250.85 454L248.1 456.75L245.35 454Z" fill="#fed98e" fill-opacity="0.85"/>
<path d="M248.1 456.85L250.85 459.6L248.1 462.35L245.35 459.6Z" fill="#fed98e" fill-opacity="0.85"/>
<circle cx="265.4" cy="382.8" r="2.3" fill="#fe9929" fill-opacity="0.32"/>
<circle cx="265.4" cy="409.1" r="2.3" fill="#fe9929" fill-opacity="0.32"/>
<circle cx="265.4" cy="428.1" r="2.3" fill="#fe9929" fill-opacity="0.32"/>
<circle cx="265.4" cy="436.9" r="2.3" fill="#fe9929" fill-opacity="0.32"/>
<circle cx="265.4" cy="447.2" r="2.3" fill="#fe9929" fill-opacity="0.32"/>
<circle cx="265.4" cy="453.4" r="2.3" fill="#fe9929" fill-opacity="0.32"/>
<circle cx="265.4" cy="456.1" r="2.3" fill="#fe9929" fill-opacity="0.32"/>
<line x1="265.4" y1="382.8" x2="277.3" y2="415.7" stroke="#4a4a4a" stroke-width="0.45"/>
<line x1="265.4" y1="409.1" x2="277.3" y2="419.4" stroke="#4a4a4a" stroke-width="0.45"/>
<line x1="265.4" y1="428.1" x2="277.3" y2="437.5" stroke="#4a4a4a" stroke-width="0.45"/>
<line x1="265.4" y1="436.9" x2="277.3" y2="430.7" stroke="#4a4a4a" stroke-width="0.45"/>
<line x1="265.4" y1="447.2" x2="277.3" y2="439.6" stroke="#4a4a4a" stroke-width="0.45"/>
<line x1="265.4" y1="453.4" x2="277.3" y2="450.7" stroke="#4a4a4a" stroke-width="0.45"/>
<line x1="265.4" y1="456.1" x2="277.3" y2="452" stroke="#4a4a4a" stroke-width="0.45"/>
<path d="M277.3 412.95L280.05 415.7L277.3 418.45L274.55 415.7Z" fill="#fe9929" fill-opacity="0.85"/>
<path d="M277.3 416.65L280.05 419.4L277.3 422.15L274.55 419.4Z" fill="#fe9929" fill-opacity="0.85"/>
<path d="M277.3 434.75L280.05 437.5L277.3 440.25L274.55 437.5Z" fill="#fe9929" fill-opacity="0.85"/>
<path d="M277.3 427.95L280.05 430.7L277.3 433.45L274.55 430.7Z" fill="#fe9929" fill-opacity="0.85"/>
<path d="M277.3 436.85L280.05 439.6L277.3 442.35L274.55 439.6Z" fill="#fe9929" fill-opacity="0.85"/>
<path d="M277.3 447.95L280.05 450.7L277.3 453.45L274.55 450.7Z" fill="#fe9929" fill-opacity="0.85"/>
<path d="M277.3 449.25L280.05 452L277.3 454.75L274.55 452Z" fill="#fe9929" fill-opacity="0.85"/>
<circle cx="294.6" cy="378.6" r="2.3" fill="#d95f0e" fill-opacity="0.32"/>
<circle cx="294.6" cy="402.3" r="2.3" fill="#d95f0e" fill-opacity="0.32"/>
<circle cx="294.6" cy="418.4" r="2.3" fill="#d95f0e" fill-opacity="0.32"/>
<circle cx="294.6" cy="424" r="2.3" fill="#d95f0e" fill-opacity="0.32"/>
<circle cx="294.6" cy="426" r="2.3" fill="#d95f0e" fill-opacity="0.32"/>
<circle cx="294.6" cy="432.2" r="2.3" fill="#d95f0e" fill-opacity="0.32"/>
<circle cx="294.6" cy="434.3" r="2.3" fill="#d95f0e" fill-opacity="0.32"/>
<circle cx="294.6" cy="436.3" r="2.3" fill="#d95f0e" fill-opacity="0.32"/>
<circle cx="294.6" cy="444.5" r="2.3" fill="#d95f0e" fill-opacity="0.32"/>
<circle cx="294.6" cy="448.7" r="2.3" fill="#d95f0e" fill-opacity="0.32"/>
<circle cx="294.6" cy="450" r="2.3" fill="#d95f0e" fill-opacity="0.32"/>
<circle cx="294.6" cy="452" r="2.3" fill="#d95f0e" fill-opacity="0.32"/>
<circle cx="294.6" cy="453.4" r="2.3" fill="#d95f0e" fill-opacity="0.32"/>
<line x1="294.6" y1="378.6" x2="306.5" y2="399.9" stroke="#4a4a4a" stroke-width="0.45"/>
<line x1="294.6" y1="402.3" x2="306.5" y2="402.5" stroke="#4a4a4a" stroke-width="0.45"/>
<line x1="294.6" y1="418.4" x2="306.5" y2="424" stroke="#4a4a4a" stroke-width="0.45"/>
<line x1="294.6" y1="424" x2="306.5" y2="439" stroke="#4a4a4a" stroke-width="0.45"/>
<line x1="294.6" y1="426" x2="306.5" y2="444.5" stroke="#4a4a4a" stroke-width="0.45"/>
<line x1="294.6" y1="432.2" x2="306.5" y2="449.3" stroke="#4a4a4a" stroke-width="0.45"/>
<line x1="294.6" y1="434.3" x2="306.5" y2="452" stroke="#4a4a4a" stroke-width="0.45"/>
<line x1="294.6" y1="436.3" x2="306.5" y2="454.4" stroke="#4a4a4a" stroke-width="0.45"/>
<line x1="294.6" y1="444.5" x2="306.5" y2="456.9" stroke="#4a4a4a" stroke-width="0.45"/>
<line x1="294.6" y1="448.7" x2="306.5" y2="452" stroke="#4a4a4a" stroke-width="0.45"/>
<line x1="294.6" y1="450" x2="306.5" y2="460.6" stroke="#4a4a4a" stroke-width="0.45"/>
<line x1="294.6" y1="452" x2="306.5" y2="454.4" stroke="#4a4a4a" stroke-width="0.45"/>
<line x1="294.6" y1="453.4" x2="306.5" y2="449.3" stroke="#4a4a4a" stroke-width="0.45"/>
<path d="M306.5 397.15L309.25 399.9L306.5 402.65L303.75 399.9Z" fill="#d95f0e" fill-opacity="0.85"/>
<path d="M306.5 399.75L309.25 402.5L306.5 405.25L303.75 402.5Z" fill="#d95f0e" fill-opacity="0.85"/>
<path d="M306.5 421.25L309.25 424L306.5 426.75L303.75 424Z" fill="#d95f0e" fill-opacity="0.85"/>
<path d="M306.5 436.25L309.25 439L306.5 441.75L303.75 439Z" fill="#d95f0e" fill-opacity="0.85"/>
<path d="M306.5 441.75L309.25 444.5L306.5 447.25L303.75 444.5Z" fill="#d95f0e" fill-opacity="0.85"/>
<path d="M306.5 446.55L309.25 449.3L306.5 452.05L303.75 449.3Z" fill="#d95f0e" fill-opacity="0.85"/>
<path d="M306.5 449.25L309.25 452L306.5 454.75L303.75 452Z" fill="#d95f0e" fill-opacity="0.85"/>
<path d="M306.5 451.65L309.25 454.4L306.5 457.15L303.75 454.4Z" fill="#d95f0e" fill-opacity="0.85"/>
<path d="M306.5 454.15L309.25 456.9L306.5 459.65L303.75 456.9Z" fill="#d95f0e" fill-opacity="0.85"/>
<path d="M306.5 449.25L309.25 452L306.5 454.75L303.75 452Z" fill="#d95f0e" fill-opacity="0.85"/>
<path d="M306.5 457.85L309.25 460.6L306.5 463.35L303.75 460.6Z" fill="#d95f0e" fill-opacity="0.85"/>
<path d="M306.5 451.65L309.25 454.4L306.5 457.15L303.75 454.4Z" fill="#d95f0e" fill-opacity="0.85"/>
<path d="M306.5 446.55L309.25 449.3L306.5 452.05L303.75 449.3Z" fill="#d95f0e" fill-opacity="0.85"/>
<circle cx="323.8" cy="394.7" r="2.3" fill="#993404" fill-opacity="0.32"/>
<circle cx="323.8" cy="425.6" r="2.3" fill="#993404" fill-opacity="0.32"/>
<circle cx="323.8" cy="428.1" r="2.3" fill="#993404" fill-opacity="0.32"/>
<circle cx="323.8" cy="446.6" r="2.3" fill="#993404" fill-opacity="0.32"/>
<circle cx="323.8" cy="448.7" r="2.3" fill="#993404" fill-opacity="0.32"/>
<circle cx="323.8" cy="458.1" r="2.3" fill="#993404" fill-opacity="0.32"/>
<line x1="323.8" y1="394.7" x2="335.7" y2="429.3" stroke="#4a4a4a" stroke-width="0.45"/>
<line x1="323.8" y1="425.6" x2="335.7" y2="441.7" stroke="#4a4a4a" stroke-width="0.45"/>
<line x1="323.8" y1="428.1" x2="335.7" y2="452.4" stroke="#4a4a4a" stroke-width="0.45"/>
<line x1="323.8" y1="446.6" x2="335.7" y2="448.7" stroke="#4a4a4a" stroke-width="0.45"/>
<line x1="323.8" y1="448.7" x2="335.7" y2="454.8" stroke="#4a4a4a" stroke-width="0.45"/>
<line x1="323.8" y1="458.1" x2="335.7" y2="448.7" stroke="#4a4a4a" stroke-width="0.45"/>
<path d="M335.7 426.55L338.45 429.3L335.7 432.05L332.95 429.3Z" fill="#993404" fill-opacity="0.85"/>
<path d="M335.7 438.95L338.45 441.7L335.7 444.45L332.95 441.7Z" fill="#993404" fill-opacity="0.85"/>
<path d="M335.7 449.65L338.45 452.4L335.7 455.15L332.95 452.4Z" fill="#993404" fill-opacity="0.85"/>
<path d="M335.7 445.95L338.45 448.7L335.7 451.45L332.95 448.7Z" fill="#993404" fill-opacity="0.85"/>
<path d="M335.7 452.05L338.45 454.8L335.7 457.55L332.95 454.8Z" fill="#993404" fill-opacity="0.85"/>
<path d="M335.7 445.95L338.45 448.7L335.7 451.45L332.95 448.7Z" fill="#993404" fill-opacity="0.85"/>
<path d="M216 355.6V352.9H328.5V355.6" fill="none" stroke="#808080" stroke-width="0.85"/>
<text x="272.35" y="351" font-size="7.7" text-anchor="middle" fill="#1e1e1e" textLength="8.7" lengthAdjust="spacingAndGlyphs">0.1</text>
<path d="M216 365.2V362.5H300.9V365.2" fill="none" stroke="#808080" stroke-width="0.85"/>
<text x="258.55" y="360.6" font-size="7.7" text-anchor="middle" fill="#1e1e1e" textLength="20.1" lengthAdjust="spacingAndGlyphs">0.002</text>
<path d="M295.1 377.4V374.7H306.6V377.4" fill="none" stroke="#808080" stroke-width="0.85"/>
<text x="301.55" y="372.8" font-size="7.7" text-anchor="middle" fill="#1e1e1e" textLength="21.9" lengthAdjust="spacingAndGlyphs">0.003</text>
<text x="352.7" y="332.8" font-size="12.6" font-weight="bold" fill="#000" stroke="#000" stroke-width="0.45">k</text>
<text x="440.65" y="334.1" font-size="8.6" text-anchor="middle" fill="#1e1e1e" textLength="50.7" lengthAdjust="spacingAndGlyphs">Lipo-IR score</text>
<line x1="377.7" y1="370.7" x2="377.7" y2="465.1" stroke="#7a7a7a" stroke-width="0.9"/>
<line x1="374.5" y1="390.6" x2="377.7" y2="390.6" stroke="#7a7a7a" stroke-width="0.8"/>
<text x="371.2" y="393.37" font-size="7.8" text-anchor="end" fill="#1e1e1e" textLength="9.37" lengthAdjust="spacingAndGlyphs">75</text>
<line x1="374.5" y1="417.4" x2="377.7" y2="417.4" stroke="#7a7a7a" stroke-width="0.8"/>
<text x="371.2" y="420.17" font-size="7.8" text-anchor="end" fill="#1e1e1e" textLength="9.37" lengthAdjust="spacingAndGlyphs">50</text>
<line x1="374.5" y1="444.1" x2="377.7" y2="444.1" stroke="#7a7a7a" stroke-width="0.8"/>
<text x="371.2" y="446.87" font-size="7.8" text-anchor="end" fill="#1e1e1e" textLength="9.37" lengthAdjust="spacingAndGlyphs">25</text>
<line x1="377.8" y1="465.1" x2="402.3" y2="465.1" stroke="#7a7a7a" stroke-width="1"/>
<line x1="406.2" y1="465.1" x2="430.7" y2="465.1" stroke="#7a7a7a" stroke-width="1"/>
<line x1="434.6" y1="465.1" x2="459.1" y2="465.1" stroke="#7a7a7a" stroke-width="1"/>
<line x1="463" y1="465.1" x2="487.5" y2="465.1" stroke="#7a7a7a" stroke-width="1"/>
<line x1="491.4" y1="465.1" x2="515.9" y2="465.1" stroke="#7a7a7a" stroke-width="1"/>
<circle cx="384.4" cy="391" r="2.3" fill="#000000" fill-opacity="0.3"/>
<circle cx="384.4" cy="396.8" r="2.3" fill="#000000" fill-opacity="0.3"/>
<circle cx="384.4" cy="398.8" r="2.3" fill="#000000" fill-opacity="0.3"/>
<circle cx="384.4" cy="401.3" r="2.3" fill="#000000" fill-opacity="0.3"/>
<circle cx="384.4" cy="403" r="2.3" fill="#000000" fill-opacity="0.3"/>
<circle cx="384.4" cy="426" r="2.3" fill="#000000" fill-opacity="0.3"/>
<circle cx="384.4" cy="428" r="2.3" fill="#000000" fill-opacity="0.3"/>
<circle cx="384.4" cy="429.7" r="2.3" fill="#000000" fill-opacity="0.3"/>
<circle cx="384.4" cy="431.4" r="2.3" fill="#000000" fill-opacity="0.3"/>
<circle cx="384.4" cy="430" r="2.3" fill="#000000" fill-opacity="0.3"/>
<line x1="384.4" y1="391" x2="395.9" y2="396.4" stroke="#4a4a4a" stroke-width="0.45"/>
<line x1="384.4" y1="396.8" x2="395.9" y2="388.1" stroke="#4a4a4a" stroke-width="0.45"/>
<line x1="384.4" y1="398.8" x2="395.9" y2="395.1" stroke="#4a4a4a" stroke-width="0.45"/>
<line x1="384.4" y1="401.3" x2="395.9" y2="402.5" stroke="#4a4a4a" stroke-width="0.45"/>
<line x1="384.4" y1="403" x2="395.9" y2="404" stroke="#4a4a4a" stroke-width="0.45"/>
<line x1="384.4" y1="426" x2="395.9" y2="404" stroke="#4a4a4a" stroke-width="0.45"/>
<line x1="384.4" y1="428" x2="395.9" y2="418.4" stroke="#4a4a4a" stroke-width="0.45"/>
<line x1="384.4" y1="429.7" x2="395.9" y2="434.3" stroke="#4a4a4a" stroke-width="0.45"/>
<line x1="384.4" y1="431.4" x2="395.9" y2="446.2" stroke="#4a4a4a" stroke-width="0.45"/>
<line x1="384.4" y1="430" x2="395.9" y2="442.5" stroke="#4a4a4a" stroke-width="0.45"/>
<path d="M395.9 393.65L398.65 396.4L395.9 399.15L393.15 396.4Z" fill="#000000" fill-opacity="0.8"/>
<path d="M395.9 385.35L398.65 388.1L395.9 390.85L393.15 388.1Z" fill="#000000" fill-opacity="0.8"/>
<path d="M395.9 392.35L398.65 395.1L395.9 397.85L393.15 395.1Z" fill="#000000" fill-opacity="0.8"/>
<path d="M395.9 399.75L398.65 402.5L395.9 405.25L393.15 402.5Z" fill="#000000" fill-opacity="0.8"/>
<path d="M395.9 401.25L398.65 404L395.9 406.75L393.15 404Z" fill="#000000" fill-opacity="0.8"/>
<path d="M395.9 401.25L398.65 404L395.9 406.75L393.15 404Z" fill="#000000" fill-opacity="0.8"/>
<path d="M395.9 415.65L398.65 418.4L395.9 421.15L393.15 418.4Z" fill="#000000" fill-opacity="0.8"/>
<path d="M395.9 431.55L398.65 434.3L395.9 437.05L393.15 434.3Z" fill="#000000" fill-opacity="0.8"/>
<path d="M395.9 443.45L398.65 446.2L395.9 448.95L393.15 446.2Z" fill="#000000" fill-opacity="0.8"/>
<path d="M395.9 439.75L398.65 442.5L395.9 445.25L393.15 442.5Z" fill="#000000" fill-opacity="0.8"/>
<circle cx="412.8" cy="409.1" r="2.3" fill="#fed98e" fill-opacity="0.32"/>
<circle cx="412.8" cy="424" r="2.3" fill="#fed98e" fill-opacity="0.32"/>
<circle cx="412.8" cy="424" r="2.3" fill="#fed98e" fill-opacity="0.32"/>
<circle cx="412.8" cy="432.8" r="2.3" fill="#fed98e" fill-opacity="0.32"/>
<circle cx="412.8" cy="441.7" r="2.3" fill="#fed98e" fill-opacity="0.32"/>
<circle cx="412.8" cy="456.5" r="2.3" fill="#fed98e" fill-opacity="0.32"/>
<circle cx="412.8" cy="432.8" r="2.3" fill="#fed98e" fill-opacity="0.32"/>
<line x1="412.8" y1="409.1" x2="424.3" y2="406.7" stroke="#4a4a4a" stroke-width="0.45"/>
<line x1="412.8" y1="424" x2="424.3" y2="414.3" stroke="#4a4a4a" stroke-width="0.45"/>
<line x1="412.8" y1="424" x2="424.3" y2="422.5" stroke="#4a4a4a" stroke-width="0.45"/>
<line x1="412.8" y1="432.8" x2="424.3" y2="456.5" stroke="#4a4a4a" stroke-width="0.45"/>
<line x1="412.8" y1="441.7" x2="424.3" y2="432.8" stroke="#4a4a4a" stroke-width="0.45"/>
<line x1="412.8" y1="456.5" x2="424.3" y2="446.6" stroke="#4a4a4a" stroke-width="0.45"/>
<line x1="412.8" y1="432.8" x2="424.3" y2="450.7" stroke="#4a4a4a" stroke-width="0.45"/>
<path d="M424.3 403.95L427.05 406.7L424.3 409.45L421.55 406.7Z" fill="#fed98e" fill-opacity="0.85"/>
<path d="M424.3 411.55L427.05 414.3L424.3 417.05L421.55 414.3Z" fill="#fed98e" fill-opacity="0.85"/>
<path d="M424.3 419.75L427.05 422.5L424.3 425.25L421.55 422.5Z" fill="#fed98e" fill-opacity="0.85"/>
<path d="M424.3 453.75L427.05 456.5L424.3 459.25L421.55 456.5Z" fill="#fed98e" fill-opacity="0.85"/>
<path d="M424.3 430.05L427.05 432.8L424.3 435.55L421.55 432.8Z" fill="#fed98e" fill-opacity="0.85"/>
<path d="M424.3 443.85L427.05 446.6L424.3 449.35L421.55 446.6Z" fill="#fed98e" fill-opacity="0.85"/>
<path d="M424.3 447.95L427.05 450.7L424.3 453.45L421.55 450.7Z" fill="#fed98e" fill-opacity="0.85"/>
<circle cx="441.2" cy="381.9" r="2.3" fill="#fe9929" fill-opacity="0.32"/>
<circle cx="441.2" cy="394.7" r="2.3" fill="#fe9929" fill-opacity="0.32"/>
<circle cx="441.2" cy="400.5" r="2.3" fill="#fe9929" fill-opacity="0.32"/>
<circle cx="441.2" cy="410.8" r="2.3" fill="#fe9929" fill-opacity="0.32"/>
<circle cx="441.2" cy="415.7" r="2.3" fill="#fe9929" fill-opacity="0.32"/>
<circle cx="441.2" cy="431.8" r="2.3" fill="#fe9929" fill-opacity="0.32"/>
<circle cx="441.2" cy="445.2" r="2.3" fill="#fe9929" fill-opacity="0.32"/>
<circle cx="441.2" cy="445.2" r="2.3" fill="#fe9929" fill-opacity="0.32"/>
<line x1="441.2" y1="381.9" x2="452.7" y2="395.7" stroke="#4a4a4a" stroke-width="0.45"/>
<line x1="441.2" y1="394.7" x2="452.7" y2="405.4" stroke="#4a4a4a" stroke-width="0.45"/>
<line x1="441.2" y1="400.5" x2="452.7" y2="411.2" stroke="#4a4a4a" stroke-width="0.45"/>
<line x1="441.2" y1="410.8" x2="452.7" y2="428.1" stroke="#4a4a4a" stroke-width="0.45"/>
<line x1="441.2" y1="415.7" x2="452.7" y2="411.2" stroke="#4a4a4a" stroke-width="0.45"/>
<line x1="441.2" y1="431.8" x2="452.7" y2="442.1" stroke="#4a4a4a" stroke-width="0.45"/>
<line x1="441.2" y1="445.2" x2="452.7" y2="430.1" stroke="#4a4a4a" stroke-width="0.45"/>
<line x1="441.2" y1="445.2" x2="452.7" y2="435.5" stroke="#4a4a4a" stroke-width="0.45"/>
<path d="M452.7 392.95L455.45 395.7L452.7 398.45L449.95 395.7Z" fill="#fe9929" fill-opacity="0.85"/>
<path d="M452.7 402.65L455.45 405.4L452.7 408.15L449.95 405.4Z" fill="#fe9929" fill-opacity="0.85"/>
<path d="M452.7 408.45L455.45 411.2L452.7 413.95L449.95 411.2Z" fill="#fe9929" fill-opacity="0.85"/>
<path d="M452.7 425.35L455.45 428.1L452.7 430.85L449.95 428.1Z" fill="#fe9929" fill-opacity="0.85"/>
<path d="M452.7 408.45L455.45 411.2L452.7 413.95L449.95 411.2Z" fill="#fe9929" fill-opacity="0.85"/>
<path d="M452.7 439.35L455.45 442.1L452.7 444.85L449.95 442.1Z" fill="#fe9929" fill-opacity="0.85"/>
<path d="M452.7 427.35L455.45 430.1L452.7 432.85L449.95 430.1Z" fill="#fe9929" fill-opacity="0.85"/>
<path d="M452.7 432.75L455.45 435.5L452.7 438.25L449.95 435.5Z" fill="#fe9929" fill-opacity="0.85"/>
<circle cx="469.6" cy="378.6" r="2.3" fill="#d95f0e" fill-opacity="0.32"/>
<circle cx="469.6" cy="390.2" r="2.3" fill="#d95f0e" fill-opacity="0.32"/>
<circle cx="469.6" cy="391" r="2.3" fill="#d95f0e" fill-opacity="0.32"/>
<circle cx="469.6" cy="407.5" r="2.3" fill="#d95f0e" fill-opacity="0.32"/>
<circle cx="469.6" cy="412.8" r="2.3" fill="#d95f0e" fill-opacity="0.32"/>
<circle cx="469.6" cy="419.8" r="2.3" fill="#d95f0e" fill-opacity="0.32"/>
<circle cx="469.6" cy="421" r="2.3" fill="#d95f0e" fill-opacity="0.32"/>
<circle cx="469.6" cy="426" r="2.3" fill="#d95f0e" fill-opacity="0.32"/>
<circle cx="469.6" cy="428.7" r="2.3" fill="#d95f0e" fill-opacity="0.32"/>
<circle cx="469.6" cy="432.8" r="2.3" fill="#d95f0e" fill-opacity="0.32"/>
<circle cx="469.6" cy="438" r="2.3" fill="#d95f0e" fill-opacity="0.32"/>
<circle cx="469.6" cy="439.5" r="2.3" fill="#d95f0e" fill-opacity="0.32"/>
<circle cx="469.6" cy="443.1" r="2.3" fill="#d95f0e" fill-opacity="0.32"/>
<line x1="469.6" y1="378.6" x2="481.1" y2="391.6" stroke="#4a4a4a" stroke-width="0.45"/>
<line x1="469.6" y1="390.2" x2="481.1" y2="418.4" stroke="#4a4a4a" stroke-width="0.45"/>
<line x1="469.6" y1="391" x2="481.1" y2="401.3" stroke="#4a4a4a" stroke-width="0.45"/>
<line x1="469.6" y1="407.5" x2="481.1" y2="429.7" stroke="#4a4a4a" stroke-width="0.45"/>
<line x1="469.6" y1="412.8" x2="481.1" y2="431.4" stroke="#4a4a4a" stroke-width="0.45"/>
<line x1="469.6" y1="419.8" x2="481.1" y2="420.5" stroke="#4a4a4a" stroke-width="0.45"/>
<line x1="469.6" y1="421" x2="481.1" y2="438" stroke="#4a4a4a" stroke-width="0.45"/>
<line x1="469.6" y1="426" x2="481.1" y2="441" stroke="#4a4a4a" stroke-width="0.45"/>
<line x1="469.6" y1="428.7" x2="481.1" y2="446.6" stroke="#4a4a4a" stroke-width="0.45"/>
<line x1="469.6" y1="432.8" x2="481.1" y2="438" stroke="#4a4a4a" stroke-width="0.45"/>
<line x1="469.6" y1="438" x2="481.1" y2="451.3" stroke="#4a4a4a" stroke-width="0.45"/>
<line x1="469.6" y1="439.5" x2="481.1" y2="446.6" stroke="#4a4a4a" stroke-width="0.45"/>
<line x1="469.6" y1="443.1" x2="481.1" y2="456.9" stroke="#4a4a4a" stroke-width="0.45"/>
<path d="M481.1 388.85L483.85 391.6L481.1 394.35L478.35 391.6Z" fill="#d95f0e" fill-opacity="0.85"/>
<path d="M481.1 415.65L483.85 418.4L481.1 421.15L478.35 418.4Z" fill="#d95f0e" fill-opacity="0.85"/>
<path d="M481.1 398.55L483.85 401.3L481.1 404.05L478.35 401.3Z" fill="#d95f0e" fill-opacity="0.85"/>
<path d="M481.1 426.95L483.85 429.7L481.1 432.45L478.35 429.7Z" fill="#d95f0e" fill-opacity="0.85"/>
<path d="M481.1 428.65L483.85 431.4L481.1 434.15L478.35 431.4Z" fill="#d95f0e" fill-opacity="0.85"/>
<path d="M481.1 417.75L483.85 420.5L481.1 423.25L478.35 420.5Z" fill="#d95f0e" fill-opacity="0.85"/>
<path d="M481.1 435.25L483.85 438L481.1 440.75L478.35 438Z" fill="#d95f0e" fill-opacity="0.85"/>
<path d="M481.1 438.25L483.85 441L481.1 443.75L478.35 441Z" fill="#d95f0e" fill-opacity="0.85"/>
<path d="M481.1 443.85L483.85 446.6L481.1 449.35L478.35 446.6Z" fill="#d95f0e" fill-opacity="0.85"/>
<path d="M481.1 435.25L483.85 438L481.1 440.75L478.35 438Z" fill="#d95f0e" fill-opacity="0.85"/>
<path d="M481.1 448.55L483.85 451.3L481.1 454.05L478.35 451.3Z" fill="#d95f0e" fill-opacity="0.85"/>
<path d="M481.1 443.85L483.85 446.6L481.1 449.35L478.35 446.6Z" fill="#d95f0e" fill-opacity="0.85"/>
<path d="M481.1 454.15L483.85 456.9L481.1 459.65L478.35 456.9Z" fill="#d95f0e" fill-opacity="0.85"/>
<circle cx="498" cy="395.7" r="2.3" fill="#993404" fill-opacity="0.32"/>
<circle cx="498" cy="404.6" r="2.3" fill="#993404" fill-opacity="0.32"/>
<circle cx="498" cy="415.7" r="2.3" fill="#993404" fill-opacity="0.32"/>
<circle cx="498" cy="419" r="2.3" fill="#993404" fill-opacity="0.32"/>
<circle cx="498" cy="424.6" r="2.3" fill="#993404" fill-opacity="0.32"/>
<circle cx="498" cy="431.8" r="2.3" fill="#993404" fill-opacity="0.32"/>
<circle cx="498" cy="442.5" r="2.3" fill="#993404" fill-opacity="0.32"/>
<circle cx="498" cy="446.2" r="2.3" fill="#993404" fill-opacity="0.32"/>
<line x1="498" y1="395.7" x2="509.5" y2="409.5" stroke="#4a4a4a" stroke-width="0.45"/>
<line x1="498" y1="404.6" x2="509.5" y2="434.2" stroke="#4a4a4a" stroke-width="0.45"/>
<line x1="498" y1="415.7" x2="509.5" y2="421.1" stroke="#4a4a4a" stroke-width="0.45"/>
<line x1="498" y1="419" x2="509.5" y2="427.7" stroke="#4a4a4a" stroke-width="0.45"/>
<line x1="498" y1="424.6" x2="509.5" y2="434.2" stroke="#4a4a4a" stroke-width="0.45"/>
<line x1="498" y1="431.8" x2="509.5" y2="439.6" stroke="#4a4a4a" stroke-width="0.45"/>
<line x1="498" y1="442.5" x2="509.5" y2="454.8" stroke="#4a4a4a" stroke-width="0.45"/>
<line x1="498" y1="446.2" x2="509.5" y2="460.6" stroke="#4a4a4a" stroke-width="0.45"/>
<path d="M509.5 406.75L512.25 409.5L509.5 412.25L506.75 409.5Z" fill="#993404" fill-opacity="0.85"/>
<path d="M509.5 431.45L512.25 434.2L509.5 436.95L506.75 434.2Z" fill="#993404" fill-opacity="0.85"/>
<path d="M509.5 418.35L512.25 421.1L509.5 423.85L506.75 421.1Z" fill="#993404" fill-opacity="0.85"/>
<path d="M509.5 424.95L512.25 427.7L509.5 430.45L506.75 427.7Z" fill="#993404" fill-opacity="0.85"/>
<path d="M509.5 431.45L512.25 434.2L509.5 436.95L506.75 434.2Z" fill="#993404" fill-opacity="0.85"/>
<path d="M509.5 436.85L512.25 439.6L509.5 442.35L506.75 439.6Z" fill="#993404" fill-opacity="0.85"/>
<path d="M509.5 452.05L512.25 454.8L509.5 457.55L506.75 454.8Z" fill="#993404" fill-opacity="0.85"/>
<path d="M509.5 457.85L512.25 460.6L509.5 463.35L506.75 460.6Z" fill="#993404" fill-opacity="0.85"/>
<path d="M392.4 354.4V351.7H504.4V354.4" fill="none" stroke="#808080" stroke-width="0.85"/>
<text x="448.55" y="349.3" font-size="7.7" text-anchor="middle" fill="#1e1e1e" textLength="15.5" lengthAdjust="spacingAndGlyphs">0.05</text>
<path d="M391.3 364.8V362.1H476.2V364.8" fill="none" stroke="#808080" stroke-width="0.85"/>
<text x="433.75" y="360.2" font-size="7.7" text-anchor="middle" fill="#1e1e1e" textLength="15.3" lengthAdjust="spacingAndGlyphs">0.05</text>
<path d="M470 377.1V374.4H481.3V377.1" fill="none" stroke="#808080" stroke-width="0.85"/>
<text x="475.45" y="372.7" font-size="7.7" text-anchor="middle" fill="#1e1e1e" textLength="14.9" lengthAdjust="spacingAndGlyphs">0.01</text>
<path d="M498.6 377.1V374.4H509.5V377.1" fill="none" stroke="#808080" stroke-width="0.85"/>
<text x="503.55" y="372.7" font-size="7.7" text-anchor="middle" fill="#1e1e1e" textLength="15.9" lengthAdjust="spacingAndGlyphs">0.04</text>
<text x="596.15" y="339.2" font-size="8.7" text-anchor="middle" fill="#1e1e1e" textLength="77.10" lengthAdjust="spacingAndGlyphs">Human clinical trial</text>
<text x="595.95" y="349.3" font-size="8.7" text-anchor="middle" fill="#1e1e1e" textLength="28.30" lengthAdjust="spacingAndGlyphs">Phase 1</text>
<line x1="571.7" y1="360.2" x2="582.4" y2="360.2" stroke="#aaa" stroke-width="0.9"/>
<circle cx="576.8" cy="360.2" r="1.8" fill="#a8a8a8"/>
<text x="585.80" y="363.4" font-size="7.4" fill="#1e1e1e" textLength="17.50" lengthAdjust="spacingAndGlyphs">Day 1</text>
<line x1="571.7" y1="373.4" x2="582.4" y2="373.4" stroke="#1e1e1e" stroke-width="0.9"/>
<path d="M576.8 371.1L579.1 373.4L576.8 375.7L574.5 373.4Z" fill="#1e1e1e"/>
<text x="585.80" y="376.6" font-size="7.4" fill="#1e1e1e" textLength="21.90" lengthAdjust="spacingAndGlyphs">Day 14</text>
<circle cx="577.2" cy="404.1" r="2.7" fill="#000000"/>
<text x="587.60" y="406.8" font-size="7.2" fill="#1e1e1e" textLength="27.60" lengthAdjust="spacingAndGlyphs">Placebo</text>
<circle cx="577.2" cy="417.1" r="2.7" fill="#fed98e"/>
<text x="585.60" y="419.8" font-size="7.2" fill="#1e1e1e" textLength="11.80" lengthAdjust="spacingAndGlyphs">0.5</text>
<circle cx="577.2" cy="430.3" r="2.7" fill="#fe9929"/>
<text x="585.60" y="433.0" font-size="7.2" fill="#1e1e1e" textLength="11.80" lengthAdjust="spacingAndGlyphs">2.0</text>
<circle cx="577.2" cy="443.4" r="2.7" fill="#d95f0e"/>
<text x="585.60" y="446.1" font-size="7.2" fill="#1e1e1e" textLength="11.80" lengthAdjust="spacingAndGlyphs">6.0</text>
<circle cx="577.2" cy="456.7" r="2.7" fill="#993404"/>
<text x="585.60" y="459.4" font-size="7.2" fill="#1e1e1e" textLength="14.40" lengthAdjust="spacingAndGlyphs">12.0</text>
<line x1="605.3" y1="422.4" x2="605.3" y2="456.7" stroke="#1e1e1e" stroke-width="0.9"/>
<text transform="translate(612.3 439.55) rotate(90)" font-size="7.3" text-anchor="middle" fill="#1e1e1e" textLength="47.9" lengthAdjust="spacingAndGlyphs">TLC-2716 (mg)</text>
</svg></body></html>
